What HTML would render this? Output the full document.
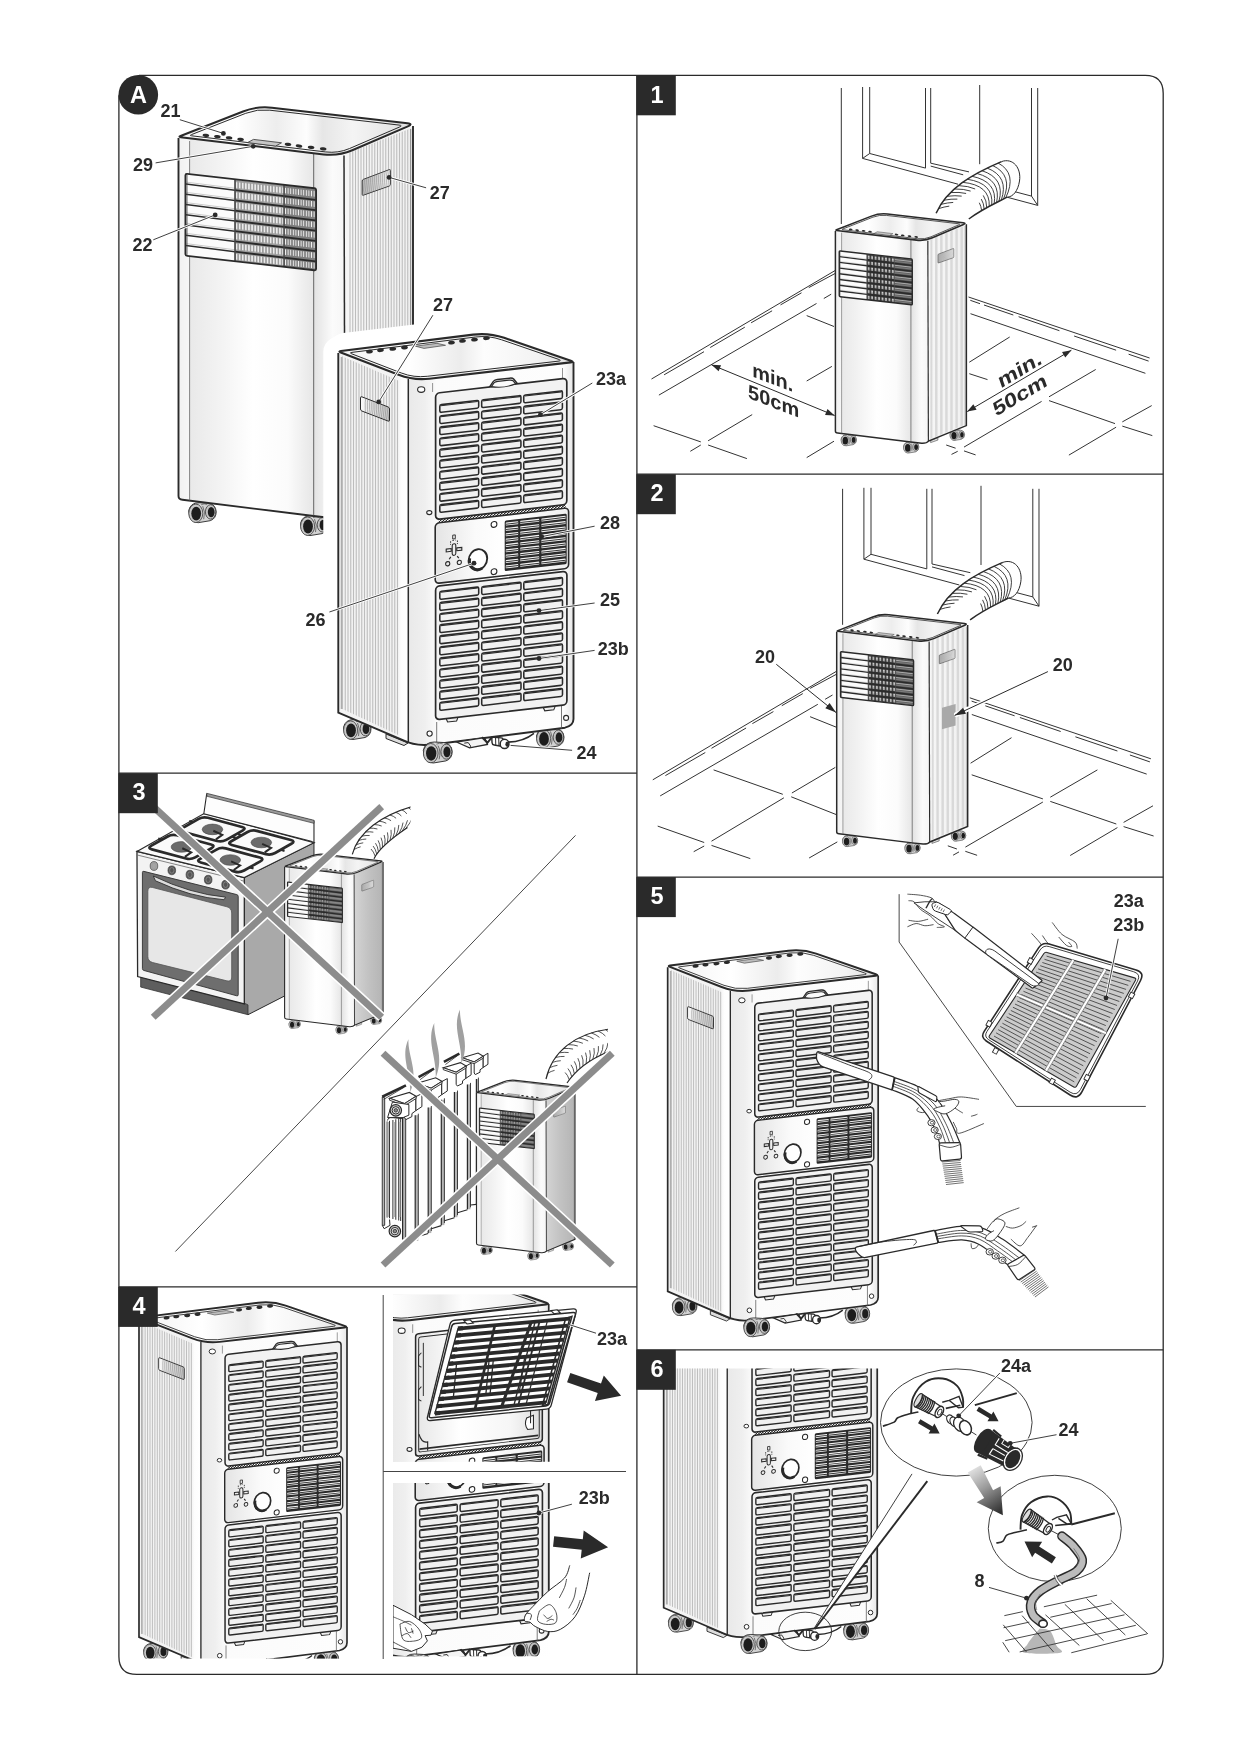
<!DOCTYPE html>
<html><head><meta charset="utf-8"><title>Portable air conditioner - illustrations</title>
<style>html,body{margin:0;padding:0;background:#fff}body{width:1240px;height:1754px;overflow:hidden}svg text{font-family:"Liberation Sans",sans-serif}</style>
</head><body>
<svg width="1240" height="1754" viewBox="0 0 1240 1754" style="display:block;filter:grayscale(1)">
<defs>

<linearGradient id="bk_side" x1="0" y1="0" x2="1" y2="0">
 <stop offset="0" stop-color="#f4f4f4"/><stop offset="0.84" stop-color="#f2f2f2"/><stop offset="0.9" stop-color="#fdfdfd"/><stop offset="1" stop-color="#ffffff"/>
</linearGradient>
<linearGradient id="bk_back" x1="0" y1="0" x2="1" y2="0">
 <stop offset="0" stop-color="#e9e9e9"/><stop offset="0.10" stop-color="#efefef"/><stop offset="0.17" stop-color="#fbfbfb"/><stop offset="0.94" stop-color="#fdfdfd"/><stop offset="1" stop-color="#e6e6e6"/>
</linearGradient>
<linearGradient id="bk_top" x1="0" y1="0" x2="1" y2="0">
 <stop offset="0" stop-color="#f2f2f2"/><stop offset="0.3" stop-color="#ffffff"/><stop offset="0.52" stop-color="#ececec"/><stop offset="0.62" stop-color="#fdfdfd"/><stop offset="0.85" stop-color="#f3f3f3"/><stop offset="1" stop-color="#dedede"/>
</linearGradient>
<linearGradient id="bk_mid" x1="0" y1="0" x2="1" y2="0">
 <stop offset="0" stop-color="#e4e4e4"/><stop offset="0.3" stop-color="#fafafa"/><stop offset="0.52" stop-color="#ffffff"/><stop offset="1" stop-color="#f0f0f0"/>
</linearGradient>
<linearGradient id="bk_hgrad" x1="0" y1="0" x2="1" y2="0">
 <stop offset="0" stop-color="#fbfbfb"/><stop offset="0.4" stop-color="#e2e2e2"/><stop offset="1" stop-color="#c4c4c4"/>
</linearGradient>
<linearGradient id="bk_open" x1="0" y1="0" x2="1" y2="0">
 <stop offset="0" stop-color="#e6e6e6"/><stop offset="0.35" stop-color="#ffffff"/><stop offset="0.75" stop-color="#f6f6f6"/><stop offset="1" stop-color="#dcdcdc"/>
</linearGradient>
<pattern id="hatch" width="3.4" height="6" patternUnits="userSpaceOnUse" patternTransform="skewX(-55)">
 <rect x="0" y="0" width="1.7" height="6" fill="#2b2a29"/>
</pattern>

<g id="backunit"><g transform="translate(357,729.5) scale(1)"><path d="M-13.5,-2 Q-12,-10 -3,-10 L6,-9.5 Q13.5,-8.5 14,-1 Q14,6 8,8 L-4,10 Q-13,10 -13.5,-2 Z" fill="#d2d2d2" stroke="#2b2a29" stroke-width="0.9"/><ellipse cx="8.4" cy="-0.8" rx="5.2" ry="7.2" fill="#c2c2c2" stroke="#3a3a3a" stroke-width="0.8"/><ellipse cx="9" cy="-0.6" rx="3.4" ry="5.2" fill="#1d1d1d"/><ellipse cx="-6.4" cy="0.6" rx="7" ry="9.2" fill="#c8c8c8" stroke="#3a3a3a" stroke-width="0.8"/><ellipse cx="-6" cy="0.9" rx="4.9" ry="6.9" fill="#1d1d1d"/><path d="M0.5,-6.5 Q3.5,-1 1.5,6.5" fill="none" stroke="#555" stroke-width="0.8"/><path d="M-1,-8 Q2,-9.5 5,-8.2" fill="none" stroke="#555" stroke-width="0.7"/></g>
<g transform="translate(550,738) scale(1)"><path d="M-13.5,-2 Q-12,-10 -3,-10 L6,-9.5 Q13.5,-8.5 14,-1 Q14,6 8,8 L-4,10 Q-13,10 -13.5,-2 Z" fill="#d2d2d2" stroke="#2b2a29" stroke-width="0.9"/><ellipse cx="8.4" cy="-0.8" rx="5.2" ry="7.2" fill="#c2c2c2" stroke="#3a3a3a" stroke-width="0.8"/><ellipse cx="9" cy="-0.6" rx="3.4" ry="5.2" fill="#1d1d1d"/><ellipse cx="-6.4" cy="0.6" rx="7" ry="9.2" fill="#c8c8c8" stroke="#3a3a3a" stroke-width="0.8"/><ellipse cx="-6" cy="0.9" rx="4.9" ry="6.9" fill="#1d1d1d"/><path d="M0.5,-6.5 Q3.5,-1 1.5,6.5" fill="none" stroke="#555" stroke-width="0.8"/><path d="M-1,-8 Q2,-9.5 5,-8.2" fill="none" stroke="#555" stroke-width="0.7"/></g>
<path d="M386,734 L386,738.5 L404,745.5 L408,743 Z" fill="#ddd" stroke="#2b2a29" stroke-width="1" />
<path d="M338.3,352 L408.3,380 L408.3,742.5 L338.3,712.6 Z" fill="url(#bk_side)" stroke="none"/>
<clipPath id="bk_sideclip"><path d="M341.3,356 L399.3,381 L399.3,735.5 L341.3,708.5 Z"/></clipPath>
<g clip-path="url(#bk_sideclip)" stroke="#bdbdbd" stroke-width="1.1"><line x1="342.5" y1="350" x2="342.5" y2="745"/><line x1="345.25" y1="350" x2="345.25" y2="745"/><line x1="348" y1="350" x2="348" y2="745"/><line x1="350.75" y1="350" x2="350.75" y2="745"/><line x1="353.5" y1="350" x2="353.5" y2="745"/><line x1="356.25" y1="350" x2="356.25" y2="745"/><line x1="359" y1="350" x2="359" y2="745"/><line x1="361.75" y1="350" x2="361.75" y2="745"/><line x1="364.5" y1="350" x2="364.5" y2="745"/><line x1="367.25" y1="350" x2="367.25" y2="745"/><line x1="370" y1="350" x2="370" y2="745"/><line x1="372.75" y1="350" x2="372.75" y2="745"/><line x1="375.5" y1="350" x2="375.5" y2="745"/><line x1="378.25" y1="350" x2="378.25" y2="745"/><line x1="381" y1="350" x2="381" y2="745"/><line x1="383.75" y1="350" x2="383.75" y2="745"/><line x1="386.5" y1="350" x2="386.5" y2="745"/><line x1="389.25" y1="350" x2="389.25" y2="745"/><line x1="392" y1="350" x2="392" y2="745"/><line x1="394.75" y1="350" x2="394.75" y2="745"/><line x1="397.5" y1="350" x2="397.5" y2="745"/></g>
<path d="M408.3,380 L573.5,362 L573.5,719 Q573.5,725.5 565,727.7 L437,744 Q420,745.6 408.3,742.5 Z" fill="url(#bk_back)" stroke="none"/>
<path d="M338.3,353 L338.3,712.6 L404,740.6 Q412,744.6 424,745 Q431,744.9 437,744 L565,727.7 Q573.5,725.5 573.5,719 L573.5,362" fill="none" stroke="#2b2a29" stroke-width="1.9" />
<line x1="408.3" y1="379" x2="408.3" y2="742.5" stroke="#2b2a29" stroke-width="1.5" />
<line x1="341.3" y1="357" x2="341.3" y2="709" stroke="#777" stroke-width="0.7" />
<line x1="436.7" y1="722" x2="436.7" y2="743.8" stroke="#555" stroke-width="0.8" />
<line x1="561.5" y1="706" x2="561.5" y2="728.5" stroke="#555" stroke-width="0.8" />
<line x1="432.6" y1="383" x2="432.6" y2="392" stroke="#777" stroke-width="0.8" />
<line x1="562.5" y1="368" x2="562.5" y2="380" stroke="#777" stroke-width="0.8" />
<path d="M340.8,352.48 Q338,351.4 340.98,351.03 L473.12,334.58 Q489,332.6 504.13,337.8 L570.82,360.7 Q574.6,362 570.63,362.46 L429.39,378.76 Q413.5,380.6 398.58,374.83 Z" fill="url(#bk_top)" stroke="#2b2a29" stroke-width="2.2" />
<path d="M351.78,353.84 Q348.98,352.75 351.96,352.38 L475.32,337.02 Q488.71,335.36 501.48,339.74 L558.2,359.22 Q562.46,360.68 557.99,361.2 L427.26,376.29 Q413.85,377.84 401.26,372.97 Z" fill="none" stroke="#2b2a29" stroke-width="1.0" />
<ellipse cx="369.5" cy="351.6" rx="3.4" ry="1.9" fill="#2b2a29" transform="rotate(-6 369.5 351.6)"/>
<ellipse cx="380.5" cy="350.2" rx="3.4" ry="1.9" fill="#2b2a29" transform="rotate(-6 380.5 350.2)"/>
<ellipse cx="392.8" cy="348.9" rx="3.4" ry="1.9" fill="#2b2a29" transform="rotate(-6 392.8 348.9)"/>
<ellipse cx="404.5" cy="347.5" rx="3.4" ry="1.9" fill="#2b2a29" transform="rotate(-6 404.5 347.5)"/>
<ellipse cx="451.5" cy="342.6" rx="3.4" ry="1.9" fill="#2b2a29" transform="rotate(-6 451.5 342.6)"/>
<ellipse cx="462.5" cy="340.9" rx="3.4" ry="1.9" fill="#2b2a29" transform="rotate(-6 462.5 340.9)"/>
<ellipse cx="474.5" cy="339.6" rx="3.4" ry="1.9" fill="#2b2a29" transform="rotate(-6 474.5 339.6)"/>
<ellipse cx="486.5" cy="338.2" rx="3.4" ry="1.9" fill="#2b2a29" transform="rotate(-6 486.5 338.2)"/>
<path d="M415.5,346.2 L437,343.3 L445.5,345.3 L424,348.4 Z" fill="#bdbdbd" stroke="#555" stroke-width="0.8" />
<path d="M360.5,397.8 Q360.5,396.3 361.9,396.84 L388.1,406.96 Q389.5,407.5 389.5,409 L389.5,420.1 Q389.5,421.6 388.1,421.06 L361.9,411.04 Q360.5,410.5 360.5,409 Z" fill="url(#bk_hgrad)" stroke="#2b2a29" stroke-width="1.0" />
<clipPath id="bk_hclip"><path d="M361,397 L389,408 L389,421 L361,410 Z"/></clipPath>
<g clip-path="url(#bk_hclip)" stroke="#888" stroke-width="0.6" fill="none"><path d="M366,396 Q363.5,409 368,424"/><path d="M368.2,396 Q365.7,409 370.2,424"/><path d="M370.4,396 Q367.9,409 372.4,424"/><path d="M372.6,396 Q370.1,409 374.6,424"/><path d="M374.8,396 Q372.3,409 376.8,424"/><path d="M377,396 Q374.5,409 379,424"/><path d="M379.2,396 Q376.7,409 381.2,424"/><path d="M381.4,396 Q378.9,409 383.4,424"/><path d="M383.6,396 Q381.1,409 385.6,424"/><path d="M385.8,396 Q383.3,409 387.8,424"/><path d="M388,396 Q385.5,409 390,424"/><path d="M390.2,396 Q387.7,409 392.2,424"/></g>
<ellipse cx="421.2" cy="389.6" rx="3.6" ry="2.8" fill="#fff" stroke="#2b2a29" stroke-width="1.1"/>
<ellipse cx="429.3" cy="512.6" rx="2.6" ry="2.0" fill="#fff" stroke="#2b2a29" stroke-width="1.1"/>
<ellipse cx="429.6" cy="733.6" rx="2.6" ry="2.6" fill="#fff" stroke="#2b2a29" stroke-width="1.1"/>
<ellipse cx="566.1" cy="717.9" rx="2.5" ry="2.5" fill="#fff" stroke="#2b2a29" stroke-width="1.1"/>
<g transform="translate(435.6,519.2) skewY(-6.56)"><rect x="3" y="0.3" width="127" height="4.2" fill="url(#hatch)"/></g>
<g transform="translate(435.6,393.2) skewY(-6.56)"><path d="M53.14,1 L57.73,-5.2 Q59.04,-6.5 61.66,-6.5 L74.13,-6.5 Q76.75,-6.5 78.06,-5.2 L82.66,1" fill="#f4f4f4" stroke="#2b2a29" stroke-width="1.5"/><rect x="0" y="0" width="131.2" height="126.4" rx="4" ry="4" fill="#f2f2f2" stroke="#2b2a29" stroke-width="1.7"/><path d="M55.76,-0.2 L58.38,-3.6 Q59.7,-4.6 62.32,-4.6 L73.47,-4.6 Q76.1,-4.6 77.41,-3.6 L80.03,-0.2 Q68.22,3.4 55.76,-0.2Z" fill="#fafafa" stroke="#2b2a29" stroke-width="1.2"/><rect x="4.21" y="12.1" width="38.86" height="7.7" rx="1.6" fill="#f1f1f1" stroke="#2b2a29" stroke-width="1.55"/><line x1="5.21" y1="13.1" x2="42.07" y2="13.1" stroke="#2b2a29" stroke-width="1.1"/><rect x="4.21" y="23.2" width="38.86" height="7.7" rx="1.6" fill="#f1f1f1" stroke="#2b2a29" stroke-width="1.55"/><line x1="5.21" y1="24.2" x2="42.07" y2="24.2" stroke="#2b2a29" stroke-width="1.1"/><rect x="4.21" y="34.3" width="38.86" height="7.7" rx="1.6" fill="#f1f1f1" stroke="#2b2a29" stroke-width="1.55"/><line x1="5.21" y1="35.3" x2="42.07" y2="35.3" stroke="#2b2a29" stroke-width="1.1"/><rect x="4.21" y="45.4" width="38.86" height="7.7" rx="1.6" fill="#f1f1f1" stroke="#2b2a29" stroke-width="1.55"/><line x1="5.21" y1="46.4" x2="42.07" y2="46.4" stroke="#2b2a29" stroke-width="1.1"/><rect x="4.21" y="56.5" width="38.86" height="7.7" rx="1.6" fill="#f1f1f1" stroke="#2b2a29" stroke-width="1.55"/><line x1="5.21" y1="57.5" x2="42.07" y2="57.5" stroke="#2b2a29" stroke-width="1.1"/><rect x="4.21" y="67.6" width="38.86" height="7.7" rx="1.6" fill="#f1f1f1" stroke="#2b2a29" stroke-width="1.55"/><line x1="5.21" y1="68.6" x2="42.07" y2="68.6" stroke="#2b2a29" stroke-width="1.1"/><rect x="4.21" y="78.7" width="38.86" height="7.7" rx="1.6" fill="#f1f1f1" stroke="#2b2a29" stroke-width="1.55"/><line x1="5.21" y1="79.7" x2="42.07" y2="79.7" stroke="#2b2a29" stroke-width="1.1"/><rect x="4.21" y="89.8" width="38.86" height="7.7" rx="1.6" fill="#f1f1f1" stroke="#2b2a29" stroke-width="1.55"/><line x1="5.21" y1="90.8" x2="42.07" y2="90.8" stroke="#2b2a29" stroke-width="1.1"/><rect x="4.21" y="100.9" width="38.86" height="7.7" rx="1.6" fill="#f1f1f1" stroke="#2b2a29" stroke-width="1.55"/><line x1="5.21" y1="101.9" x2="42.07" y2="101.9" stroke="#2b2a29" stroke-width="1.1"/><rect x="4.21" y="112" width="38.86" height="7.7" rx="1.6" fill="#f1f1f1" stroke="#2b2a29" stroke-width="1.55"/><line x1="5.21" y1="113" x2="42.07" y2="113" stroke="#2b2a29" stroke-width="1.1"/><rect x="46.07" y="12.1" width="39.26" height="7.7" rx="1.6" fill="#f1f1f1" stroke="#2b2a29" stroke-width="1.55"/><line x1="47.07" y1="13.1" x2="84.33" y2="13.1" stroke="#2b2a29" stroke-width="1.1"/><rect x="46.07" y="23.2" width="39.26" height="7.7" rx="1.6" fill="#f1f1f1" stroke="#2b2a29" stroke-width="1.55"/><line x1="47.07" y1="24.2" x2="84.33" y2="24.2" stroke="#2b2a29" stroke-width="1.1"/><rect x="46.07" y="34.3" width="39.26" height="7.7" rx="1.6" fill="#f1f1f1" stroke="#2b2a29" stroke-width="1.55"/><line x1="47.07" y1="35.3" x2="84.33" y2="35.3" stroke="#2b2a29" stroke-width="1.1"/><rect x="46.07" y="45.4" width="39.26" height="7.7" rx="1.6" fill="#f1f1f1" stroke="#2b2a29" stroke-width="1.55"/><line x1="47.07" y1="46.4" x2="84.33" y2="46.4" stroke="#2b2a29" stroke-width="1.1"/><rect x="46.07" y="56.5" width="39.26" height="7.7" rx="1.6" fill="#f1f1f1" stroke="#2b2a29" stroke-width="1.55"/><line x1="47.07" y1="57.5" x2="84.33" y2="57.5" stroke="#2b2a29" stroke-width="1.1"/><rect x="46.07" y="67.6" width="39.26" height="7.7" rx="1.6" fill="#f1f1f1" stroke="#2b2a29" stroke-width="1.55"/><line x1="47.07" y1="68.6" x2="84.33" y2="68.6" stroke="#2b2a29" stroke-width="1.1"/><rect x="46.07" y="78.7" width="39.26" height="7.7" rx="1.6" fill="#f1f1f1" stroke="#2b2a29" stroke-width="1.55"/><line x1="47.07" y1="79.7" x2="84.33" y2="79.7" stroke="#2b2a29" stroke-width="1.1"/><rect x="46.07" y="89.8" width="39.26" height="7.7" rx="1.6" fill="#f1f1f1" stroke="#2b2a29" stroke-width="1.55"/><line x1="47.07" y1="90.8" x2="84.33" y2="90.8" stroke="#2b2a29" stroke-width="1.1"/><rect x="46.07" y="100.9" width="39.26" height="7.7" rx="1.6" fill="#f1f1f1" stroke="#2b2a29" stroke-width="1.55"/><line x1="47.07" y1="101.9" x2="84.33" y2="101.9" stroke="#2b2a29" stroke-width="1.1"/><rect x="46.07" y="112" width="39.26" height="7.7" rx="1.6" fill="#f1f1f1" stroke="#2b2a29" stroke-width="1.55"/><line x1="47.07" y1="113" x2="84.33" y2="113" stroke="#2b2a29" stroke-width="1.1"/><rect x="88.13" y="12.1" width="38.66" height="7.7" rx="1.6" fill="#f1f1f1" stroke="#2b2a29" stroke-width="1.55"/><line x1="89.13" y1="13.1" x2="125.79" y2="13.1" stroke="#2b2a29" stroke-width="1.1"/><rect x="88.13" y="23.2" width="38.66" height="7.7" rx="1.6" fill="#f1f1f1" stroke="#2b2a29" stroke-width="1.55"/><line x1="89.13" y1="24.2" x2="125.79" y2="24.2" stroke="#2b2a29" stroke-width="1.1"/><rect x="88.13" y="34.3" width="38.66" height="7.7" rx="1.6" fill="#f1f1f1" stroke="#2b2a29" stroke-width="1.55"/><line x1="89.13" y1="35.3" x2="125.79" y2="35.3" stroke="#2b2a29" stroke-width="1.1"/><rect x="88.13" y="45.4" width="38.66" height="7.7" rx="1.6" fill="#f1f1f1" stroke="#2b2a29" stroke-width="1.55"/><line x1="89.13" y1="46.4" x2="125.79" y2="46.4" stroke="#2b2a29" stroke-width="1.1"/><rect x="88.13" y="56.5" width="38.66" height="7.7" rx="1.6" fill="#f1f1f1" stroke="#2b2a29" stroke-width="1.55"/><line x1="89.13" y1="57.5" x2="125.79" y2="57.5" stroke="#2b2a29" stroke-width="1.1"/><rect x="88.13" y="67.6" width="38.66" height="7.7" rx="1.6" fill="#f1f1f1" stroke="#2b2a29" stroke-width="1.55"/><line x1="89.13" y1="68.6" x2="125.79" y2="68.6" stroke="#2b2a29" stroke-width="1.1"/><rect x="88.13" y="78.7" width="38.66" height="7.7" rx="1.6" fill="#f1f1f1" stroke="#2b2a29" stroke-width="1.55"/><line x1="89.13" y1="79.7" x2="125.79" y2="79.7" stroke="#2b2a29" stroke-width="1.1"/><rect x="88.13" y="89.8" width="38.66" height="7.7" rx="1.6" fill="#f1f1f1" stroke="#2b2a29" stroke-width="1.55"/><line x1="89.13" y1="90.8" x2="125.79" y2="90.8" stroke="#2b2a29" stroke-width="1.1"/><rect x="88.13" y="100.9" width="38.66" height="7.7" rx="1.6" fill="#f1f1f1" stroke="#2b2a29" stroke-width="1.55"/><line x1="89.13" y1="101.9" x2="125.79" y2="101.9" stroke="#2b2a29" stroke-width="1.1"/><rect x="88.13" y="112" width="38.66" height="7.7" rx="1.6" fill="#f1f1f1" stroke="#2b2a29" stroke-width="1.55"/><line x1="89.13" y1="113" x2="125.79" y2="113" stroke="#2b2a29" stroke-width="1.1"/></g>
<g transform="translate(435.6,586.3) skewY(-6.56)"><path d="M10.5,133.5 l1.5,3.6 l9,0 l1.5,-3.6" fill="#eee" stroke="#2b2a29" stroke-width="1.1"/><path d="M107.67,133.5 l1.5,3.6 l9,0 l1.5,-3.6" fill="#eee" stroke="#2b2a29" stroke-width="1.1"/><rect x="0" y="0" width="131.3" height="133.5" rx="4" ry="4" fill="#f2f2f2" stroke="#2b2a29" stroke-width="1.7"/><rect x="4.21" y="5.6" width="38.89" height="8" rx="1.6" fill="#f1f1f1" stroke="#2b2a29" stroke-width="1.55"/><line x1="5.21" y1="6.6" x2="42.1" y2="6.6" stroke="#2b2a29" stroke-width="1.1"/><rect x="4.21" y="16.7" width="38.89" height="8" rx="1.6" fill="#f1f1f1" stroke="#2b2a29" stroke-width="1.55"/><line x1="5.21" y1="17.7" x2="42.1" y2="17.7" stroke="#2b2a29" stroke-width="1.1"/><rect x="4.21" y="27.8" width="38.89" height="8" rx="1.6" fill="#f1f1f1" stroke="#2b2a29" stroke-width="1.55"/><line x1="5.21" y1="28.8" x2="42.1" y2="28.8" stroke="#2b2a29" stroke-width="1.1"/><rect x="4.21" y="38.9" width="38.89" height="8" rx="1.6" fill="#f1f1f1" stroke="#2b2a29" stroke-width="1.55"/><line x1="5.21" y1="39.9" x2="42.1" y2="39.9" stroke="#2b2a29" stroke-width="1.1"/><rect x="4.21" y="50" width="38.89" height="8" rx="1.6" fill="#f1f1f1" stroke="#2b2a29" stroke-width="1.55"/><line x1="5.21" y1="51" x2="42.1" y2="51" stroke="#2b2a29" stroke-width="1.1"/><rect x="4.21" y="61.1" width="38.89" height="8" rx="1.6" fill="#f1f1f1" stroke="#2b2a29" stroke-width="1.55"/><line x1="5.21" y1="62.1" x2="42.1" y2="62.1" stroke="#2b2a29" stroke-width="1.1"/><rect x="4.21" y="72.2" width="38.89" height="8" rx="1.6" fill="#f1f1f1" stroke="#2b2a29" stroke-width="1.55"/><line x1="5.21" y1="73.2" x2="42.1" y2="73.2" stroke="#2b2a29" stroke-width="1.1"/><rect x="4.21" y="83.3" width="38.89" height="8" rx="1.6" fill="#f1f1f1" stroke="#2b2a29" stroke-width="1.55"/><line x1="5.21" y1="84.3" x2="42.1" y2="84.3" stroke="#2b2a29" stroke-width="1.1"/><rect x="4.21" y="94.4" width="38.89" height="8" rx="1.6" fill="#f1f1f1" stroke="#2b2a29" stroke-width="1.55"/><line x1="5.21" y1="95.4" x2="42.1" y2="95.4" stroke="#2b2a29" stroke-width="1.1"/><rect x="4.21" y="105.5" width="38.89" height="8" rx="1.6" fill="#f1f1f1" stroke="#2b2a29" stroke-width="1.55"/><line x1="5.21" y1="106.5" x2="42.1" y2="106.5" stroke="#2b2a29" stroke-width="1.1"/><rect x="4.21" y="116.6" width="38.89" height="8" rx="1.6" fill="#f1f1f1" stroke="#2b2a29" stroke-width="1.55"/><line x1="5.21" y1="117.6" x2="42.1" y2="117.6" stroke="#2b2a29" stroke-width="1.1"/><rect x="46.11" y="5.6" width="39.29" height="8" rx="1.6" fill="#f1f1f1" stroke="#2b2a29" stroke-width="1.55"/><line x1="47.11" y1="6.6" x2="84.4" y2="6.6" stroke="#2b2a29" stroke-width="1.1"/><rect x="46.11" y="16.7" width="39.29" height="8" rx="1.6" fill="#f1f1f1" stroke="#2b2a29" stroke-width="1.55"/><line x1="47.11" y1="17.7" x2="84.4" y2="17.7" stroke="#2b2a29" stroke-width="1.1"/><rect x="46.11" y="27.8" width="39.29" height="8" rx="1.6" fill="#f1f1f1" stroke="#2b2a29" stroke-width="1.55"/><line x1="47.11" y1="28.8" x2="84.4" y2="28.8" stroke="#2b2a29" stroke-width="1.1"/><rect x="46.11" y="38.9" width="39.29" height="8" rx="1.6" fill="#f1f1f1" stroke="#2b2a29" stroke-width="1.55"/><line x1="47.11" y1="39.9" x2="84.4" y2="39.9" stroke="#2b2a29" stroke-width="1.1"/><rect x="46.11" y="50" width="39.29" height="8" rx="1.6" fill="#f1f1f1" stroke="#2b2a29" stroke-width="1.55"/><line x1="47.11" y1="51" x2="84.4" y2="51" stroke="#2b2a29" stroke-width="1.1"/><rect x="46.11" y="61.1" width="39.29" height="8" rx="1.6" fill="#f1f1f1" stroke="#2b2a29" stroke-width="1.55"/><line x1="47.11" y1="62.1" x2="84.4" y2="62.1" stroke="#2b2a29" stroke-width="1.1"/><rect x="46.11" y="72.2" width="39.29" height="8" rx="1.6" fill="#f1f1f1" stroke="#2b2a29" stroke-width="1.55"/><line x1="47.11" y1="73.2" x2="84.4" y2="73.2" stroke="#2b2a29" stroke-width="1.1"/><rect x="46.11" y="83.3" width="39.29" height="8" rx="1.6" fill="#f1f1f1" stroke="#2b2a29" stroke-width="1.55"/><line x1="47.11" y1="84.3" x2="84.4" y2="84.3" stroke="#2b2a29" stroke-width="1.1"/><rect x="46.11" y="94.4" width="39.29" height="8" rx="1.6" fill="#f1f1f1" stroke="#2b2a29" stroke-width="1.55"/><line x1="47.11" y1="95.4" x2="84.4" y2="95.4" stroke="#2b2a29" stroke-width="1.1"/><rect x="46.11" y="105.5" width="39.29" height="8" rx="1.6" fill="#f1f1f1" stroke="#2b2a29" stroke-width="1.55"/><line x1="47.11" y1="106.5" x2="84.4" y2="106.5" stroke="#2b2a29" stroke-width="1.1"/><rect x="46.11" y="116.6" width="39.29" height="8" rx="1.6" fill="#f1f1f1" stroke="#2b2a29" stroke-width="1.55"/><line x1="47.11" y1="117.6" x2="84.4" y2="117.6" stroke="#2b2a29" stroke-width="1.1"/><rect x="88.2" y="5.6" width="38.69" height="8" rx="1.6" fill="#f1f1f1" stroke="#2b2a29" stroke-width="1.55"/><line x1="89.2" y1="6.6" x2="125.89" y2="6.6" stroke="#2b2a29" stroke-width="1.1"/><rect x="88.2" y="16.7" width="38.69" height="8" rx="1.6" fill="#f1f1f1" stroke="#2b2a29" stroke-width="1.55"/><line x1="89.2" y1="17.7" x2="125.89" y2="17.7" stroke="#2b2a29" stroke-width="1.1"/><rect x="88.2" y="27.8" width="38.69" height="8" rx="1.6" fill="#f1f1f1" stroke="#2b2a29" stroke-width="1.55"/><line x1="89.2" y1="28.8" x2="125.89" y2="28.8" stroke="#2b2a29" stroke-width="1.1"/><rect x="88.2" y="38.9" width="38.69" height="8" rx="1.6" fill="#f1f1f1" stroke="#2b2a29" stroke-width="1.55"/><line x1="89.2" y1="39.9" x2="125.89" y2="39.9" stroke="#2b2a29" stroke-width="1.1"/><rect x="88.2" y="50" width="38.69" height="8" rx="1.6" fill="#f1f1f1" stroke="#2b2a29" stroke-width="1.55"/><line x1="89.2" y1="51" x2="125.89" y2="51" stroke="#2b2a29" stroke-width="1.1"/><rect x="88.2" y="61.1" width="38.69" height="8" rx="1.6" fill="#f1f1f1" stroke="#2b2a29" stroke-width="1.55"/><line x1="89.2" y1="62.1" x2="125.89" y2="62.1" stroke="#2b2a29" stroke-width="1.1"/><rect x="88.2" y="72.2" width="38.69" height="8" rx="1.6" fill="#f1f1f1" stroke="#2b2a29" stroke-width="1.55"/><line x1="89.2" y1="73.2" x2="125.89" y2="73.2" stroke="#2b2a29" stroke-width="1.1"/><rect x="88.2" y="83.3" width="38.69" height="8" rx="1.6" fill="#f1f1f1" stroke="#2b2a29" stroke-width="1.55"/><line x1="89.2" y1="84.3" x2="125.89" y2="84.3" stroke="#2b2a29" stroke-width="1.1"/><rect x="88.2" y="94.4" width="38.69" height="8" rx="1.6" fill="#f1f1f1" stroke="#2b2a29" stroke-width="1.55"/><line x1="89.2" y1="95.4" x2="125.89" y2="95.4" stroke="#2b2a29" stroke-width="1.1"/><rect x="88.2" y="105.5" width="38.69" height="8" rx="1.6" fill="#f1f1f1" stroke="#2b2a29" stroke-width="1.55"/><line x1="89.2" y1="106.5" x2="125.89" y2="106.5" stroke="#2b2a29" stroke-width="1.1"/><rect x="88.2" y="116.6" width="38.69" height="8" rx="1.6" fill="#f1f1f1" stroke="#2b2a29" stroke-width="1.55"/><line x1="89.2" y1="117.6" x2="125.89" y2="117.6" stroke="#2b2a29" stroke-width="1.1"/></g>
<g transform="translate(435.2,523.2) skewY(-6.56)"><rect x="0" y="0" width="133.4" height="60.4" rx="4" fill="url(#bk_mid)" stroke="#2b2a29" stroke-width="1.6"/><rect x="69.5" y="5.5" width="62" height="50.5" rx="1.5" fill="#2b2a29"/><rect x="70.6" y="7.5" width="12.4" height="3.0" rx="0.5" fill="#f4f4f4"/><rect x="70.6" y="8.65" width="12.4" height="1.0" fill="#333"/><rect x="70.6" y="12.85" width="12.4" height="3.0" rx="0.5" fill="#f4f4f4"/><rect x="70.6" y="14" width="12.4" height="1.0" fill="#333"/><rect x="70.6" y="18.2" width="12.4" height="3.0" rx="0.5" fill="#f4f4f4"/><rect x="70.6" y="19.35" width="12.4" height="1.0" fill="#333"/><rect x="70.6" y="23.55" width="12.4" height="3.0" rx="0.5" fill="#f4f4f4"/><rect x="70.6" y="24.7" width="12.4" height="1.0" fill="#333"/><rect x="70.6" y="28.9" width="12.4" height="3.0" rx="0.5" fill="#f4f4f4"/><rect x="70.6" y="30.05" width="12.4" height="1.0" fill="#333"/><rect x="70.6" y="34.25" width="12.4" height="3.0" rx="0.5" fill="#f4f4f4"/><rect x="70.6" y="35.4" width="12.4" height="1.0" fill="#333"/><rect x="70.6" y="39.6" width="12.4" height="3.0" rx="0.5" fill="#f4f4f4"/><rect x="70.6" y="40.75" width="12.4" height="1.0" fill="#333"/><rect x="70.6" y="44.95" width="12.4" height="3.0" rx="0.5" fill="#f4f4f4"/><rect x="70.6" y="46.1" width="12.4" height="1.0" fill="#333"/><rect x="70.6" y="50.3" width="12.4" height="3.0" rx="0.5" fill="#f4f4f4"/><rect x="70.6" y="51.45" width="12.4" height="1.0" fill="#333"/><rect x="85" y="7.5" width="19" height="3.0" rx="0.5" fill="#f4f4f4"/><rect x="85" y="8.65" width="19" height="1.0" fill="#333"/><rect x="85" y="12.85" width="19" height="3.0" rx="0.5" fill="#f4f4f4"/><rect x="85" y="14" width="19" height="1.0" fill="#333"/><rect x="85" y="18.2" width="19" height="3.0" rx="0.5" fill="#f4f4f4"/><rect x="85" y="19.35" width="19" height="1.0" fill="#333"/><rect x="85" y="23.55" width="19" height="3.0" rx="0.5" fill="#f4f4f4"/><rect x="85" y="24.7" width="19" height="1.0" fill="#333"/><rect x="85" y="28.9" width="19" height="3.0" rx="0.5" fill="#f4f4f4"/><rect x="85" y="30.05" width="19" height="1.0" fill="#333"/><rect x="85" y="34.25" width="19" height="3.0" rx="0.5" fill="#f4f4f4"/><rect x="85" y="35.4" width="19" height="1.0" fill="#333"/><rect x="85" y="39.6" width="19" height="3.0" rx="0.5" fill="#f4f4f4"/><rect x="85" y="40.75" width="19" height="1.0" fill="#333"/><rect x="85" y="44.95" width="19" height="3.0" rx="0.5" fill="#f4f4f4"/><rect x="85" y="46.1" width="19" height="1.0" fill="#333"/><rect x="85" y="50.3" width="19" height="3.0" rx="0.5" fill="#f4f4f4"/><rect x="85" y="51.45" width="19" height="1.0" fill="#333"/><rect x="106.2" y="7.5" width="24.2" height="3.0" rx="0.5" fill="#f4f4f4"/><rect x="106.2" y="8.65" width="24.2" height="1.0" fill="#333"/><rect x="106.2" y="12.85" width="24.2" height="3.0" rx="0.5" fill="#f4f4f4"/><rect x="106.2" y="14" width="24.2" height="1.0" fill="#333"/><rect x="106.2" y="18.2" width="24.2" height="3.0" rx="0.5" fill="#f4f4f4"/><rect x="106.2" y="19.35" width="24.2" height="1.0" fill="#333"/><rect x="106.2" y="23.55" width="24.2" height="3.0" rx="0.5" fill="#f4f4f4"/><rect x="106.2" y="24.7" width="24.2" height="1.0" fill="#333"/><rect x="106.2" y="28.9" width="24.2" height="3.0" rx="0.5" fill="#f4f4f4"/><rect x="106.2" y="30.05" width="24.2" height="1.0" fill="#333"/><rect x="106.2" y="34.25" width="24.2" height="3.0" rx="0.5" fill="#f4f4f4"/><rect x="106.2" y="35.4" width="24.2" height="1.0" fill="#333"/><rect x="106.2" y="39.6" width="24.2" height="3.0" rx="0.5" fill="#f4f4f4"/><rect x="106.2" y="40.75" width="24.2" height="1.0" fill="#333"/><rect x="106.2" y="44.95" width="24.2" height="3.0" rx="0.5" fill="#f4f4f4"/><rect x="106.2" y="46.1" width="24.2" height="1.0" fill="#333"/><rect x="106.2" y="50.3" width="24.2" height="3.0" rx="0.5" fill="#f4f4f4"/><rect x="106.2" y="51.45" width="24.2" height="1.0" fill="#333"/><circle cx="58.8" cy="8" r="2.9" fill="#fff" stroke="#2b2a29" stroke-width="1.1"/><circle cx="58.8" cy="55.2" r="2.9" fill="#fff" stroke="#2b2a29" stroke-width="1.1"/><ellipse cx="42.7" cy="41.2" rx="9.3" ry="10.3" fill="#fff" stroke="#2b2a29" stroke-width="1.9"/><path d="M34.5,39 A9,10 0 0 0 47,50.5" fill="none" stroke="#2b2a29" stroke-width="3"/><g stroke="#2b2a29" stroke-width="0.9" fill="none" transform="translate(18.8,26)"><rect x="-1.3" y="-12" width="2.6" height="3.8"/><path d="M-3.4,-6.2 v3.6 M3.4,-6.2 v3.6 M-1.6,-6.8 h3.2" stroke-dasharray="1.6 1"/><path d="M-1.8,-1.5 v8 a1.8,1.8 0 0 0 3.6,0 v-8 a1.8,1.8 0 0 0 -3.6,0 Z" stroke-width="1.1"/><path d="M-7.8,1.2 h5 v2.8 h-5 Z M2.8,1.2 h5 v2.8 h-5 Z" stroke-width="1.1"/><path d="M-3.2,9.5 l-1.6,2.2 M3.2,9.5 l1.6,2.2" stroke-width="1.2"/><circle cx="-6.3" cy="16" r="2.1" stroke-width="1.1"/><circle cx="5.3" cy="16" r="2.1" stroke-width="1.1"/></g></g>
<path d="M456.37,742.02 L469.58,747.77 L487.42,744.39 L485.16,738.97 L482.9,737.84 Z" fill="#f4f4f4" stroke="#2b2a29" stroke-width="1.3" />
<path d="M464.27,743.15 L468.23,742.58 L470.71,746.19 L469.58,747.77" fill="none" stroke="#2b2a29" stroke-width="1.0" />
<path d="M482,737.27 L487.42,742.81 L492.16,736.94" fill="none" stroke="#2b2a29" stroke-width="2.0" />
<path d="M507.74,742.13 Q523.55,741.68 533.94,733.32" fill="none" stroke="#2b2a29" stroke-width="1.6" />
<path d="M491.83,739.16 Q491.71,737.16 493.7,737.32 L501.23,737.91 Q503.23,738.06 503.23,740.06 L503.23,744.53 Q503.23,746.53 501.26,746.19 L494.13,744.96 Q492.16,744.61 492.04,742.62 Z" fill="#fff" stroke="#2b2a29" stroke-width="1.4" />
<line x1="495.55" y1="737.61" x2="495.78" y2="745.29" stroke="#2b2a29" stroke-width="1.0" />
<line x1="498.71" y1="737.84" x2="498.94" y2="745.97" stroke="#2b2a29" stroke-width="1.0" />
<ellipse cx="504.58" cy="743.94" rx="4.4" ry="4.6" fill="#fff" stroke="#2b2a29" stroke-width="1.5"/>
<ellipse cx="507.18" cy="744.27" rx="1.8" ry="2.8" fill="#2b2a29"/>
<g transform="translate(437.5,752.5) scale(1.05)"><path d="M-13.5,-2 Q-12,-10 -3,-10 L6,-9.5 Q13.5,-8.5 14,-1 Q14,6 8,8 L-4,10 Q-13,10 -13.5,-2 Z" fill="#d2d2d2" stroke="#2b2a29" stroke-width="0.9"/><ellipse cx="8.4" cy="-0.8" rx="5.2" ry="7.2" fill="#c2c2c2" stroke="#3a3a3a" stroke-width="0.8"/><ellipse cx="9" cy="-0.6" rx="3.4" ry="5.2" fill="#1d1d1d"/><ellipse cx="-6.4" cy="0.6" rx="7" ry="9.2" fill="#c8c8c8" stroke="#3a3a3a" stroke-width="0.8"/><ellipse cx="-6" cy="0.9" rx="4.9" ry="6.9" fill="#1d1d1d"/><path d="M0.5,-6.5 Q3.5,-1 1.5,6.5" fill="none" stroke="#555" stroke-width="0.8"/><path d="M-1,-8 Q2,-9.5 5,-8.2" fill="none" stroke="#555" stroke-width="0.7"/></g></g>
<g id="backunito"><g transform="translate(357,729.5) scale(1)"><path d="M-13.5,-2 Q-12,-10 -3,-10 L6,-9.5 Q13.5,-8.5 14,-1 Q14,6 8,8 L-4,10 Q-13,10 -13.5,-2 Z" fill="#d2d2d2" stroke="#2b2a29" stroke-width="0.9"/><ellipse cx="8.4" cy="-0.8" rx="5.2" ry="7.2" fill="#c2c2c2" stroke="#3a3a3a" stroke-width="0.8"/><ellipse cx="9" cy="-0.6" rx="3.4" ry="5.2" fill="#1d1d1d"/><ellipse cx="-6.4" cy="0.6" rx="7" ry="9.2" fill="#c8c8c8" stroke="#3a3a3a" stroke-width="0.8"/><ellipse cx="-6" cy="0.9" rx="4.9" ry="6.9" fill="#1d1d1d"/><path d="M0.5,-6.5 Q3.5,-1 1.5,6.5" fill="none" stroke="#555" stroke-width="0.8"/><path d="M-1,-8 Q2,-9.5 5,-8.2" fill="none" stroke="#555" stroke-width="0.7"/></g>
<g transform="translate(550,738) scale(1)"><path d="M-13.5,-2 Q-12,-10 -3,-10 L6,-9.5 Q13.5,-8.5 14,-1 Q14,6 8,8 L-4,10 Q-13,10 -13.5,-2 Z" fill="#d2d2d2" stroke="#2b2a29" stroke-width="0.9"/><ellipse cx="8.4" cy="-0.8" rx="5.2" ry="7.2" fill="#c2c2c2" stroke="#3a3a3a" stroke-width="0.8"/><ellipse cx="9" cy="-0.6" rx="3.4" ry="5.2" fill="#1d1d1d"/><ellipse cx="-6.4" cy="0.6" rx="7" ry="9.2" fill="#c8c8c8" stroke="#3a3a3a" stroke-width="0.8"/><ellipse cx="-6" cy="0.9" rx="4.9" ry="6.9" fill="#1d1d1d"/><path d="M0.5,-6.5 Q3.5,-1 1.5,6.5" fill="none" stroke="#555" stroke-width="0.8"/><path d="M-1,-8 Q2,-9.5 5,-8.2" fill="none" stroke="#555" stroke-width="0.7"/></g>
<path d="M386,734 L386,738.5 L404,745.5 L408,743 Z" fill="#ddd" stroke="#2b2a29" stroke-width="1" />
<path d="M338.3,352 L408.3,380 L408.3,742.5 L338.3,712.6 Z" fill="url(#bk_side)" stroke="none"/>
<clipPath id="bk_sideclipo"><path d="M341.3,356 L399.3,381 L399.3,735.5 L341.3,708.5 Z"/></clipPath>
<g clip-path="url(#bk_sideclipo)" stroke="#bdbdbd" stroke-width="1.1"><line x1="342.5" y1="350" x2="342.5" y2="745"/><line x1="345.25" y1="350" x2="345.25" y2="745"/><line x1="348" y1="350" x2="348" y2="745"/><line x1="350.75" y1="350" x2="350.75" y2="745"/><line x1="353.5" y1="350" x2="353.5" y2="745"/><line x1="356.25" y1="350" x2="356.25" y2="745"/><line x1="359" y1="350" x2="359" y2="745"/><line x1="361.75" y1="350" x2="361.75" y2="745"/><line x1="364.5" y1="350" x2="364.5" y2="745"/><line x1="367.25" y1="350" x2="367.25" y2="745"/><line x1="370" y1="350" x2="370" y2="745"/><line x1="372.75" y1="350" x2="372.75" y2="745"/><line x1="375.5" y1="350" x2="375.5" y2="745"/><line x1="378.25" y1="350" x2="378.25" y2="745"/><line x1="381" y1="350" x2="381" y2="745"/><line x1="383.75" y1="350" x2="383.75" y2="745"/><line x1="386.5" y1="350" x2="386.5" y2="745"/><line x1="389.25" y1="350" x2="389.25" y2="745"/><line x1="392" y1="350" x2="392" y2="745"/><line x1="394.75" y1="350" x2="394.75" y2="745"/><line x1="397.5" y1="350" x2="397.5" y2="745"/></g>
<path d="M408.3,380 L573.5,362 L573.5,719 Q573.5,725.5 565,727.7 L437,744 Q420,745.6 408.3,742.5 Z" fill="url(#bk_back)" stroke="none"/>
<path d="M338.3,353 L338.3,712.6 L404,740.6 Q412,744.6 424,745 Q431,744.9 437,744 L565,727.7 Q573.5,725.5 573.5,719 L573.5,362" fill="none" stroke="#2b2a29" stroke-width="1.9" />
<line x1="408.3" y1="379" x2="408.3" y2="742.5" stroke="#2b2a29" stroke-width="1.5" />
<line x1="341.3" y1="357" x2="341.3" y2="709" stroke="#777" stroke-width="0.7" />
<line x1="436.7" y1="722" x2="436.7" y2="743.8" stroke="#555" stroke-width="0.8" />
<line x1="561.5" y1="706" x2="561.5" y2="728.5" stroke="#555" stroke-width="0.8" />
<line x1="432.6" y1="383" x2="432.6" y2="392" stroke="#777" stroke-width="0.8" />
<line x1="562.5" y1="368" x2="562.5" y2="380" stroke="#777" stroke-width="0.8" />
<path d="M340.8,352.48 Q338,351.4 340.98,351.03 L473.12,334.58 Q489,332.6 504.13,337.8 L570.82,360.7 Q574.6,362 570.63,362.46 L429.39,378.76 Q413.5,380.6 398.58,374.83 Z" fill="url(#bk_top)" stroke="#2b2a29" stroke-width="2.2" />
<path d="M351.78,353.84 Q348.98,352.75 351.96,352.38 L475.32,337.02 Q488.71,335.36 501.48,339.74 L558.2,359.22 Q562.46,360.68 557.99,361.2 L427.26,376.29 Q413.85,377.84 401.26,372.97 Z" fill="none" stroke="#2b2a29" stroke-width="1.0" />
<ellipse cx="369.5" cy="351.6" rx="3.4" ry="1.9" fill="#2b2a29" transform="rotate(-6 369.5 351.6)"/>
<ellipse cx="380.5" cy="350.2" rx="3.4" ry="1.9" fill="#2b2a29" transform="rotate(-6 380.5 350.2)"/>
<ellipse cx="392.8" cy="348.9" rx="3.4" ry="1.9" fill="#2b2a29" transform="rotate(-6 392.8 348.9)"/>
<ellipse cx="404.5" cy="347.5" rx="3.4" ry="1.9" fill="#2b2a29" transform="rotate(-6 404.5 347.5)"/>
<ellipse cx="451.5" cy="342.6" rx="3.4" ry="1.9" fill="#2b2a29" transform="rotate(-6 451.5 342.6)"/>
<ellipse cx="462.5" cy="340.9" rx="3.4" ry="1.9" fill="#2b2a29" transform="rotate(-6 462.5 340.9)"/>
<ellipse cx="474.5" cy="339.6" rx="3.4" ry="1.9" fill="#2b2a29" transform="rotate(-6 474.5 339.6)"/>
<ellipse cx="486.5" cy="338.2" rx="3.4" ry="1.9" fill="#2b2a29" transform="rotate(-6 486.5 338.2)"/>
<path d="M415.5,346.2 L437,343.3 L445.5,345.3 L424,348.4 Z" fill="#bdbdbd" stroke="#555" stroke-width="0.8" />
<path d="M360.5,397.8 Q360.5,396.3 361.9,396.84 L388.1,406.96 Q389.5,407.5 389.5,409 L389.5,420.1 Q389.5,421.6 388.1,421.06 L361.9,411.04 Q360.5,410.5 360.5,409 Z" fill="url(#bk_hgrad)" stroke="#2b2a29" stroke-width="1.0" />
<clipPath id="bk_hclipo"><path d="M361,397 L389,408 L389,421 L361,410 Z"/></clipPath>
<g clip-path="url(#bk_hclipo)" stroke="#888" stroke-width="0.6" fill="none"><path d="M366,396 Q363.5,409 368,424"/><path d="M368.2,396 Q365.7,409 370.2,424"/><path d="M370.4,396 Q367.9,409 372.4,424"/><path d="M372.6,396 Q370.1,409 374.6,424"/><path d="M374.8,396 Q372.3,409 376.8,424"/><path d="M377,396 Q374.5,409 379,424"/><path d="M379.2,396 Q376.7,409 381.2,424"/><path d="M381.4,396 Q378.9,409 383.4,424"/><path d="M383.6,396 Q381.1,409 385.6,424"/><path d="M385.8,396 Q383.3,409 387.8,424"/><path d="M388,396 Q385.5,409 390,424"/><path d="M390.2,396 Q387.7,409 392.2,424"/></g>
<ellipse cx="421.2" cy="389.6" rx="3.6" ry="2.8" fill="#fff" stroke="#2b2a29" stroke-width="1.1"/>
<ellipse cx="429.3" cy="512.6" rx="2.6" ry="2.0" fill="#fff" stroke="#2b2a29" stroke-width="1.1"/>
<ellipse cx="429.6" cy="733.6" rx="2.6" ry="2.6" fill="#fff" stroke="#2b2a29" stroke-width="1.1"/>
<ellipse cx="566.1" cy="717.9" rx="2.5" ry="2.5" fill="#fff" stroke="#2b2a29" stroke-width="1.1"/>
<g transform="translate(435.6,519.2) skewY(-6.56)"><rect x="3" y="0.3" width="127" height="4.2" fill="url(#hatch)"/></g>
<g transform="translate(435.6,393.2) skewY(-6.56)"><rect x="0" y="0" width="131.2" height="126.4" rx="3" fill="url(#bk_open)" stroke="#2b2a29" stroke-width="1.6"/><rect x="3.2" y="3.5" width="124.8" height="119" rx="2" fill="none" stroke="#2b2a29" stroke-width="1.0"/><path d="M8,10 v55 M6,55 l-3,3 v10 l3,2 M6,20 l-3,3 v10 l3,2" fill="none" stroke="#2b2a29" stroke-width="1"/><path d="M3.5,104 q3,10 9,9 v9" fill="none" stroke="#2b2a29" stroke-width="1.2"/><path d="M119,84 v22 m-4,-6 q-3,6 1,12 l6,0 v-14 z" fill="#fff" stroke="#2b2a29" stroke-width="1.1"/><line x1="4" y1="119.5" x2="127" y2="119.5" stroke="#2b2a29" stroke-width="1.8"/></g>
<g transform="translate(435.6,586.3) skewY(-6.56)"><path d="M10.5,133.5 l1.5,3.6 l9,0 l1.5,-3.6" fill="#eee" stroke="#2b2a29" stroke-width="1.1"/><path d="M107.67,133.5 l1.5,3.6 l9,0 l1.5,-3.6" fill="#eee" stroke="#2b2a29" stroke-width="1.1"/><rect x="0" y="0" width="131.3" height="133.5" rx="4" ry="4" fill="#f2f2f2" stroke="#2b2a29" stroke-width="1.7"/><rect x="4.21" y="5.6" width="38.89" height="8" rx="1.6" fill="#f1f1f1" stroke="#2b2a29" stroke-width="1.55"/><line x1="5.21" y1="6.6" x2="42.1" y2="6.6" stroke="#2b2a29" stroke-width="1.1"/><rect x="4.21" y="16.7" width="38.89" height="8" rx="1.6" fill="#f1f1f1" stroke="#2b2a29" stroke-width="1.55"/><line x1="5.21" y1="17.7" x2="42.1" y2="17.7" stroke="#2b2a29" stroke-width="1.1"/><rect x="4.21" y="27.8" width="38.89" height="8" rx="1.6" fill="#f1f1f1" stroke="#2b2a29" stroke-width="1.55"/><line x1="5.21" y1="28.8" x2="42.1" y2="28.8" stroke="#2b2a29" stroke-width="1.1"/><rect x="4.21" y="38.9" width="38.89" height="8" rx="1.6" fill="#f1f1f1" stroke="#2b2a29" stroke-width="1.55"/><line x1="5.21" y1="39.9" x2="42.1" y2="39.9" stroke="#2b2a29" stroke-width="1.1"/><rect x="4.21" y="50" width="38.89" height="8" rx="1.6" fill="#f1f1f1" stroke="#2b2a29" stroke-width="1.55"/><line x1="5.21" y1="51" x2="42.1" y2="51" stroke="#2b2a29" stroke-width="1.1"/><rect x="4.21" y="61.1" width="38.89" height="8" rx="1.6" fill="#f1f1f1" stroke="#2b2a29" stroke-width="1.55"/><line x1="5.21" y1="62.1" x2="42.1" y2="62.1" stroke="#2b2a29" stroke-width="1.1"/><rect x="4.21" y="72.2" width="38.89" height="8" rx="1.6" fill="#f1f1f1" stroke="#2b2a29" stroke-width="1.55"/><line x1="5.21" y1="73.2" x2="42.1" y2="73.2" stroke="#2b2a29" stroke-width="1.1"/><rect x="4.21" y="83.3" width="38.89" height="8" rx="1.6" fill="#f1f1f1" stroke="#2b2a29" stroke-width="1.55"/><line x1="5.21" y1="84.3" x2="42.1" y2="84.3" stroke="#2b2a29" stroke-width="1.1"/><rect x="4.21" y="94.4" width="38.89" height="8" rx="1.6" fill="#f1f1f1" stroke="#2b2a29" stroke-width="1.55"/><line x1="5.21" y1="95.4" x2="42.1" y2="95.4" stroke="#2b2a29" stroke-width="1.1"/><rect x="4.21" y="105.5" width="38.89" height="8" rx="1.6" fill="#f1f1f1" stroke="#2b2a29" stroke-width="1.55"/><line x1="5.21" y1="106.5" x2="42.1" y2="106.5" stroke="#2b2a29" stroke-width="1.1"/><rect x="4.21" y="116.6" width="38.89" height="8" rx="1.6" fill="#f1f1f1" stroke="#2b2a29" stroke-width="1.55"/><line x1="5.21" y1="117.6" x2="42.1" y2="117.6" stroke="#2b2a29" stroke-width="1.1"/><rect x="46.11" y="5.6" width="39.29" height="8" rx="1.6" fill="#f1f1f1" stroke="#2b2a29" stroke-width="1.55"/><line x1="47.11" y1="6.6" x2="84.4" y2="6.6" stroke="#2b2a29" stroke-width="1.1"/><rect x="46.11" y="16.7" width="39.29" height="8" rx="1.6" fill="#f1f1f1" stroke="#2b2a29" stroke-width="1.55"/><line x1="47.11" y1="17.7" x2="84.4" y2="17.7" stroke="#2b2a29" stroke-width="1.1"/><rect x="46.11" y="27.8" width="39.29" height="8" rx="1.6" fill="#f1f1f1" stroke="#2b2a29" stroke-width="1.55"/><line x1="47.11" y1="28.8" x2="84.4" y2="28.8" stroke="#2b2a29" stroke-width="1.1"/><rect x="46.11" y="38.9" width="39.29" height="8" rx="1.6" fill="#f1f1f1" stroke="#2b2a29" stroke-width="1.55"/><line x1="47.11" y1="39.9" x2="84.4" y2="39.9" stroke="#2b2a29" stroke-width="1.1"/><rect x="46.11" y="50" width="39.29" height="8" rx="1.6" fill="#f1f1f1" stroke="#2b2a29" stroke-width="1.55"/><line x1="47.11" y1="51" x2="84.4" y2="51" stroke="#2b2a29" stroke-width="1.1"/><rect x="46.11" y="61.1" width="39.29" height="8" rx="1.6" fill="#f1f1f1" stroke="#2b2a29" stroke-width="1.55"/><line x1="47.11" y1="62.1" x2="84.4" y2="62.1" stroke="#2b2a29" stroke-width="1.1"/><rect x="46.11" y="72.2" width="39.29" height="8" rx="1.6" fill="#f1f1f1" stroke="#2b2a29" stroke-width="1.55"/><line x1="47.11" y1="73.2" x2="84.4" y2="73.2" stroke="#2b2a29" stroke-width="1.1"/><rect x="46.11" y="83.3" width="39.29" height="8" rx="1.6" fill="#f1f1f1" stroke="#2b2a29" stroke-width="1.55"/><line x1="47.11" y1="84.3" x2="84.4" y2="84.3" stroke="#2b2a29" stroke-width="1.1"/><rect x="46.11" y="94.4" width="39.29" height="8" rx="1.6" fill="#f1f1f1" stroke="#2b2a29" stroke-width="1.55"/><line x1="47.11" y1="95.4" x2="84.4" y2="95.4" stroke="#2b2a29" stroke-width="1.1"/><rect x="46.11" y="105.5" width="39.29" height="8" rx="1.6" fill="#f1f1f1" stroke="#2b2a29" stroke-width="1.55"/><line x1="47.11" y1="106.5" x2="84.4" y2="106.5" stroke="#2b2a29" stroke-width="1.1"/><rect x="46.11" y="116.6" width="39.29" height="8" rx="1.6" fill="#f1f1f1" stroke="#2b2a29" stroke-width="1.55"/><line x1="47.11" y1="117.6" x2="84.4" y2="117.6" stroke="#2b2a29" stroke-width="1.1"/><rect x="88.2" y="5.6" width="38.69" height="8" rx="1.6" fill="#f1f1f1" stroke="#2b2a29" stroke-width="1.55"/><line x1="89.2" y1="6.6" x2="125.89" y2="6.6" stroke="#2b2a29" stroke-width="1.1"/><rect x="88.2" y="16.7" width="38.69" height="8" rx="1.6" fill="#f1f1f1" stroke="#2b2a29" stroke-width="1.55"/><line x1="89.2" y1="17.7" x2="125.89" y2="17.7" stroke="#2b2a29" stroke-width="1.1"/><rect x="88.2" y="27.8" width="38.69" height="8" rx="1.6" fill="#f1f1f1" stroke="#2b2a29" stroke-width="1.55"/><line x1="89.2" y1="28.8" x2="125.89" y2="28.8" stroke="#2b2a29" stroke-width="1.1"/><rect x="88.2" y="38.9" width="38.69" height="8" rx="1.6" fill="#f1f1f1" stroke="#2b2a29" stroke-width="1.55"/><line x1="89.2" y1="39.9" x2="125.89" y2="39.9" stroke="#2b2a29" stroke-width="1.1"/><rect x="88.2" y="50" width="38.69" height="8" rx="1.6" fill="#f1f1f1" stroke="#2b2a29" stroke-width="1.55"/><line x1="89.2" y1="51" x2="125.89" y2="51" stroke="#2b2a29" stroke-width="1.1"/><rect x="88.2" y="61.1" width="38.69" height="8" rx="1.6" fill="#f1f1f1" stroke="#2b2a29" stroke-width="1.55"/><line x1="89.2" y1="62.1" x2="125.89" y2="62.1" stroke="#2b2a29" stroke-width="1.1"/><rect x="88.2" y="72.2" width="38.69" height="8" rx="1.6" fill="#f1f1f1" stroke="#2b2a29" stroke-width="1.55"/><line x1="89.2" y1="73.2" x2="125.89" y2="73.2" stroke="#2b2a29" stroke-width="1.1"/><rect x="88.2" y="83.3" width="38.69" height="8" rx="1.6" fill="#f1f1f1" stroke="#2b2a29" stroke-width="1.55"/><line x1="89.2" y1="84.3" x2="125.89" y2="84.3" stroke="#2b2a29" stroke-width="1.1"/><rect x="88.2" y="94.4" width="38.69" height="8" rx="1.6" fill="#f1f1f1" stroke="#2b2a29" stroke-width="1.55"/><line x1="89.2" y1="95.4" x2="125.89" y2="95.4" stroke="#2b2a29" stroke-width="1.1"/><rect x="88.2" y="105.5" width="38.69" height="8" rx="1.6" fill="#f1f1f1" stroke="#2b2a29" stroke-width="1.55"/><line x1="89.2" y1="106.5" x2="125.89" y2="106.5" stroke="#2b2a29" stroke-width="1.1"/><rect x="88.2" y="116.6" width="38.69" height="8" rx="1.6" fill="#f1f1f1" stroke="#2b2a29" stroke-width="1.55"/><line x1="89.2" y1="117.6" x2="125.89" y2="117.6" stroke="#2b2a29" stroke-width="1.1"/></g>
<g transform="translate(435.2,523.2) skewY(-6.56)"><rect x="0" y="0" width="133.4" height="60.4" rx="4" fill="url(#bk_mid)" stroke="#2b2a29" stroke-width="1.6"/><rect x="69.5" y="5.5" width="62" height="50.5" rx="1.5" fill="#2b2a29"/><rect x="70.6" y="7.5" width="12.4" height="3.0" rx="0.5" fill="#f4f4f4"/><rect x="70.6" y="8.65" width="12.4" height="1.0" fill="#333"/><rect x="70.6" y="12.85" width="12.4" height="3.0" rx="0.5" fill="#f4f4f4"/><rect x="70.6" y="14" width="12.4" height="1.0" fill="#333"/><rect x="70.6" y="18.2" width="12.4" height="3.0" rx="0.5" fill="#f4f4f4"/><rect x="70.6" y="19.35" width="12.4" height="1.0" fill="#333"/><rect x="70.6" y="23.55" width="12.4" height="3.0" rx="0.5" fill="#f4f4f4"/><rect x="70.6" y="24.7" width="12.4" height="1.0" fill="#333"/><rect x="70.6" y="28.9" width="12.4" height="3.0" rx="0.5" fill="#f4f4f4"/><rect x="70.6" y="30.05" width="12.4" height="1.0" fill="#333"/><rect x="70.6" y="34.25" width="12.4" height="3.0" rx="0.5" fill="#f4f4f4"/><rect x="70.6" y="35.4" width="12.4" height="1.0" fill="#333"/><rect x="70.6" y="39.6" width="12.4" height="3.0" rx="0.5" fill="#f4f4f4"/><rect x="70.6" y="40.75" width="12.4" height="1.0" fill="#333"/><rect x="70.6" y="44.95" width="12.4" height="3.0" rx="0.5" fill="#f4f4f4"/><rect x="70.6" y="46.1" width="12.4" height="1.0" fill="#333"/><rect x="70.6" y="50.3" width="12.4" height="3.0" rx="0.5" fill="#f4f4f4"/><rect x="70.6" y="51.45" width="12.4" height="1.0" fill="#333"/><rect x="85" y="7.5" width="19" height="3.0" rx="0.5" fill="#f4f4f4"/><rect x="85" y="8.65" width="19" height="1.0" fill="#333"/><rect x="85" y="12.85" width="19" height="3.0" rx="0.5" fill="#f4f4f4"/><rect x="85" y="14" width="19" height="1.0" fill="#333"/><rect x="85" y="18.2" width="19" height="3.0" rx="0.5" fill="#f4f4f4"/><rect x="85" y="19.35" width="19" height="1.0" fill="#333"/><rect x="85" y="23.55" width="19" height="3.0" rx="0.5" fill="#f4f4f4"/><rect x="85" y="24.7" width="19" height="1.0" fill="#333"/><rect x="85" y="28.9" width="19" height="3.0" rx="0.5" fill="#f4f4f4"/><rect x="85" y="30.05" width="19" height="1.0" fill="#333"/><rect x="85" y="34.25" width="19" height="3.0" rx="0.5" fill="#f4f4f4"/><rect x="85" y="35.4" width="19" height="1.0" fill="#333"/><rect x="85" y="39.6" width="19" height="3.0" rx="0.5" fill="#f4f4f4"/><rect x="85" y="40.75" width="19" height="1.0" fill="#333"/><rect x="85" y="44.95" width="19" height="3.0" rx="0.5" fill="#f4f4f4"/><rect x="85" y="46.1" width="19" height="1.0" fill="#333"/><rect x="85" y="50.3" width="19" height="3.0" rx="0.5" fill="#f4f4f4"/><rect x="85" y="51.45" width="19" height="1.0" fill="#333"/><rect x="106.2" y="7.5" width="24.2" height="3.0" rx="0.5" fill="#f4f4f4"/><rect x="106.2" y="8.65" width="24.2" height="1.0" fill="#333"/><rect x="106.2" y="12.85" width="24.2" height="3.0" rx="0.5" fill="#f4f4f4"/><rect x="106.2" y="14" width="24.2" height="1.0" fill="#333"/><rect x="106.2" y="18.2" width="24.2" height="3.0" rx="0.5" fill="#f4f4f4"/><rect x="106.2" y="19.35" width="24.2" height="1.0" fill="#333"/><rect x="106.2" y="23.55" width="24.2" height="3.0" rx="0.5" fill="#f4f4f4"/><rect x="106.2" y="24.7" width="24.2" height="1.0" fill="#333"/><rect x="106.2" y="28.9" width="24.2" height="3.0" rx="0.5" fill="#f4f4f4"/><rect x="106.2" y="30.05" width="24.2" height="1.0" fill="#333"/><rect x="106.2" y="34.25" width="24.2" height="3.0" rx="0.5" fill="#f4f4f4"/><rect x="106.2" y="35.4" width="24.2" height="1.0" fill="#333"/><rect x="106.2" y="39.6" width="24.2" height="3.0" rx="0.5" fill="#f4f4f4"/><rect x="106.2" y="40.75" width="24.2" height="1.0" fill="#333"/><rect x="106.2" y="44.95" width="24.2" height="3.0" rx="0.5" fill="#f4f4f4"/><rect x="106.2" y="46.1" width="24.2" height="1.0" fill="#333"/><rect x="106.2" y="50.3" width="24.2" height="3.0" rx="0.5" fill="#f4f4f4"/><rect x="106.2" y="51.45" width="24.2" height="1.0" fill="#333"/><circle cx="58.8" cy="8" r="2.9" fill="#fff" stroke="#2b2a29" stroke-width="1.1"/><circle cx="58.8" cy="55.2" r="2.9" fill="#fff" stroke="#2b2a29" stroke-width="1.1"/><ellipse cx="42.7" cy="41.2" rx="9.3" ry="10.3" fill="#fff" stroke="#2b2a29" stroke-width="1.9"/><path d="M34.5,39 A9,10 0 0 0 47,50.5" fill="none" stroke="#2b2a29" stroke-width="3"/><g stroke="#2b2a29" stroke-width="0.9" fill="none" transform="translate(18.8,26)"><rect x="-1.3" y="-12" width="2.6" height="3.8"/><path d="M-3.4,-6.2 v3.6 M3.4,-6.2 v3.6 M-1.6,-6.8 h3.2" stroke-dasharray="1.6 1"/><path d="M-1.8,-1.5 v8 a1.8,1.8 0 0 0 3.6,0 v-8 a1.8,1.8 0 0 0 -3.6,0 Z" stroke-width="1.1"/><path d="M-7.8,1.2 h5 v2.8 h-5 Z M2.8,1.2 h5 v2.8 h-5 Z" stroke-width="1.1"/><path d="M-3.2,9.5 l-1.6,2.2 M3.2,9.5 l1.6,2.2" stroke-width="1.2"/><circle cx="-6.3" cy="16" r="2.1" stroke-width="1.1"/><circle cx="5.3" cy="16" r="2.1" stroke-width="1.1"/></g></g>
<path d="M456.37,742.02 L469.58,747.77 L487.42,744.39 L485.16,738.97 L482.9,737.84 Z" fill="#f4f4f4" stroke="#2b2a29" stroke-width="1.3" />
<path d="M464.27,743.15 L468.23,742.58 L470.71,746.19 L469.58,747.77" fill="none" stroke="#2b2a29" stroke-width="1.0" />
<path d="M482,737.27 L487.42,742.81 L492.16,736.94" fill="none" stroke="#2b2a29" stroke-width="2.0" />
<path d="M507.74,742.13 Q523.55,741.68 533.94,733.32" fill="none" stroke="#2b2a29" stroke-width="1.6" />
<path d="M491.83,739.16 Q491.71,737.16 493.7,737.32 L501.23,737.91 Q503.23,738.06 503.23,740.06 L503.23,744.53 Q503.23,746.53 501.26,746.19 L494.13,744.96 Q492.16,744.61 492.04,742.62 Z" fill="#fff" stroke="#2b2a29" stroke-width="1.4" />
<line x1="495.55" y1="737.61" x2="495.78" y2="745.29" stroke="#2b2a29" stroke-width="1.0" />
<line x1="498.71" y1="737.84" x2="498.94" y2="745.97" stroke="#2b2a29" stroke-width="1.0" />
<ellipse cx="504.58" cy="743.94" rx="4.4" ry="4.6" fill="#fff" stroke="#2b2a29" stroke-width="1.5"/>
<ellipse cx="507.18" cy="744.27" rx="1.8" ry="2.8" fill="#2b2a29"/>
<g transform="translate(437.5,752.5) scale(1.05)"><path d="M-13.5,-2 Q-12,-10 -3,-10 L6,-9.5 Q13.5,-8.5 14,-1 Q14,6 8,8 L-4,10 Q-13,10 -13.5,-2 Z" fill="#d2d2d2" stroke="#2b2a29" stroke-width="0.9"/><ellipse cx="8.4" cy="-0.8" rx="5.2" ry="7.2" fill="#c2c2c2" stroke="#3a3a3a" stroke-width="0.8"/><ellipse cx="9" cy="-0.6" rx="3.4" ry="5.2" fill="#1d1d1d"/><ellipse cx="-6.4" cy="0.6" rx="7" ry="9.2" fill="#c8c8c8" stroke="#3a3a3a" stroke-width="0.8"/><ellipse cx="-6" cy="0.9" rx="4.9" ry="6.9" fill="#1d1d1d"/><path d="M0.5,-6.5 Q3.5,-1 1.5,6.5" fill="none" stroke="#555" stroke-width="0.8"/><path d="M-1,-8 Q2,-9.5 5,-8.2" fill="none" stroke="#555" stroke-width="0.7"/></g></g>

<linearGradient id="fr_front" gradientUnits="userSpaceOnUse" x1="178.5" y1="0" x2="344" y2="0">
 <stop offset="0" stop-color="#f1f1f1"/><stop offset="0.066" stop-color="#f6f6f6"/><stop offset="0.068" stop-color="#e9e9e9"/>
 <stop offset="0.22" stop-color="#f1f1f1"/><stop offset="0.45" stop-color="#ffffff"/><stop offset="0.66" stop-color="#fbfbfb"/><stop offset="0.81" stop-color="#e7e7e7"/>
 <stop offset="0.818" stop-color="#e2e2e2"/><stop offset="0.93" stop-color="#fbfbfb"/><stop offset="1" stop-color="#f6f6f6"/>
</linearGradient>
<linearGradient id="fr_side" x1="0" y1="0" x2="1" y2="0">
 <stop offset="0" stop-color="#f6f6f6"/><stop offset="1" stop-color="#f1f1f1"/>
</linearGradient>
<linearGradient id="fr_hgrad" x1="0" y1="0" x2="1" y2="0">
 <stop offset="0" stop-color="#b9b9b9"/><stop offset="0.6" stop-color="#dddddd"/><stop offset="1" stop-color="#fbfbfb"/>
</linearGradient>
<linearGradient id="fr_sideg" x1="0" y1="0" x2="1" y2="0">
 <stop offset="0" stop-color="#d4d4d4"/><stop offset="0.5" stop-color="#c2c2c2"/><stop offset="1" stop-color="#b4b4b4"/>
</linearGradient>
<linearGradient id="fr_top" x1="0" y1="0" x2="1" y2="0">
 <stop offset="0" stop-color="#f4f4f4"/><stop offset="0.25" stop-color="#ffffff"/><stop offset="0.42" stop-color="#ededed"/><stop offset="0.55" stop-color="#fdfdfd"/><stop offset="0.62" stop-color="#e6e6e6"/><stop offset="0.75" stop-color="#f4f4f4"/><stop offset="1" stop-color="#e0e0e0"/>
</linearGradient>
<pattern id="fr_combBs" width="6.2" height="10.25" patternUnits="userSpaceOnUse">
 <rect width="6.2" height="10.25" fill="#383838"/>
 <rect x="1.4" y="2.8" width="3.2" height="5.6" fill="#f2f2f2"/><rect x="2.5" y="4.2" width="1.1" height="4.2" fill="#444"/>
</pattern>
<pattern id="fr_combCs" width="30" height="10.25" patternUnits="userSpaceOnUse">
 <rect width="30" height="10.25" fill="#565656"/>
 <rect x="0" y="3.6" width="30" height="1.6" fill="#b5b5b5"/><rect x="0" y="6.6" width="30" height="1.2" fill="#999"/>
</pattern>
<pattern id="fr_combB" width="3.1" height="10.25" patternUnits="userSpaceOnUse">
 <rect width="3.1" height="10.25" fill="#9c9c9c"/>
 <rect x="0.9" y="2.6" width="1.3" height="6" fill="#fafafa"/>
</pattern>
<pattern id="fr_combC" width="2.6" height="10.25" patternUnits="userSpaceOnUse">
 <rect width="2.6" height="10.25" fill="#7d7d7d"/>
 <rect x="0.8" y="2.8" width="1.0" height="5.6" fill="#efefef"/>
</pattern>

<g id="frontunit"><g transform="translate(396.5,503.5) scale(0.95)"><path d="M-13.5,-2 Q-12,-10 -3,-10 L6,-9.5 Q13.5,-8.5 14,-1 Q14,6 8,8 L-4,10 Q-13,10 -13.5,-2 Z" fill="#d2d2d2" stroke="#2b2a29" stroke-width="0.9"/><ellipse cx="8.4" cy="-0.8" rx="5.2" ry="7.2" fill="#c2c2c2" stroke="#3a3a3a" stroke-width="0.8"/><ellipse cx="9" cy="-0.6" rx="3.4" ry="5.2" fill="#1d1d1d"/><ellipse cx="-6.4" cy="0.6" rx="7" ry="9.2" fill="#c8c8c8" stroke="#3a3a3a" stroke-width="0.8"/><ellipse cx="-6" cy="0.9" rx="4.9" ry="6.9" fill="#1d1d1d"/><path d="M0.5,-6.5 Q3.5,-1 1.5,6.5" fill="none" stroke="#555" stroke-width="0.8"/><path d="M-1,-8 Q2,-9.5 5,-8.2" fill="none" stroke="#555" stroke-width="0.7"/></g>
<g transform="translate(202.2,512.7) scale(1)"><path d="M-13.5,-2 Q-12,-10 -3,-10 L6,-9.5 Q13.5,-8.5 14,-1 Q14,6 8,8 L-4,10 Q-13,10 -13.5,-2 Z" fill="#d2d2d2" stroke="#2b2a29" stroke-width="0.9"/><ellipse cx="8.4" cy="-0.8" rx="5.2" ry="7.2" fill="#c2c2c2" stroke="#3a3a3a" stroke-width="0.8"/><ellipse cx="9" cy="-0.6" rx="3.4" ry="5.2" fill="#1d1d1d"/><ellipse cx="-6.4" cy="0.6" rx="7" ry="9.2" fill="#c8c8c8" stroke="#3a3a3a" stroke-width="0.8"/><ellipse cx="-6" cy="0.9" rx="4.9" ry="6.9" fill="#1d1d1d"/><path d="M0.5,-6.5 Q3.5,-1 1.5,6.5" fill="none" stroke="#555" stroke-width="0.8"/><path d="M-1,-8 Q2,-9.5 5,-8.2" fill="none" stroke="#555" stroke-width="0.7"/></g>
<g transform="translate(314,525.6) scale(1)"><path d="M-13.5,-2 Q-12,-10 -3,-10 L6,-9.5 Q13.5,-8.5 14,-1 Q14,6 8,8 L-4,10 Q-13,10 -13.5,-2 Z" fill="#d2d2d2" stroke="#2b2a29" stroke-width="0.9"/><ellipse cx="8.4" cy="-0.8" rx="5.2" ry="7.2" fill="#c2c2c2" stroke="#3a3a3a" stroke-width="0.8"/><ellipse cx="9" cy="-0.6" rx="3.4" ry="5.2" fill="#1d1d1d"/><ellipse cx="-6.4" cy="0.6" rx="7" ry="9.2" fill="#c8c8c8" stroke="#3a3a3a" stroke-width="0.8"/><ellipse cx="-6" cy="0.9" rx="4.9" ry="6.9" fill="#1d1d1d"/><path d="M0.5,-6.5 Q3.5,-1 1.5,6.5" fill="none" stroke="#555" stroke-width="0.8"/><path d="M-1,-8 Q2,-9.5 5,-8.2" fill="none" stroke="#555" stroke-width="0.7"/></g>
<path d="M349,513 L349,517 L362,512.5 L362,508 Z" fill="#ddd" stroke="#2b2a29" stroke-width="0.9" />
<path d="M344,154 L413,126 L413,486.5 L345.2,514.4 Z" fill="url(#fr_side)"/>
<clipPath id="fr_sideclip"><path d="M348.5,153 L410.5,128.5 L410.5,484.5 L348.5,510.5 Z"/></clipPath>
<g clip-path="url(#fr_sideclip)" stroke="#bdbdbd" stroke-width="1.1"><line x1="350" y1="120" x2="350" y2="516"/><line x1="352.75" y1="120" x2="352.75" y2="516"/><line x1="355.5" y1="120" x2="355.5" y2="516"/><line x1="358.25" y1="120" x2="358.25" y2="516"/><line x1="361" y1="120" x2="361" y2="516"/><line x1="363.75" y1="120" x2="363.75" y2="516"/><line x1="366.5" y1="120" x2="366.5" y2="516"/><line x1="369.25" y1="120" x2="369.25" y2="516"/><line x1="372" y1="120" x2="372" y2="516"/><line x1="374.75" y1="120" x2="374.75" y2="516"/><line x1="377.5" y1="120" x2="377.5" y2="516"/><line x1="380.25" y1="120" x2="380.25" y2="516"/><line x1="383" y1="120" x2="383" y2="516"/><line x1="385.75" y1="120" x2="385.75" y2="516"/><line x1="388.5" y1="120" x2="388.5" y2="516"/><line x1="391.25" y1="120" x2="391.25" y2="516"/><line x1="394" y1="120" x2="394" y2="516"/><line x1="396.75" y1="120" x2="396.75" y2="516"/><line x1="399.5" y1="120" x2="399.5" y2="516"/><line x1="402.25" y1="120" x2="402.25" y2="516"/><line x1="405" y1="120" x2="405" y2="516"/><line x1="407.75" y1="120" x2="407.75" y2="516"/><line x1="410.5" y1="120" x2="410.5" y2="516"/></g>
<path d="M178.5,137 L178.5,496 Q178.5,499.4 182.5,499.8 L313.7,516 L333,518.2 Q342,518.6 345.2,514.4 L344.0,154 Z" fill="url(#fr_front)"/>
<path d="M178.5,138 L178.5,496 Q178.5,499.4 182.5,499.8 L313.7,516 L333,518.2 Q342,518.6 345.2,514.4 L413.0,486.5 L413.0,126" fill="none" stroke="#2b2a29" stroke-width="1.9" />
<line x1="344" y1="155.5" x2="345" y2="514.6" stroke="#2b2a29" stroke-width="1.5" />
<line x1="313.7" y1="153.6" x2="313.7" y2="516" stroke="#444" stroke-width="0.8" />
<line x1="189.6" y1="141" x2="189.6" y2="500.5" stroke="#666" stroke-width="0.8" />
<line x1="410.7" y1="129" x2="410.7" y2="485.5" stroke="#666" stroke-width="0.7" />
<path d="M180.68,137.2 Q178.2,136.9 180.53,135.99 L243.04,111.48 Q257,106 271.9,107.72 L407.44,123.31 Q413.4,124 407.89,126.37 L352.28,150.28 Q338.5,156.2 323.61,154.41 Z" fill="url(#fr_top)" stroke="#2b2a29" stroke-width="2.0" />
<path d="M191.65,135.8 Q189.16,135.5 191.49,134.59 L245.72,113.32 Q257.36,108.76 269.78,110.19 L399.05,125.07 Q403.02,125.52 399.35,127.1 L349.59,148.5 Q338.1,153.43 325.69,151.94 Z" fill="none" stroke="#2b2a29" stroke-width="1.0" />
<ellipse cx="205.9" cy="135.3" rx="3.3" ry="1.6" fill="#2b2a29" transform="rotate(7 205.9 135.3)"/>
<ellipse cx="217.4" cy="136.7" rx="3.3" ry="1.6" fill="#2b2a29" transform="rotate(7 217.4 136.7)"/>
<ellipse cx="229.1" cy="137.9" rx="3.3" ry="1.6" fill="#2b2a29" transform="rotate(7 229.1 137.9)"/>
<ellipse cx="240.6" cy="139.4" rx="3.3" ry="1.6" fill="#2b2a29" transform="rotate(7 240.6 139.4)"/>
<ellipse cx="288" cy="144.4" rx="3.3" ry="1.6" fill="#2b2a29" transform="rotate(7 288 144.4)"/>
<ellipse cx="299" cy="146" rx="3.3" ry="1.6" fill="#2b2a29" transform="rotate(7 299 146)"/>
<ellipse cx="311.1" cy="147.4" rx="3.3" ry="1.6" fill="#2b2a29" transform="rotate(7 311.1 147.4)"/>
<ellipse cx="323.2" cy="148.8" rx="3.3" ry="1.6" fill="#2b2a29" transform="rotate(7 323.2 148.8)"/>
<path d="M247.5,142.6 L253.5,139.4 L281.5,142.8 L275.5,146.1 Z" fill="#c6c6c6" stroke="#444" stroke-width="0.9" />
<path d="M362.2,181 Q362.2,179.8 363.32,179.38 L389.28,169.62 Q390.4,169.2 390.4,170.4 L390.4,184.4 Q390.4,185.6 389.27,186 L363.33,195.2 Q362.2,195.6 362.2,194.4 Z" fill="url(#fr_hgrad)" stroke="#2b2a29" stroke-width="0.9" />
<clipPath id="fr_hclip"><path d="M362.7,180.4 L390,170 L390,185.2 L362.7,195 Z"/></clipPath>
<g clip-path="url(#fr_hclip)" stroke="#8a8a8a" stroke-width="0.6" fill="none"><path d="M363.5,168 Q366,182 362,197"/><path d="M365.5,168 Q368,182 364,197"/><path d="M367.5,168 Q370,182 366,197"/><path d="M369.5,168 Q372,182 368,197"/><path d="M371.5,168 Q374,182 370,197"/><path d="M373.5,168 Q376,182 372,197"/><path d="M375.5,168 Q378,182 374,197"/><path d="M377.5,168 Q380,182 376,197"/><path d="M379.5,168 Q382,182 378,197"/><path d="M381.5,168 Q384,182 380,197"/><path d="M383.5,168 Q386,182 382,197"/><path d="M385.5,168 Q388,182 384,197"/><path d="M387.5,168 Q390,182 386,197"/><path d="M389.5,168 Q392,182 388,197"/></g>
<g transform="translate(185.4,173.7) skewY(6.45)"><rect x="0" y="0" width="130.7" height="82.0" rx="1.5" fill="#fbfbfb" stroke="none"/><rect x="49.6" y="0.5" width="49" height="81.0" fill="url(#fr_combB)"/><rect x="98.6" y="0.5" width="32.1" height="81.0" fill="url(#fr_combC)"/><line x1="0.5" y1="10.25" x2="49.6" y2="10.85" stroke="#2b2a29" stroke-width="1.5"/><line x1="49.6" y1="10.85" x2="130.2" y2="11.45" stroke="#2b2a29" stroke-width="1.9"/><line x1="1" y1="8.35" x2="49.6" y2="8.95" stroke="#9a9a9a" stroke-width="0.5"/><line x1="0.5" y1="20.5" x2="49.6" y2="21.1" stroke="#2b2a29" stroke-width="1.5"/><line x1="49.6" y1="21.1" x2="130.2" y2="21.7" stroke="#2b2a29" stroke-width="1.9"/><line x1="1" y1="18.6" x2="49.6" y2="19.2" stroke="#9a9a9a" stroke-width="0.5"/><line x1="0.5" y1="30.75" x2="49.6" y2="31.35" stroke="#2b2a29" stroke-width="1.5"/><line x1="49.6" y1="31.35" x2="130.2" y2="31.95" stroke="#2b2a29" stroke-width="1.9"/><line x1="1" y1="28.85" x2="49.6" y2="29.45" stroke="#9a9a9a" stroke-width="0.5"/><line x1="0.5" y1="41" x2="49.6" y2="41.6" stroke="#2b2a29" stroke-width="1.5"/><line x1="49.6" y1="41.6" x2="130.2" y2="42.2" stroke="#2b2a29" stroke-width="1.9"/><line x1="1" y1="39.1" x2="49.6" y2="39.7" stroke="#9a9a9a" stroke-width="0.5"/><line x1="0.5" y1="51.25" x2="49.6" y2="51.85" stroke="#2b2a29" stroke-width="1.5"/><line x1="49.6" y1="51.85" x2="130.2" y2="52.45" stroke="#2b2a29" stroke-width="1.9"/><line x1="1" y1="49.35" x2="49.6" y2="49.95" stroke="#9a9a9a" stroke-width="0.5"/><line x1="0.5" y1="61.5" x2="49.6" y2="62.1" stroke="#2b2a29" stroke-width="1.5"/><line x1="49.6" y1="62.1" x2="130.2" y2="62.7" stroke="#2b2a29" stroke-width="1.9"/><line x1="1" y1="59.6" x2="49.6" y2="60.2" stroke="#9a9a9a" stroke-width="0.5"/><line x1="0.5" y1="71.75" x2="49.6" y2="72.35" stroke="#2b2a29" stroke-width="1.5"/><line x1="49.6" y1="72.35" x2="130.2" y2="72.95" stroke="#2b2a29" stroke-width="1.9"/><line x1="1" y1="69.85" x2="49.6" y2="70.45" stroke="#9a9a9a" stroke-width="0.5"/><line x1="49.6" y1="0" x2="49.6" y2="82.0" stroke="#444" stroke-width="1.6"/><line x1="98.6" y1="0" x2="98.6" y2="82.0" stroke="#444" stroke-width="1.4"/><line x1="1.6" y1="1" x2="1.6" y2="81.0" stroke="#444" stroke-width="0.8"/><rect x="0" y="0" width="130.7" height="82.0" rx="1.8" fill="none" stroke="#2b2a29" stroke-width="1.8"/></g></g>
<g id="frontunits"><g transform="translate(396.5,503.5) scale(0.95)"><path d="M-13.5,-2 Q-12,-10 -3,-10 L6,-9.5 Q13.5,-8.5 14,-1 Q14,6 8,8 L-4,10 Q-13,10 -13.5,-2 Z" fill="#d2d2d2" stroke="#2b2a29" stroke-width="0.9"/><ellipse cx="8.4" cy="-0.8" rx="5.2" ry="7.2" fill="#c2c2c2" stroke="#3a3a3a" stroke-width="0.8"/><ellipse cx="9" cy="-0.6" rx="3.4" ry="5.2" fill="#1d1d1d"/><ellipse cx="-6.4" cy="0.6" rx="7" ry="9.2" fill="#c8c8c8" stroke="#3a3a3a" stroke-width="0.8"/><ellipse cx="-6" cy="0.9" rx="4.9" ry="6.9" fill="#1d1d1d"/><path d="M0.5,-6.5 Q3.5,-1 1.5,6.5" fill="none" stroke="#555" stroke-width="0.8"/><path d="M-1,-8 Q2,-9.5 5,-8.2" fill="none" stroke="#555" stroke-width="0.7"/></g>
<g transform="translate(202.2,512.7) scale(1)"><path d="M-13.5,-2 Q-12,-10 -3,-10 L6,-9.5 Q13.5,-8.5 14,-1 Q14,6 8,8 L-4,10 Q-13,10 -13.5,-2 Z" fill="#d2d2d2" stroke="#2b2a29" stroke-width="0.9"/><ellipse cx="8.4" cy="-0.8" rx="5.2" ry="7.2" fill="#c2c2c2" stroke="#3a3a3a" stroke-width="0.8"/><ellipse cx="9" cy="-0.6" rx="3.4" ry="5.2" fill="#1d1d1d"/><ellipse cx="-6.4" cy="0.6" rx="7" ry="9.2" fill="#c8c8c8" stroke="#3a3a3a" stroke-width="0.8"/><ellipse cx="-6" cy="0.9" rx="4.9" ry="6.9" fill="#1d1d1d"/><path d="M0.5,-6.5 Q3.5,-1 1.5,6.5" fill="none" stroke="#555" stroke-width="0.8"/><path d="M-1,-8 Q2,-9.5 5,-8.2" fill="none" stroke="#555" stroke-width="0.7"/></g>
<g transform="translate(314,525.6) scale(1)"><path d="M-13.5,-2 Q-12,-10 -3,-10 L6,-9.5 Q13.5,-8.5 14,-1 Q14,6 8,8 L-4,10 Q-13,10 -13.5,-2 Z" fill="#d2d2d2" stroke="#2b2a29" stroke-width="0.9"/><ellipse cx="8.4" cy="-0.8" rx="5.2" ry="7.2" fill="#c2c2c2" stroke="#3a3a3a" stroke-width="0.8"/><ellipse cx="9" cy="-0.6" rx="3.4" ry="5.2" fill="#1d1d1d"/><ellipse cx="-6.4" cy="0.6" rx="7" ry="9.2" fill="#c8c8c8" stroke="#3a3a3a" stroke-width="0.8"/><ellipse cx="-6" cy="0.9" rx="4.9" ry="6.9" fill="#1d1d1d"/><path d="M0.5,-6.5 Q3.5,-1 1.5,6.5" fill="none" stroke="#555" stroke-width="0.8"/><path d="M-1,-8 Q2,-9.5 5,-8.2" fill="none" stroke="#555" stroke-width="0.7"/></g>
<path d="M349,513 L349,517 L362,512.5 L362,508 Z" fill="#ddd" stroke="#2b2a29" stroke-width="0.9" />
<path d="M344,154 L413,126 L413,486.5 L345.2,514.4 Z" fill="url(#fr_side)"/>
<clipPath id="fr_sideclips"><path d="M348.5,153 L410.5,128.5 L410.5,484.5 L348.5,510.5 Z"/></clipPath>
<g clip-path="url(#fr_sideclips)" stroke="#d9d9d9" stroke-width="4.4"><line x1="350" y1="120" x2="350" y2="516"/><line x1="359.1" y1="120" x2="359.1" y2="516"/><line x1="368.2" y1="120" x2="368.2" y2="516"/><line x1="377.3" y1="120" x2="377.3" y2="516"/><line x1="386.4" y1="120" x2="386.4" y2="516"/><line x1="395.5" y1="120" x2="395.5" y2="516"/><line x1="404.6" y1="120" x2="404.6" y2="516"/></g>
<path d="M178.5,137 L178.5,496 Q178.5,499.4 182.5,499.8 L313.7,516 L333,518.2 Q342,518.6 345.2,514.4 L344.0,154 Z" fill="url(#fr_front)"/>
<path d="M178.5,138 L178.5,496 Q178.5,499.4 182.5,499.8 L313.7,516 L333,518.2 Q342,518.6 345.2,514.4 L413.0,486.5 L413.0,126" fill="none" stroke="#2b2a29" stroke-width="2.6599999999999997" />
<line x1="344" y1="155.5" x2="345" y2="514.6" stroke="#2b2a29" stroke-width="2.0999999999999996" />
<line x1="313.7" y1="153.6" x2="313.7" y2="516" stroke="#444" stroke-width="1.1199999999999999" />
<line x1="189.6" y1="141" x2="189.6" y2="500.5" stroke="#666" stroke-width="1.1199999999999999" />
<line x1="410.7" y1="129" x2="410.7" y2="485.5" stroke="#666" stroke-width="0.7" />
<path d="M180.68,137.2 Q178.2,136.9 180.53,135.99 L243.04,111.48 Q257,106 271.9,107.72 L407.44,123.31 Q413.4,124 407.89,126.37 L352.28,150.28 Q338.5,156.2 323.61,154.41 Z" fill="url(#fr_top)" stroke="#2b2a29" stroke-width="2.8" />
<path d="M191.65,135.8 Q189.16,135.5 191.49,134.59 L245.72,113.32 Q257.36,108.76 269.78,110.19 L399.05,125.07 Q403.02,125.52 399.35,127.1 L349.59,148.5 Q338.1,153.43 325.69,151.94 Z" fill="none" stroke="#2b2a29" stroke-width="1.4" />
<ellipse cx="205.9" cy="135.3" rx="3.3" ry="1.6" fill="#2b2a29" transform="rotate(7 205.9 135.3)"/>
<ellipse cx="217.4" cy="136.7" rx="3.3" ry="1.6" fill="#2b2a29" transform="rotate(7 217.4 136.7)"/>
<ellipse cx="229.1" cy="137.9" rx="3.3" ry="1.6" fill="#2b2a29" transform="rotate(7 229.1 137.9)"/>
<ellipse cx="240.6" cy="139.4" rx="3.3" ry="1.6" fill="#2b2a29" transform="rotate(7 240.6 139.4)"/>
<ellipse cx="288" cy="144.4" rx="3.3" ry="1.6" fill="#2b2a29" transform="rotate(7 288 144.4)"/>
<ellipse cx="299" cy="146" rx="3.3" ry="1.6" fill="#2b2a29" transform="rotate(7 299 146)"/>
<ellipse cx="311.1" cy="147.4" rx="3.3" ry="1.6" fill="#2b2a29" transform="rotate(7 311.1 147.4)"/>
<ellipse cx="323.2" cy="148.8" rx="3.3" ry="1.6" fill="#2b2a29" transform="rotate(7 323.2 148.8)"/>
<path d="M247.5,142.6 L253.5,139.4 L281.5,142.8 L275.5,146.1 Z" fill="#c6c6c6" stroke="#444" stroke-width="0.9" />
<path d="M362.2,181 Q362.2,179.8 363.32,179.38 L389.28,169.62 Q390.4,169.2 390.4,170.4 L390.4,184.4 Q390.4,185.6 389.27,186 L363.33,195.2 Q362.2,195.6 362.2,194.4 Z" fill="url(#fr_hgrad)" stroke="#2b2a29" stroke-width="0.9" />
<clipPath id="fr_hclips"><path d="M362.7,180.4 L390,170 L390,185.2 L362.7,195 Z"/></clipPath>
<g clip-path="url(#fr_hclips)" stroke="#8a8a8a" stroke-width="0.6" fill="none"><path d="M363.5,168 Q366,182 362,197"/><path d="M365.5,168 Q368,182 364,197"/><path d="M367.5,168 Q370,182 366,197"/><path d="M369.5,168 Q372,182 368,197"/><path d="M371.5,168 Q374,182 370,197"/><path d="M373.5,168 Q376,182 372,197"/><path d="M375.5,168 Q378,182 374,197"/><path d="M377.5,168 Q380,182 376,197"/><path d="M379.5,168 Q382,182 378,197"/><path d="M381.5,168 Q384,182 380,197"/><path d="M383.5,168 Q386,182 382,197"/><path d="M385.5,168 Q388,182 384,197"/><path d="M387.5,168 Q390,182 386,197"/><path d="M389.5,168 Q392,182 388,197"/></g>
<g transform="translate(185.4,173.7) skewY(6.45)"><rect x="0" y="0" width="130.7" height="82.0" rx="1.5" fill="#fbfbfb" stroke="none"/><rect x="49.6" y="0.5" width="49" height="81.0" fill="url(#fr_combBs)"/><rect x="98.6" y="0.5" width="32.1" height="81.0" fill="url(#fr_combCs)"/><line x1="0.5" y1="10.25" x2="49.6" y2="10.85" stroke="#2b2a29" stroke-width="2.5"/><line x1="49.6" y1="10.85" x2="130.2" y2="11.45" stroke="#2b2a29" stroke-width="3.0"/><line x1="1" y1="8.35" x2="49.6" y2="8.95" stroke="#9a9a9a" stroke-width="0.5"/><line x1="0.5" y1="20.5" x2="49.6" y2="21.1" stroke="#2b2a29" stroke-width="2.5"/><line x1="49.6" y1="21.1" x2="130.2" y2="21.7" stroke="#2b2a29" stroke-width="3.0"/><line x1="1" y1="18.6" x2="49.6" y2="19.2" stroke="#9a9a9a" stroke-width="0.5"/><line x1="0.5" y1="30.75" x2="49.6" y2="31.35" stroke="#2b2a29" stroke-width="2.5"/><line x1="49.6" y1="31.35" x2="130.2" y2="31.95" stroke="#2b2a29" stroke-width="3.0"/><line x1="1" y1="28.85" x2="49.6" y2="29.45" stroke="#9a9a9a" stroke-width="0.5"/><line x1="0.5" y1="41" x2="49.6" y2="41.6" stroke="#2b2a29" stroke-width="2.5"/><line x1="49.6" y1="41.6" x2="130.2" y2="42.2" stroke="#2b2a29" stroke-width="3.0"/><line x1="1" y1="39.1" x2="49.6" y2="39.7" stroke="#9a9a9a" stroke-width="0.5"/><line x1="0.5" y1="51.25" x2="49.6" y2="51.85" stroke="#2b2a29" stroke-width="2.5"/><line x1="49.6" y1="51.85" x2="130.2" y2="52.45" stroke="#2b2a29" stroke-width="3.0"/><line x1="1" y1="49.35" x2="49.6" y2="49.95" stroke="#9a9a9a" stroke-width="0.5"/><line x1="0.5" y1="61.5" x2="49.6" y2="62.1" stroke="#2b2a29" stroke-width="2.5"/><line x1="49.6" y1="62.1" x2="130.2" y2="62.7" stroke="#2b2a29" stroke-width="3.0"/><line x1="1" y1="59.6" x2="49.6" y2="60.2" stroke="#9a9a9a" stroke-width="0.5"/><line x1="0.5" y1="71.75" x2="49.6" y2="72.35" stroke="#2b2a29" stroke-width="2.5"/><line x1="49.6" y1="72.35" x2="130.2" y2="72.95" stroke="#2b2a29" stroke-width="3.0"/><line x1="1" y1="69.85" x2="49.6" y2="70.45" stroke="#9a9a9a" stroke-width="0.5"/><line x1="49.6" y1="0" x2="49.6" y2="82.0" stroke="#444" stroke-width="1.6"/><line x1="98.6" y1="0" x2="98.6" y2="82.0" stroke="#444" stroke-width="1.4"/><line x1="1.6" y1="1" x2="1.6" y2="81.0" stroke="#444" stroke-width="0.8"/><rect x="0" y="0" width="130.7" height="82.0" rx="1.8" fill="none" stroke="#2b2a29" stroke-width="2.6"/></g></g>
<g id="frontunitg"><g transform="translate(396.5,503.5) scale(0.95)"><path d="M-13.5,-2 Q-12,-10 -3,-10 L6,-9.5 Q13.5,-8.5 14,-1 Q14,6 8,8 L-4,10 Q-13,10 -13.5,-2 Z" fill="#d2d2d2" stroke="#2b2a29" stroke-width="0.9"/><ellipse cx="8.4" cy="-0.8" rx="5.2" ry="7.2" fill="#c2c2c2" stroke="#3a3a3a" stroke-width="0.8"/><ellipse cx="9" cy="-0.6" rx="3.4" ry="5.2" fill="#1d1d1d"/><ellipse cx="-6.4" cy="0.6" rx="7" ry="9.2" fill="#c8c8c8" stroke="#3a3a3a" stroke-width="0.8"/><ellipse cx="-6" cy="0.9" rx="4.9" ry="6.9" fill="#1d1d1d"/><path d="M0.5,-6.5 Q3.5,-1 1.5,6.5" fill="none" stroke="#555" stroke-width="0.8"/><path d="M-1,-8 Q2,-9.5 5,-8.2" fill="none" stroke="#555" stroke-width="0.7"/></g>
<g transform="translate(202.2,512.7) scale(1)"><path d="M-13.5,-2 Q-12,-10 -3,-10 L6,-9.5 Q13.5,-8.5 14,-1 Q14,6 8,8 L-4,10 Q-13,10 -13.5,-2 Z" fill="#d2d2d2" stroke="#2b2a29" stroke-width="0.9"/><ellipse cx="8.4" cy="-0.8" rx="5.2" ry="7.2" fill="#c2c2c2" stroke="#3a3a3a" stroke-width="0.8"/><ellipse cx="9" cy="-0.6" rx="3.4" ry="5.2" fill="#1d1d1d"/><ellipse cx="-6.4" cy="0.6" rx="7" ry="9.2" fill="#c8c8c8" stroke="#3a3a3a" stroke-width="0.8"/><ellipse cx="-6" cy="0.9" rx="4.9" ry="6.9" fill="#1d1d1d"/><path d="M0.5,-6.5 Q3.5,-1 1.5,6.5" fill="none" stroke="#555" stroke-width="0.8"/><path d="M-1,-8 Q2,-9.5 5,-8.2" fill="none" stroke="#555" stroke-width="0.7"/></g>
<g transform="translate(314,525.6) scale(1)"><path d="M-13.5,-2 Q-12,-10 -3,-10 L6,-9.5 Q13.5,-8.5 14,-1 Q14,6 8,8 L-4,10 Q-13,10 -13.5,-2 Z" fill="#d2d2d2" stroke="#2b2a29" stroke-width="0.9"/><ellipse cx="8.4" cy="-0.8" rx="5.2" ry="7.2" fill="#c2c2c2" stroke="#3a3a3a" stroke-width="0.8"/><ellipse cx="9" cy="-0.6" rx="3.4" ry="5.2" fill="#1d1d1d"/><ellipse cx="-6.4" cy="0.6" rx="7" ry="9.2" fill="#c8c8c8" stroke="#3a3a3a" stroke-width="0.8"/><ellipse cx="-6" cy="0.9" rx="4.9" ry="6.9" fill="#1d1d1d"/><path d="M0.5,-6.5 Q3.5,-1 1.5,6.5" fill="none" stroke="#555" stroke-width="0.8"/><path d="M-1,-8 Q2,-9.5 5,-8.2" fill="none" stroke="#555" stroke-width="0.7"/></g>
<path d="M349,513 L349,517 L362,512.5 L362,508 Z" fill="#ddd" stroke="#2b2a29" stroke-width="0.9" />
<path d="M344,154 L413,126 L413,486.5 L345.2,514.4 Z" fill="url(#fr_sideg)"/>
<path d="M178.5,137 L178.5,496 Q178.5,499.4 182.5,499.8 L313.7,516 L333,518.2 Q342,518.6 345.2,514.4 L344.0,154 Z" fill="url(#fr_front)"/>
<path d="M178.5,138 L178.5,496 Q178.5,499.4 182.5,499.8 L313.7,516 L333,518.2 Q342,518.6 345.2,514.4 L413.0,486.5 L413.0,126" fill="none" stroke="#2b2a29" stroke-width="2.6599999999999997" />
<line x1="344" y1="155.5" x2="345" y2="514.6" stroke="#2b2a29" stroke-width="2.0999999999999996" />
<line x1="313.7" y1="153.6" x2="313.7" y2="516" stroke="#444" stroke-width="1.1199999999999999" />
<line x1="189.6" y1="141" x2="189.6" y2="500.5" stroke="#666" stroke-width="1.1199999999999999" />
<line x1="410.7" y1="129" x2="410.7" y2="485.5" stroke="#666" stroke-width="0.7" />
<path d="M180.68,137.2 Q178.2,136.9 180.53,135.99 L243.04,111.48 Q257,106 271.9,107.72 L407.44,123.31 Q413.4,124 407.89,126.37 L352.28,150.28 Q338.5,156.2 323.61,154.41 Z" fill="url(#fr_top)" stroke="#2b2a29" stroke-width="2.8" />
<path d="M191.65,135.8 Q189.16,135.5 191.49,134.59 L245.72,113.32 Q257.36,108.76 269.78,110.19 L399.05,125.07 Q403.02,125.52 399.35,127.1 L349.59,148.5 Q338.1,153.43 325.69,151.94 Z" fill="none" stroke="#2b2a29" stroke-width="1.4" />
<ellipse cx="205.9" cy="135.3" rx="3.3" ry="1.6" fill="#2b2a29" transform="rotate(7 205.9 135.3)"/>
<ellipse cx="217.4" cy="136.7" rx="3.3" ry="1.6" fill="#2b2a29" transform="rotate(7 217.4 136.7)"/>
<ellipse cx="229.1" cy="137.9" rx="3.3" ry="1.6" fill="#2b2a29" transform="rotate(7 229.1 137.9)"/>
<ellipse cx="240.6" cy="139.4" rx="3.3" ry="1.6" fill="#2b2a29" transform="rotate(7 240.6 139.4)"/>
<ellipse cx="288" cy="144.4" rx="3.3" ry="1.6" fill="#2b2a29" transform="rotate(7 288 144.4)"/>
<ellipse cx="299" cy="146" rx="3.3" ry="1.6" fill="#2b2a29" transform="rotate(7 299 146)"/>
<ellipse cx="311.1" cy="147.4" rx="3.3" ry="1.6" fill="#2b2a29" transform="rotate(7 311.1 147.4)"/>
<ellipse cx="323.2" cy="148.8" rx="3.3" ry="1.6" fill="#2b2a29" transform="rotate(7 323.2 148.8)"/>
<path d="M247.5,142.6 L253.5,139.4 L281.5,142.8 L275.5,146.1 Z" fill="#c6c6c6" stroke="#444" stroke-width="0.9" />
<path d="M362.2,181 Q362.2,179.8 363.32,179.38 L389.28,169.62 Q390.4,169.2 390.4,170.4 L390.4,184.4 Q390.4,185.6 389.27,186 L363.33,195.2 Q362.2,195.6 362.2,194.4 Z" fill="url(#fr_hgrad)" stroke="#2b2a29" stroke-width="0.9" />
<clipPath id="fr_hclipg"><path d="M362.7,180.4 L390,170 L390,185.2 L362.7,195 Z"/></clipPath>
<g clip-path="url(#fr_hclipg)" stroke="#8a8a8a" stroke-width="0.6" fill="none"><path d="M363.5,168 Q366,182 362,197"/><path d="M365.5,168 Q368,182 364,197"/><path d="M367.5,168 Q370,182 366,197"/><path d="M369.5,168 Q372,182 368,197"/><path d="M371.5,168 Q374,182 370,197"/><path d="M373.5,168 Q376,182 372,197"/><path d="M375.5,168 Q378,182 374,197"/><path d="M377.5,168 Q380,182 376,197"/><path d="M379.5,168 Q382,182 378,197"/><path d="M381.5,168 Q384,182 380,197"/><path d="M383.5,168 Q386,182 382,197"/><path d="M385.5,168 Q388,182 384,197"/><path d="M387.5,168 Q390,182 386,197"/><path d="M389.5,168 Q392,182 388,197"/></g>
<g transform="translate(185.4,173.7) skewY(6.45)"><rect x="0" y="0" width="130.7" height="82.0" rx="1.5" fill="#fbfbfb" stroke="none"/><rect x="49.6" y="0.5" width="49" height="81.0" fill="url(#fr_combBs)"/><rect x="98.6" y="0.5" width="32.1" height="81.0" fill="url(#fr_combCs)"/><line x1="0.5" y1="10.25" x2="49.6" y2="10.85" stroke="#2b2a29" stroke-width="2.5"/><line x1="49.6" y1="10.85" x2="130.2" y2="11.45" stroke="#2b2a29" stroke-width="3.0"/><line x1="1" y1="8.35" x2="49.6" y2="8.95" stroke="#9a9a9a" stroke-width="0.5"/><line x1="0.5" y1="20.5" x2="49.6" y2="21.1" stroke="#2b2a29" stroke-width="2.5"/><line x1="49.6" y1="21.1" x2="130.2" y2="21.7" stroke="#2b2a29" stroke-width="3.0"/><line x1="1" y1="18.6" x2="49.6" y2="19.2" stroke="#9a9a9a" stroke-width="0.5"/><line x1="0.5" y1="30.75" x2="49.6" y2="31.35" stroke="#2b2a29" stroke-width="2.5"/><line x1="49.6" y1="31.35" x2="130.2" y2="31.95" stroke="#2b2a29" stroke-width="3.0"/><line x1="1" y1="28.85" x2="49.6" y2="29.45" stroke="#9a9a9a" stroke-width="0.5"/><line x1="0.5" y1="41" x2="49.6" y2="41.6" stroke="#2b2a29" stroke-width="2.5"/><line x1="49.6" y1="41.6" x2="130.2" y2="42.2" stroke="#2b2a29" stroke-width="3.0"/><line x1="1" y1="39.1" x2="49.6" y2="39.7" stroke="#9a9a9a" stroke-width="0.5"/><line x1="0.5" y1="51.25" x2="49.6" y2="51.85" stroke="#2b2a29" stroke-width="2.5"/><line x1="49.6" y1="51.85" x2="130.2" y2="52.45" stroke="#2b2a29" stroke-width="3.0"/><line x1="1" y1="49.35" x2="49.6" y2="49.95" stroke="#9a9a9a" stroke-width="0.5"/><line x1="0.5" y1="61.5" x2="49.6" y2="62.1" stroke="#2b2a29" stroke-width="2.5"/><line x1="49.6" y1="62.1" x2="130.2" y2="62.7" stroke="#2b2a29" stroke-width="3.0"/><line x1="1" y1="59.6" x2="49.6" y2="60.2" stroke="#9a9a9a" stroke-width="0.5"/><line x1="0.5" y1="71.75" x2="49.6" y2="72.35" stroke="#2b2a29" stroke-width="2.5"/><line x1="49.6" y1="72.35" x2="130.2" y2="72.95" stroke="#2b2a29" stroke-width="3.0"/><line x1="1" y1="69.85" x2="49.6" y2="70.45" stroke="#9a9a9a" stroke-width="0.5"/><line x1="49.6" y1="0" x2="49.6" y2="82.0" stroke="#444" stroke-width="1.6"/><line x1="98.6" y1="0" x2="98.6" y2="82.0" stroke="#444" stroke-width="1.4"/><line x1="1.6" y1="1" x2="1.6" y2="81.0" stroke="#444" stroke-width="0.8"/><rect x="0" y="0" width="130.7" height="82.0" rx="1.8" fill="none" stroke="#2b2a29" stroke-width="2.6"/></g></g>
<linearGradient id="p4bg" x1="0" y1="0" x2="1" y2="0">
 <stop offset="0" stop-color="#e4e4e4"/><stop offset="0.12" stop-color="#f8f8f8"/><stop offset="1" stop-color="#fff"/>
</linearGradient>

<linearGradient id="p6grad" gradientUnits="userSpaceOnUse" x1="972" y1="1468" x2="1001" y2="1512">
 <stop offset="0" stop-color="#e4e4e4"/><stop offset="0.45" stop-color="#9a9a9a"/><stop offset="1" stop-color="#303030"/>
</linearGradient>

</defs>
<rect width="1240" height="1754" fill="#fff"/>
<clipPath id="clipA"><rect x="119" y="76" width="517" height="696"/></clipPath>
<g clip-path="url(#clipA)">
<use href="#frontunit"/>
<path d="M338.3,352 L345,348 L470,333 L495,333 L573.5,361 L573.5,722 L565,728 L437,745 L408,743 L338.3,712.6 Z" fill="#fff" stroke="#fff" stroke-width="30" stroke-linejoin="round"/>
<circle cx="357" cy="731" r="23" fill="#fff"/><circle cx="437" cy="754" r="24" fill="#fff"/><circle cx="550" cy="740" r="22" fill="#fff"/>
<use href="#backunit"/>
</g>
<text x="160.5" y="117.3" font-size="18" text-anchor="start" fill="#2b2a29" style="font-family:'Liberation Sans',sans-serif;font-weight:bold" >21</text>
<line x1="179.8" y1="119.7" x2="223.4" y2="133.4" stroke="#fff" stroke-width="2.7" /><line x1="179.8" y1="119.7" x2="223.4" y2="133.4" stroke="#2b2a29" stroke-width="0.9" /><circle cx="223.4" cy="133.4" r="2.4" fill="#2b2a29"/>
<text x="133" y="171.3" font-size="18" text-anchor="start" fill="#2b2a29" style="font-family:'Liberation Sans',sans-serif;font-weight:bold" >29</text>
<line x1="155.6" y1="162.9" x2="253.2" y2="146.3" stroke="#fff" stroke-width="2.7" /><line x1="155.6" y1="162.9" x2="253.2" y2="146.3" stroke="#2b2a29" stroke-width="0.9" /><circle cx="253.2" cy="146.3" r="2.4" fill="#2b2a29"/>
<text x="132.5" y="250.6" font-size="18" text-anchor="start" fill="#2b2a29" style="font-family:'Liberation Sans',sans-serif;font-weight:bold" >22</text>
<line x1="153.3" y1="239.8" x2="215.2" y2="214.9" stroke="#fff" stroke-width="2.7" /><line x1="153.3" y1="239.8" x2="215.2" y2="214.9" stroke="#2b2a29" stroke-width="0.9" /><circle cx="215.2" cy="214.9" r="2.4" fill="#2b2a29"/>
<text x="429.7" y="199.1" font-size="18" text-anchor="start" fill="#2b2a29" style="font-family:'Liberation Sans',sans-serif;font-weight:bold" >27</text>
<line x1="426.1" y1="187.8" x2="389.1" y2="177.4" stroke="#fff" stroke-width="2.7" /><line x1="426.1" y1="187.8" x2="389.1" y2="177.4" stroke="#2b2a29" stroke-width="0.9" /><circle cx="389.1" cy="177.4" r="2.4" fill="#2b2a29"/>
<text x="432.9" y="310.7" font-size="18" text-anchor="start" fill="#2b2a29" style="font-family:'Liberation Sans',sans-serif;font-weight:bold" >27</text>
<line x1="432.9" y1="315.2" x2="378.7" y2="401.9" stroke="#fff" stroke-width="2.7" /><line x1="432.9" y1="315.2" x2="378.7" y2="401.9" stroke="#2b2a29" stroke-width="0.9" /><circle cx="378.7" cy="401.9" r="2.4" fill="#2b2a29"/>
<text x="596" y="385.2" font-size="18" text-anchor="start" fill="#2b2a29" style="font-family:'Liberation Sans',sans-serif;font-weight:bold" >23a</text>
<line x1="592.3" y1="383" x2="540.4" y2="414.6" stroke="#fff" stroke-width="2.7" /><line x1="592.3" y1="383" x2="540.4" y2="414.6" stroke="#2b2a29" stroke-width="0.9" /><circle cx="540.4" cy="414.6" r="2.4" fill="#2b2a29"/>
<text x="600" y="529.3" font-size="18" text-anchor="start" fill="#2b2a29" style="font-family:'Liberation Sans',sans-serif;font-weight:bold" >28</text>
<line x1="594.6" y1="526.2" x2="541.7" y2="536.6" stroke="#fff" stroke-width="2.7" /><line x1="594.6" y1="526.2" x2="541.7" y2="536.6" stroke="#2b2a29" stroke-width="0.9" /><circle cx="541.7" cy="536.6" r="2.4" fill="#2b2a29"/>
<text x="600" y="606.1" font-size="18" text-anchor="start" fill="#2b2a29" style="font-family:'Liberation Sans',sans-serif;font-weight:bold" >25</text>
<line x1="594.6" y1="603" x2="539" y2="610.6" stroke="#fff" stroke-width="2.7" /><line x1="594.6" y1="603" x2="539" y2="610.6" stroke="#2b2a29" stroke-width="0.9" /><circle cx="539" cy="610.6" r="2.4" fill="#2b2a29"/>
<text x="597.7" y="654.9" font-size="18" text-anchor="start" fill="#2b2a29" style="font-family:'Liberation Sans',sans-serif;font-weight:bold" >23b</text>
<line x1="594.6" y1="650.4" x2="539" y2="658.5" stroke="#fff" stroke-width="2.7" /><line x1="594.6" y1="650.4" x2="539" y2="658.5" stroke="#2b2a29" stroke-width="0.9" /><circle cx="539" cy="658.5" r="2.4" fill="#2b2a29"/>
<text x="305.5" y="625.5" font-size="18" text-anchor="start" fill="#2b2a29" style="font-family:'Liberation Sans',sans-serif;font-weight:bold" >26</text>
<line x1="329.4" y1="612" x2="474" y2="563.2" stroke="#fff" stroke-width="2.7" /><line x1="329.4" y1="612" x2="474" y2="563.2" stroke="#2b2a29" stroke-width="0.9" /><circle cx="474" cy="563.2" r="2.4" fill="#2b2a29"/>
<text x="576.5" y="758.8" font-size="18" text-anchor="start" fill="#2b2a29" style="font-family:'Liberation Sans',sans-serif;font-weight:bold" >24</text>
<line x1="572.1" y1="750.3" x2="510.6" y2="745.4" stroke="#fff" stroke-width="2.7" /><line x1="572.1" y1="750.3" x2="510.6" y2="745.4" stroke="#2b2a29" stroke-width="0.9" />
<clipPath id="clip1"><rect x="638" y="76" width="524" height="397"/></clipPath>
<g clip-path="url(#clip1)">
<line x1="841.3" y1="88" x2="841.3" y2="224" stroke="#333" stroke-width="1.0" />
<line x1="862.6" y1="87" x2="862.6" y2="158.4" stroke="#333" stroke-width="1.0" />
<line x1="869.7" y1="87" x2="869.7" y2="153.5" stroke="#333" stroke-width="1.0" />
<line x1="925.5" y1="88" x2="925.5" y2="168.1" stroke="#333" stroke-width="1.0" />
<line x1="930.7" y1="88" x2="930.7" y2="163.2" stroke="#333" stroke-width="1.0" />
<line x1="979.7" y1="85" x2="979.7" y2="164.2" stroke="#333" stroke-width="1.0" />
<line x1="1031.5" y1="88" x2="1031.5" y2="196.1" stroke="#333" stroke-width="1.0" />
<line x1="1037.7" y1="88" x2="1037.7" y2="205.4" stroke="#333" stroke-width="1.0" />
<line x1="862.6" y1="158.4" x2="958" y2="184.2" stroke="#333" stroke-width="1.0" />
<line x1="1004" y1="196.4" x2="1037.7" y2="205.4" stroke="#333" stroke-width="1.0" />
<line x1="869.7" y1="153.5" x2="925.5" y2="168.1" stroke="#333" stroke-width="1.0" />
<line x1="930.7" y1="163.2" x2="969" y2="171.9" stroke="#333" stroke-width="1.0" />
<line x1="930.7" y1="166.1" x2="963.2" y2="174.8" stroke="#333" stroke-width="1.0" />
<line x1="1014" y1="191.5" x2="1031.5" y2="196.1" stroke="#333" stroke-width="1.0" />
<line x1="1031.5" y1="196.1" x2="1037.7" y2="205.4" stroke="#333" stroke-width="1.0" />
<line x1="862.6" y1="158.4" x2="869.7" y2="153.5" stroke="#333" stroke-width="1.0" />
<line x1="651.5" y1="379" x2="836" y2="270" stroke="#333" stroke-width="1.0" />
<line x1="664.1" y1="374.8" x2="704" y2="351.7" stroke="#333" stroke-width="1.0" />
<line x1="710.2" y1="347.5" x2="744.8" y2="327.2" stroke="#333" stroke-width="1.0" />
<line x1="751.1" y1="322.8" x2="772.1" y2="310.8" stroke="#333" stroke-width="1.0" />
<line x1="780.5" y1="304.9" x2="801.5" y2="292.8" stroke="#333" stroke-width="1.0" />
<line x1="808.8" y1="287.6" x2="836" y2="273" stroke="#333" stroke-width="1.0" />
<line x1="658.9" y1="395.1" x2="816.5" y2="303.5" stroke="#333" stroke-width="1.0" />
<line x1="823.8" y1="298.5" x2="831.2" y2="294.2" stroke="#333" stroke-width="1.0" />
<line x1="968.5" y1="297" x2="1149.6" y2="358" stroke="#333" stroke-width="1.0" />
<line x1="970.3" y1="300.3" x2="980" y2="303.7" stroke="#333" stroke-width="1.0" />
<line x1="984" y1="305" x2="1013.3" y2="315" stroke="#333" stroke-width="1.0" />
<line x1="1018.6" y1="316.7" x2="1059.4" y2="330.7" stroke="#333" stroke-width="1.0" />
<line x1="1074.1" y1="336" x2="1116.1" y2="350.2" stroke="#333" stroke-width="1.0" />
<line x1="1128.6" y1="354.2" x2="1148.6" y2="361.1" stroke="#333" stroke-width="1.0" />
<line x1="970.5" y1="313.7" x2="1145.4" y2="373.3" stroke="#333" stroke-width="1.0" />
<line x1="806.7" y1="315.6" x2="834" y2="326.5" stroke="#333" stroke-width="1.0" />
<line x1="806.7" y1="381" x2="831.9" y2="366.4" stroke="#333" stroke-width="1.0" />
<line x1="806.7" y1="457.6" x2="834" y2="441.2" stroke="#333" stroke-width="1.0" />
<line x1="653.6" y1="425.7" x2="700.8" y2="441.9" stroke="#333" stroke-width="1.0" />
<line x1="708.1" y1="445" x2="746.9" y2="458.6" stroke="#333" stroke-width="1.0" />
<line x1="690.3" y1="451.3" x2="700.8" y2="445" stroke="#333" stroke-width="1.0" />
<line x1="708.1" y1="440.8" x2="752.2" y2="414.6" stroke="#333" stroke-width="1.0" />
<line x1="969.3" y1="362.2" x2="1009.7" y2="337" stroke="#333" stroke-width="1.0" />
<line x1="969.3" y1="373.7" x2="987.5" y2="379.6" stroke="#333" stroke-width="1.0" />
<line x1="1049" y1="396.8" x2="1095.7" y2="369.5" stroke="#333" stroke-width="1.0" />
<line x1="1049" y1="400.6" x2="1115" y2="423.6" stroke="#333" stroke-width="1.0" />
<line x1="1122.3" y1="421.9" x2="1151.7" y2="405.6" stroke="#333" stroke-width="1.0" />
<line x1="1122.3" y1="426.1" x2="1152.3" y2="435.6" stroke="#333" stroke-width="1.0" />
<line x1="1068.9" y1="455.1" x2="1116.1" y2="427.2" stroke="#333" stroke-width="1.0" />
<line x1="964" y1="447.1" x2="1041.6" y2="401.4" stroke="#333" stroke-width="1.0" />
<line x1="946.2" y1="445" x2="955.6" y2="448.2" stroke="#333" stroke-width="1.0" />
<line x1="951.5" y1="454.4" x2="957.7" y2="451.3" stroke="#333" stroke-width="1.0" />
<line x1="964" y1="450.9" x2="975.6" y2="454.9" stroke="#333" stroke-width="1.0" />
<path d="M936.1,213.2 C947,189 972,174 1001.5,161.6 C1013,157.5 1021.5,168 1019.5,181 C1018,191 1013,197 1007,197.2 C996,203 982,209 968.8,219 Z" fill="#fff" stroke="none"/>
<path d="M936.1,213.2 C947,189 972,174 1001.5,161.6" fill="none" stroke="#2b2a29" stroke-width="1.5" />
<path d="M968.8,219 C982,209 996,203 1007,197.2" fill="none" stroke="#2b2a29" stroke-width="1.5" />
<path d="M1001.5,161.6 C1013,157.5 1021.5,168 1019.5,181 C1018,191 1013,197 1007,197.2" fill="none" stroke="#2b2a29" stroke-width="1.0" />
<path d="M938.37,208.66 Q944.32,206.75 949.26,206.12" fill="none" stroke="#2b2a29" stroke-width="0.9" />
<path d="M940.97,204.33 Q947.76,202.63 953.2,202.43" fill="none" stroke="#2b2a29" stroke-width="0.9" />
<path d="M943.88,200.21 Q951.48,198.79 957.35,199.11" fill="none" stroke="#2b2a29" stroke-width="0.9" />
<path d="M947.1,196.29 Q955.47,195.22 961.67,196.13" fill="none" stroke="#2b2a29" stroke-width="0.9" />
<path d="M950.61,192.55 Q959.67,191.91 966.1,193.46" fill="none" stroke="#2b2a29" stroke-width="0.9" />
<path d="M981.61,210.49 Q981.11,206.09 979.32,202.76" fill="none" stroke="#2b2a29" stroke-width="0.9" />
<path d="M954.39,188.98 Q964.07,188.84 970.61,191.09" fill="none" stroke="#2b2a29" stroke-width="0.9" />
<path d="M984.17,209.02 Q983.83,203.2 981.27,199.07" fill="none" stroke="#2b2a29" stroke-width="0.9" />
<path d="M958.42,185.58 Q968.63,185.99 975.15,188.98" fill="none" stroke="#2b2a29" stroke-width="0.9" />
<path d="M986.71,207.61 Q986.69,200.32 983.24,195.43" fill="none" stroke="#2b2a29" stroke-width="0.9" />
<path d="M962.7,182.34 Q990.32,184.93 989.23,206.26" fill="none" stroke="#2b2a29" stroke-width="0.9" />
<path d="M967.2,179.23 Q994.03,183.22 991.72,204.96" fill="none" stroke="#2b2a29" stroke-width="0.9" />
<path d="M971.91,176.26 Q997.76,181.57 994.17,203.7" fill="none" stroke="#2b2a29" stroke-width="0.9" />
<path d="M976.82,173.42 Q1001.55,179.94 996.58,202.48" fill="none" stroke="#2b2a29" stroke-width="0.9" />
<path d="M981.91,170.68 Q1005.4,178.31 998.95,201.29" fill="none" stroke="#2b2a29" stroke-width="0.9" />
<path d="M987.17,168.05 Q1009.32,176.69 1001.27,200.13" fill="none" stroke="#2b2a29" stroke-width="0.9" />
<path d="M992.58,165.5 Q1013.35,175.04 1003.52,199" fill="none" stroke="#2b2a29" stroke-width="0.9" />
<path d="M998.12,163.04 Q1017.48,173.35 1005.72,197.87" fill="none" stroke="#2b2a29" stroke-width="0.9" />
<use href="#frontunits" transform="translate(835.4,230) scale(0.5585) translate(-178.5,-136.3)"/>
<line x1="711.5" y1="364.8" x2="834.6" y2="415.5" stroke="#2b2a29" stroke-width="1.0" /><path d="M834.6,415.5 L825.06,415.03 L827.5,409.11 Z" fill="#2b2a29"/><path d="M711.5,364.8 L721.04,365.27 L718.6,371.19 Z" fill="#2b2a29"/>
<line x1="967.2" y1="411.6" x2="1071.4" y2="350.2" stroke="#2b2a29" stroke-width="1.0" /><path d="M1071.4,350.2 L1065.27,357.53 L1062.02,352.01 Z" fill="#2b2a29"/><path d="M967.2,411.6 L973.33,404.27 L976.58,409.79 Z" fill="#2b2a29"/>
<g transform="translate(752.2,376.4) skewY(21)"><text x="0" y="0" font-size="20" text-anchor="start" fill="#2b2a29" style="font-family:'Liberation Sans',sans-serif;font-weight:bold" >min.</text></g>
<g transform="translate(748.1,398.1) skewY(21)"><text x="0" y="0" font-size="20" text-anchor="start" fill="#2b2a29" style="font-family:'Liberation Sans',sans-serif;font-weight:bold" >50cm</text></g>
<g transform="matrix(1,-0.6,0.32,0.9,1000.7,388.4)"><text x="0" y="0" font-size="20.5" text-anchor="start" fill="#2b2a29" style="font-family:'Liberation Sans',sans-serif;font-weight:bold" >min.</text></g>
<g transform="matrix(1,-0.6,0.32,0.9,995.9,416.7)"><text x="0" y="0" font-size="20.5" text-anchor="start" fill="#2b2a29" style="font-family:'Liberation Sans',sans-serif;font-weight:bold" >50cm</text></g>
</g>
<clipPath id="clip2"><rect x="638" y="475" width="524" height="401"/></clipPath>
<g clip-path="url(#clip2)">
<g transform="translate(1.3,400.8)">
<line x1="841.3" y1="88" x2="841.3" y2="224" stroke="#333" stroke-width="1.0" />
<line x1="862.6" y1="87" x2="862.6" y2="158.4" stroke="#333" stroke-width="1.0" />
<line x1="869.7" y1="87" x2="869.7" y2="153.5" stroke="#333" stroke-width="1.0" />
<line x1="925.5" y1="88" x2="925.5" y2="168.1" stroke="#333" stroke-width="1.0" />
<line x1="930.7" y1="88" x2="930.7" y2="163.2" stroke="#333" stroke-width="1.0" />
<line x1="979.7" y1="85" x2="979.7" y2="164.2" stroke="#333" stroke-width="1.0" />
<line x1="1031.5" y1="88" x2="1031.5" y2="196.1" stroke="#333" stroke-width="1.0" />
<line x1="1037.7" y1="88" x2="1037.7" y2="205.4" stroke="#333" stroke-width="1.0" />
<line x1="862.6" y1="158.4" x2="958" y2="184.2" stroke="#333" stroke-width="1.0" />
<line x1="1004" y1="196.4" x2="1037.7" y2="205.4" stroke="#333" stroke-width="1.0" />
<line x1="869.7" y1="153.5" x2="925.5" y2="168.1" stroke="#333" stroke-width="1.0" />
<line x1="930.7" y1="163.2" x2="969" y2="171.9" stroke="#333" stroke-width="1.0" />
<line x1="930.7" y1="166.1" x2="963.2" y2="174.8" stroke="#333" stroke-width="1.0" />
<line x1="1014" y1="191.5" x2="1031.5" y2="196.1" stroke="#333" stroke-width="1.0" />
<line x1="1031.5" y1="196.1" x2="1037.7" y2="205.4" stroke="#333" stroke-width="1.0" />
<line x1="862.6" y1="158.4" x2="869.7" y2="153.5" stroke="#333" stroke-width="1.0" />
<line x1="651.5" y1="379" x2="836" y2="270" stroke="#333" stroke-width="1.0" />
<line x1="664.1" y1="374.8" x2="704" y2="351.7" stroke="#333" stroke-width="1.0" />
<line x1="710.2" y1="347.5" x2="744.8" y2="327.2" stroke="#333" stroke-width="1.0" />
<line x1="751.1" y1="322.8" x2="772.1" y2="310.8" stroke="#333" stroke-width="1.0" />
<line x1="780.5" y1="304.9" x2="801.5" y2="292.8" stroke="#333" stroke-width="1.0" />
<line x1="808.8" y1="287.6" x2="836" y2="273" stroke="#333" stroke-width="1.0" />
<line x1="658.9" y1="395.1" x2="816.5" y2="303.5" stroke="#333" stroke-width="1.0" />
<line x1="823.8" y1="298.5" x2="831.2" y2="294.2" stroke="#333" stroke-width="1.0" />
<line x1="968.5" y1="297" x2="1149.6" y2="358" stroke="#333" stroke-width="1.0" />
<line x1="970.3" y1="300.3" x2="980" y2="303.7" stroke="#333" stroke-width="1.0" />
<line x1="984" y1="305" x2="1013.3" y2="315" stroke="#333" stroke-width="1.0" />
<line x1="1018.6" y1="316.7" x2="1059.4" y2="330.7" stroke="#333" stroke-width="1.0" />
<line x1="1074.1" y1="336" x2="1116.1" y2="350.2" stroke="#333" stroke-width="1.0" />
<line x1="1128.6" y1="354.2" x2="1148.6" y2="361.1" stroke="#333" stroke-width="1.0" />
<line x1="970.5" y1="313.7" x2="1145.4" y2="373.3" stroke="#333" stroke-width="1.0" />
<line x1="808.8" y1="315.9" x2="835" y2="326.4" stroke="#333" stroke-width="1.0" />
<line x1="712.3" y1="369.1" x2="781.5" y2="393.5" stroke="#333" stroke-width="1.0" />
<line x1="789.9" y1="396" x2="835" y2="413.8" stroke="#333" stroke-width="1.0" />
<line x1="790.6" y1="392.2" x2="834" y2="366.6" stroke="#333" stroke-width="1.0" />
<line x1="710.2" y1="440.4" x2="782.6" y2="397" stroke="#333" stroke-width="1.0" />
<line x1="656.4" y1="425.3" x2="702.9" y2="441.7" stroke="#333" stroke-width="1.0" />
<line x1="710.2" y1="444.6" x2="749" y2="457.8" stroke="#333" stroke-width="1.0" />
<line x1="692.4" y1="450.9" x2="702.9" y2="445.2" stroke="#333" stroke-width="1.0" />
<line x1="807.8" y1="457.2" x2="836" y2="441.1" stroke="#333" stroke-width="1.0" />
<line x1="969.3" y1="362.4" x2="1010.2" y2="336.9" stroke="#333" stroke-width="1.0" />
<line x1="970.4" y1="374" x2="1041.6" y2="398.1" stroke="#333" stroke-width="1.0" />
<line x1="1049" y1="396.4" x2="1096.1" y2="369.1" stroke="#333" stroke-width="1.0" />
<line x1="1049" y1="400.6" x2="1115" y2="423.2" stroke="#333" stroke-width="1.0" />
<line x1="1122.3" y1="421.6" x2="1151.7" y2="405" stroke="#333" stroke-width="1.0" />
<line x1="1122.3" y1="425.8" x2="1152.3" y2="435.2" stroke="#333" stroke-width="1.0" />
<line x1="1068.9" y1="454.7" x2="1116.1" y2="426.8" stroke="#333" stroke-width="1.0" />
<line x1="964.1" y1="446.3" x2="1041.6" y2="401.2" stroke="#333" stroke-width="1.0" />
<line x1="946.5" y1="445" x2="955.6" y2="448.2" stroke="#333" stroke-width="1.0" />
<line x1="951.8" y1="454.4" x2="957.7" y2="451.1" stroke="#333" stroke-width="1.0" />
<line x1="964" y1="450.5" x2="975.8" y2="454.5" stroke="#333" stroke-width="1.0" />
<path d="M936.1,213.2 C947,189 972,174 1001.5,161.6 C1013,157.5 1021.5,168 1019.5,181 C1018,191 1013,197 1007,197.2 C996,203 982,209 968.8,219 Z" fill="#fff" stroke="none"/>
<path d="M936.1,213.2 C947,189 972,174 1001.5,161.6" fill="none" stroke="#2b2a29" stroke-width="1.5" />
<path d="M968.8,219 C982,209 996,203 1007,197.2" fill="none" stroke="#2b2a29" stroke-width="1.5" />
<path d="M1001.5,161.6 C1013,157.5 1021.5,168 1019.5,181 C1018,191 1013,197 1007,197.2" fill="none" stroke="#2b2a29" stroke-width="1.0" />
<path d="M938.37,208.66 Q944.32,206.75 949.26,206.12" fill="none" stroke="#2b2a29" stroke-width="0.9" />
<path d="M940.97,204.33 Q947.76,202.63 953.2,202.43" fill="none" stroke="#2b2a29" stroke-width="0.9" />
<path d="M943.88,200.21 Q951.48,198.79 957.35,199.11" fill="none" stroke="#2b2a29" stroke-width="0.9" />
<path d="M947.1,196.29 Q955.47,195.22 961.67,196.13" fill="none" stroke="#2b2a29" stroke-width="0.9" />
<path d="M950.61,192.55 Q959.67,191.91 966.1,193.46" fill="none" stroke="#2b2a29" stroke-width="0.9" />
<path d="M981.61,210.49 Q981.11,206.09 979.32,202.76" fill="none" stroke="#2b2a29" stroke-width="0.9" />
<path d="M954.39,188.98 Q964.07,188.84 970.61,191.09" fill="none" stroke="#2b2a29" stroke-width="0.9" />
<path d="M984.17,209.02 Q983.83,203.2 981.27,199.07" fill="none" stroke="#2b2a29" stroke-width="0.9" />
<path d="M958.42,185.58 Q968.63,185.99 975.15,188.98" fill="none" stroke="#2b2a29" stroke-width="0.9" />
<path d="M986.71,207.61 Q986.69,200.32 983.24,195.43" fill="none" stroke="#2b2a29" stroke-width="0.9" />
<path d="M962.7,182.34 Q990.32,184.93 989.23,206.26" fill="none" stroke="#2b2a29" stroke-width="0.9" />
<path d="M967.2,179.23 Q994.03,183.22 991.72,204.96" fill="none" stroke="#2b2a29" stroke-width="0.9" />
<path d="M971.91,176.26 Q997.76,181.57 994.17,203.7" fill="none" stroke="#2b2a29" stroke-width="0.9" />
<path d="M976.82,173.42 Q1001.55,179.94 996.58,202.48" fill="none" stroke="#2b2a29" stroke-width="0.9" />
<path d="M981.91,170.68 Q1005.4,178.31 998.95,201.29" fill="none" stroke="#2b2a29" stroke-width="0.9" />
<path d="M987.17,168.05 Q1009.32,176.69 1001.27,200.13" fill="none" stroke="#2b2a29" stroke-width="0.9" />
<path d="M992.58,165.5 Q1013.35,175.04 1003.52,199" fill="none" stroke="#2b2a29" stroke-width="0.9" />
<path d="M998.12,163.04 Q1017.48,173.35 1005.72,197.87" fill="none" stroke="#2b2a29" stroke-width="0.9" />
<use href="#frontunits" transform="translate(835.4,230) scale(0.5585) translate(-178.5,-136.3)"/>
</g>
<path d="M942,707.7 L955.6,704.1 L955.6,725.5 L942,729.3 Z" fill="#a9a9a9"/>
<line x1="1047.9" y1="671.6" x2="956.5" y2="714.5" stroke="#fff" stroke-width="4" />
<line x1="968" y1="709.1" x2="956.5" y2="714.5" stroke="#fff" stroke-width="5" stroke-linecap="round"/>
<line x1="1047.9" y1="671.6" x2="954.6" y2="715.4" stroke="#2b2a29" stroke-width="1.0" /><path d="M954.6,715.4 L963.11,707.65 L966,713.8 Z" fill="#2b2a29"/>
<text x="1052.7" y="671" font-size="18" text-anchor="start" fill="#2b2a29" style="font-family:'Liberation Sans',sans-serif;font-weight:bold" >20</text>
<line x1="776.3" y1="664.3" x2="836" y2="712.5" stroke="#2b2a29" stroke-width="1.0" /><path d="M836,712.5 L825.31,708.24 L829.58,702.94 Z" fill="#2b2a29"/>
<text x="754.9" y="662.6" font-size="18" text-anchor="start" fill="#2b2a29" style="font-family:'Liberation Sans',sans-serif;font-weight:bold" >20</text>
</g>
<clipPath id="clip3"><rect x="119.5" y="774" width="516.5" height="512"/></clipPath>
<g clip-path="url(#clip3)">
<line x1="175.4" y1="1251.5" x2="575.5" y2="835.4" stroke="#333" stroke-width="0.9" />
<path d="M244.31,877.53 L313.98,842.7 L313.98,980.95 L248.01,1014.7 L244.31,1003.81 Z" fill="#a9a9a9" stroke="#2b2a29" stroke-width="1.0" />
<path d="M140.68,976.6 L244.75,1003.38 L248.01,1004.9 L248.01,1014.7 L140.68,987.05 Z" fill="#5e5e5e" stroke="#333" stroke-width="0.8" />
<path d="M136.97,851.41 L244.31,877.53 L244.31,1003.81 L137.63,976.6 Z" fill="#f3f3f3" stroke="#2b2a29" stroke-width="1.3" />
<path d="M142.42,872.5 Q142.42,871 143.87,871.36 L236.76,894.59 Q238.22,894.95 238.22,896.45 L238.22,994.69 Q238.22,996.19 236.77,995.8 L143.86,970.46 Q142.42,970.06 142.42,968.56 Z" fill="#6e6e6e" stroke="#333" stroke-width="0.9" />
<path d="M147.86,891.24 Q147.86,886.24 152.7,887.5 L226.84,906.76 Q231.68,908.01 231.68,913.01 L231.68,977.04 Q231.68,982.04 226.83,980.84 L152.72,962.55 Q147.86,961.36 147.86,956.36 Z" fill="#e7e7e7" stroke="#555" stroke-width="0.8" />
<path d="M153.3,876.01 Q190.32,893.86 225.59,897.13 L224.06,899.74 Q190.32,897.13 155.48,880.8 Z" fill="#dcdcdc" stroke="#333" stroke-width="0.9" />
<ellipse cx="153.96" cy="865.99" rx="3.8" ry="4.4" fill="#a5a5a5" stroke="#444" stroke-width="0.7"/>
<ellipse cx="153.96" cy="865.99" rx="2.2" ry="2.8" fill="none" stroke="#999" stroke-width="0.6"/>
<ellipse cx="171.81" cy="870.35" rx="3.8" ry="4.4" fill="#555" stroke="#444" stroke-width="0.7"/>
<ellipse cx="171.81" cy="870.35" rx="2.2" ry="2.8" fill="none" stroke="#999" stroke-width="0.6"/>
<ellipse cx="189.88" cy="874.7" rx="3.8" ry="4.4" fill="#555" stroke="#444" stroke-width="0.7"/>
<ellipse cx="189.88" cy="874.7" rx="2.2" ry="2.8" fill="none" stroke="#999" stroke-width="0.6"/>
<ellipse cx="208.17" cy="879.71" rx="3.8" ry="4.4" fill="#555" stroke="#444" stroke-width="0.7"/>
<ellipse cx="208.17" cy="879.71" rx="2.2" ry="2.8" fill="none" stroke="#999" stroke-width="0.6"/>
<ellipse cx="225.59" cy="884.72" rx="3.8" ry="4.4" fill="#555" stroke="#444" stroke-width="0.7"/>
<ellipse cx="225.59" cy="884.72" rx="2.2" ry="2.8" fill="none" stroke="#999" stroke-width="0.6"/>
<line x1="137.63" y1="855.11" x2="244.31" y2="881.23" stroke="#555" stroke-width="0.7" />
<path d="M136.97,851.41 L244.31,877.53 L313.98,842.7 L204.47,813.3 Z" fill="#fafafa" stroke="#2b2a29" stroke-width="1.2" />
<path d="M203.82,813.74 L206.65,794.14 L313.98,820.92 L313.98,842.7 L311.15,841.17 Z" fill="#fdfdfd" stroke="#2b2a29" stroke-width="1.1" />
<path d="M206.65,793.27 L313.98,820.27 L313.98,823.32 L207.08,796.32 Z" fill="#9a9a9a" stroke="#333" stroke-width="0.7" />
<path d="M198.71,818.93 Q203.06,816.47 207.89,817.76 L242.04,826.93 Q246.87,828.23 242.52,830.68 L226.25,839.87 Q221.9,842.32 217.07,841.03 L182.92,831.86 Q178.09,830.57 182.45,828.11 Z" fill="none" stroke="#2b2a29" stroke-width="2.7" />
<line x1="193.07" y1="822.11" x2="189.24" y2="821.08" stroke="#2b2a29" stroke-width="2.2" />
<line x1="231.89" y1="836.68" x2="235.72" y2="837.71" stroke="#2b2a29" stroke-width="2.2" />
<ellipse cx="212.48" cy="829.4" rx="10.3" ry="5.3" fill="#6b6b6b" stroke="#444" stroke-width="0.6"/>
<path d="M213.32,830.75 L222.25,834.83 L215.92,839.31" fill="none" stroke="#2b2a29" stroke-width="2.0" />
<path d="M247.55,832.04 Q251.91,829.58 256.74,830.87 L290.88,840.04 Q295.71,841.33 291.36,843.79 L275.09,852.97 Q270.74,855.43 265.91,854.14 L231.76,844.97 Q226.93,843.68 231.29,841.22 Z" fill="none" stroke="#2b2a29" stroke-width="2.7" />
<line x1="241.92" y1="835.22" x2="238.09" y2="834.19" stroke="#2b2a29" stroke-width="2.2" />
<line x1="280.73" y1="849.79" x2="284.56" y2="850.82" stroke="#2b2a29" stroke-width="2.2" />
<ellipse cx="261.32" cy="842.5" rx="10.3" ry="5.3" fill="#6b6b6b" stroke="#444" stroke-width="0.6"/>
<path d="M262.16,843.85 L271.09,847.94 L264.76,852.42" fill="none" stroke="#2b2a29" stroke-width="2.0" />
<path d="M167.66,836.45 Q172.02,834 176.85,835.29 L210.99,844.46 Q215.82,845.75 211.47,848.21 L195.2,857.39 Q190.85,859.85 186.02,858.55 L151.87,849.39 Q147.04,848.09 151.4,845.63 Z" fill="none" stroke="#2b2a29" stroke-width="2.7" />
<line x1="162.03" y1="839.63" x2="158.19" y2="838.61" stroke="#2b2a29" stroke-width="2.2" />
<line x1="200.84" y1="854.21" x2="204.67" y2="855.24" stroke="#2b2a29" stroke-width="2.2" />
<ellipse cx="181.43" cy="846.92" rx="10.3" ry="5.3" fill="#6b6b6b" stroke="#444" stroke-width="0.6"/>
<path d="M182.27,848.27 L191.2,852.35 L184.87,856.84" fill="none" stroke="#2b2a29" stroke-width="2.0" />
<path d="M216.51,849.56 Q220.86,847.1 225.69,848.4 L259.84,857.57 Q264.67,858.86 260.31,861.32 L244.05,870.5 Q239.69,872.96 234.86,871.66 L200.72,862.5 Q195.89,861.2 200.24,858.74 Z" fill="none" stroke="#2b2a29" stroke-width="2.7" />
<line x1="210.87" y1="852.74" x2="207.04" y2="851.71" stroke="#2b2a29" stroke-width="2.2" />
<line x1="249.68" y1="867.32" x2="253.52" y2="868.35" stroke="#2b2a29" stroke-width="2.2" />
<ellipse cx="230.28" cy="860.03" rx="10.3" ry="5.3" fill="#6b6b6b" stroke="#444" stroke-width="0.6"/>
<path d="M231.12,861.38 L240.04,865.46 L233.71,869.95" fill="none" stroke="#2b2a29" stroke-width="2.0" />
<clipPath id="clip3h"><rect x="300" y="790" width="110.5" height="100"/></clipPath><g clip-path="url(#clip3h)"><path d="M352.3,854.4 C358,832 382,815 412.3,806.5 L407.5,827.5 C392,838 379,848 374,858.7 Z" fill="#fff" stroke="none"/>
<path d="M352.3,854.4 C358,832 382,815 412.3,806.5" fill="none" stroke="#2b2a29" stroke-width="1.2" />
<path d="M374,858.7 C379,848 392,838 407.5,827.5" fill="none" stroke="#2b2a29" stroke-width="1.2" />
<path d="M353.85,849.55 Q357.52,847.54 360.63,846.79" fill="none" stroke="#2b2a29" stroke-width="0.8" />
<path d="M375.23,856.35 Q373.64,851.53 371.01,849.03" fill="none" stroke="#2b2a29" stroke-width="0.8" />
<path d="M355.96,844.88 Q359.97,843.2 363.24,842.8" fill="none" stroke="#2b2a29" stroke-width="0.8" />
<path d="M376.71,854.02 Q375.58,848.88 373.11,846.06" fill="none" stroke="#2b2a29" stroke-width="0.8" />
<path d="M358.61,840.4 Q362.89,839.08 366.25,839.04" fill="none" stroke="#2b2a29" stroke-width="0.8" />
<path d="M378.42,851.71 Q377.77,846.29 375.49,843.19" fill="none" stroke="#2b2a29" stroke-width="0.8" />
<path d="M361.77,836.12 Q366.24,835.17 369.63,835.49" fill="none" stroke="#2b2a29" stroke-width="0.8" />
<path d="M380.35,849.41 Q380.19,843.76 378.12,840.39" fill="none" stroke="#2b2a29" stroke-width="0.8" />
<path d="M365.41,832.04 Q369.99,831.47 373.34,832.16" fill="none" stroke="#2b2a29" stroke-width="0.8" />
<path d="M382.49,847.12 Q382.83,841.29 381,837.67" fill="none" stroke="#2b2a29" stroke-width="0.8" />
<path d="M369.5,828.17 Q374.11,827.98 377.37,829.01" fill="none" stroke="#2b2a29" stroke-width="0.8" />
<path d="M384.82,844.84 Q385.66,838.85 384.11,835.01" fill="none" stroke="#2b2a29" stroke-width="0.8" />
<path d="M374.01,824.53 Q378.59,824.7 381.67,826.06" fill="none" stroke="#2b2a29" stroke-width="0.8" />
<path d="M387.33,842.57 Q388.69,836.46 387.45,832.41" fill="none" stroke="#2b2a29" stroke-width="0.8" />
<path d="M378.91,821.11 Q383.39,821.62 386.25,823.29" fill="none" stroke="#2b2a29" stroke-width="0.8" />
<path d="M390.01,840.3 Q391.91,834.09 391.02,829.87" fill="none" stroke="#2b2a29" stroke-width="0.8" />
<path d="M384.18,817.92 Q388.49,818.75 391.06,820.69" fill="none" stroke="#2b2a29" stroke-width="0.8" />
<path d="M392.84,838.03 Q395.31,831.76 394.81,827.38" fill="none" stroke="#2b2a29" stroke-width="0.8" />
<path d="M389.79,814.98 Q393.86,816.09 396.1,818.27" fill="none" stroke="#2b2a29" stroke-width="0.8" />
<path d="M395.82,835.76 Q398.89,829.45 398.82,824.95" fill="none" stroke="#2b2a29" stroke-width="0.8" />
<path d="M395.7,812.29 Q399.5,813.63 401.35,816.01" fill="none" stroke="#2b2a29" stroke-width="0.8" />
<path d="M398.92,833.48 Q402.64,827.16 403.06,822.58" fill="none" stroke="#2b2a29" stroke-width="0.8" />
<path d="M401.89,809.85 Q405.38,811.38 406.81,813.91" fill="none" stroke="#2b2a29" stroke-width="0.8" />
<path d="M402.14,831.19 Q406.57,824.9 407.53,820.27" fill="none" stroke="#2b2a29" stroke-width="0.8" />
<path d="M408.33,807.67 Q411.49,809.34 412.45,811.98" fill="none" stroke="#2b2a29" stroke-width="0.8" />
<path d="M405.46,828.89 Q410.68,822.65 412.22,818.03" fill="none" stroke="#2b2a29" stroke-width="0.8" /></g>
<use href="#frontunitg" transform="translate(284.6,866.3) scale(0.42) translate(-178.5,-136.3)"/>
<path d="M382.26,1096.78 L459.2,1053.71 L481.46,1058.07 L481.5,1200.81 L403,1241 L384.68,1227.75 L382.26,1225.33 Z" fill="#fff" stroke="none" stroke-width="1.2" />
<path d="M382.26,1096.78 L384.68,1097.74 L384.68,1225.33 L382.26,1225.33 Z" fill="#b4b4b4" stroke="#2b2a29" stroke-width="0.9" />
<path d="M382.26,1225.33 L384.19,1228.71 L390,1225.33 L389.52,1219.52" fill="none" stroke="#2b2a29" stroke-width="1.0" />
<line x1="387.1" y1="1121.45" x2="387.1" y2="1217.58" stroke="#333" stroke-width="1.0" />
<line x1="389.52" y1="1120.85" x2="389.52" y2="1218.19" stroke="#333" stroke-width="1.0" />
<line x1="392.9" y1="1120" x2="392.9" y2="1219.04" stroke="#333" stroke-width="1.0" />
<line x1="395.81" y1="1119.28" x2="395.81" y2="1219.76" stroke="#333" stroke-width="1.0" />
<line x1="398.71" y1="1118.55" x2="398.71" y2="1220.49" stroke="#333" stroke-width="1.0" />
<line x1="400.65" y1="1118.07" x2="400.65" y2="1220.97" stroke="#333" stroke-width="1.0" />
<line x1="388.26" y1="1121.94" x2="388.26" y2="1217.1" stroke="#b4b4b4" stroke-width="1.4" />
<line x1="394.36" y1="1121.94" x2="394.36" y2="1217.1" stroke="#b4b4b4" stroke-width="1.4" />
<line x1="399.68" y1="1121.94" x2="399.68" y2="1217.1" stroke="#b4b4b4" stroke-width="1.4" />
<path d="M387.39,1120.49 C387.9,1120 387.71,1117.91 390.48,1117.58 C393.26,1117.26 401.29,1118.95 404.03,1118.55 C406.78,1118.15 406.45,1115.73 406.94,1115.16" fill="none" stroke="#2b2a29" stroke-width="1.0" />
<rect x="402.6" y="1112" width="3.1" height="127.4" fill="#b4b4b4"/>
<line x1="402.6" y1="1112" x2="402.6" y2="1239.4" stroke="#2b2a29" stroke-width="1.2" />
<line x1="405.7" y1="1110.5" x2="405.7" y2="1237.4" stroke="#2b2a29" stroke-width="0.9" />
<rect x="415.2" y="1115.2" width="3.1" height="125.72" fill="#b4b4b4"/>
<line x1="415.2" y1="1115.2" x2="415.2" y2="1240.92" stroke="#2b2a29" stroke-width="1.2" />
<line x1="418.3" y1="1113.7" x2="418.3" y2="1238.92" stroke="#2b2a29" stroke-width="0.9" />
<rect x="428.2" y="1107.53" width="3.1" height="125.53" fill="#b4b4b4"/>
<line x1="428.2" y1="1107.53" x2="428.2" y2="1233.06" stroke="#2b2a29" stroke-width="1.2" />
<line x1="431.3" y1="1106.03" x2="431.3" y2="1231.06" stroke="#2b2a29" stroke-width="0.9" />
<rect x="441.3" y="1099.8" width="3.1" height="125.33" fill="#b4b4b4"/>
<line x1="441.3" y1="1099.8" x2="441.3" y2="1225.13" stroke="#2b2a29" stroke-width="1.2" />
<line x1="444.4" y1="1098.3" x2="444.4" y2="1223.13" stroke="#2b2a29" stroke-width="0.9" />
<rect x="454.4" y="1092.07" width="3.1" height="125.14" fill="#b4b4b4"/>
<line x1="454.4" y1="1092.07" x2="454.4" y2="1217.21" stroke="#2b2a29" stroke-width="1.2" />
<line x1="457.5" y1="1090.57" x2="457.5" y2="1215.21" stroke="#2b2a29" stroke-width="0.9" />
<rect x="467.4" y="1084.4" width="3.1" height="124.94" fill="#b4b4b4"/>
<line x1="467.4" y1="1084.4" x2="467.4" y2="1209.34" stroke="#2b2a29" stroke-width="1.2" />
<line x1="470.5" y1="1082.9" x2="470.5" y2="1207.34" stroke="#2b2a29" stroke-width="0.9" />
<rect x="476.4" y="1079.09" width="2.0" height="124.81" fill="#b4b4b4"/>
<line x1="476.4" y1="1079.09" x2="476.4" y2="1203.9" stroke="#2b2a29" stroke-width="1.2" />
<line x1="478.4" y1="1077.59" x2="478.4" y2="1201.9" stroke="#2b2a29" stroke-width="0.9" />
<line x1="418.3" y1="1236.55" x2="428.2" y2="1233.56" stroke="#2b2a29" stroke-width="1.1" />
<line x1="431.3" y1="1228.68" x2="441.3" y2="1225.63" stroke="#2b2a29" stroke-width="1.1" />
<line x1="444.4" y1="1220.76" x2="454.4" y2="1217.71" stroke="#2b2a29" stroke-width="1.1" />
<line x1="457.5" y1="1212.83" x2="467.4" y2="1209.84" stroke="#2b2a29" stroke-width="1.1" />
<line x1="470.5" y1="1204.97" x2="476.4" y2="1204.4" stroke="#2b2a29" stroke-width="1.1" />
<path d="M404.5,1103.6 L415.9,1096.6 L415.9,1110.6 L411.9,1113.6 L411.9,1116.6 L405.9,1119.6 L404.5,1117.6 Z" fill="#fff" stroke="#2b2a29" stroke-width="1.0" />
<path d="M415.9,1096.6 L421.9,1093.6 L421.9,1106.6 L415.9,1110.6 Z" fill="#fff" stroke="#2b2a29" stroke-width="1.0" />
<path d="M389.5,1098.2 L409.4,1092.4 L416.1,1096.3 L404.5,1103.6 Z" fill="#fff" stroke="#2b2a29" stroke-width="1.1" />
<path d="M389.5,1098.2 L404.5,1103.6 L416.1,1096.3 L416.1,1098.5 L404.5,1105.8 L389.5,1100.2 Z" fill="#eee" stroke="#2b2a29" stroke-width="0.9" />
<path d="M431.13,1088.6 L441.73,1081.6 L441.73,1094.69 L438.01,1097.48 L438.01,1100.27 L432.43,1103.06 L431.13,1101.2 Z" fill="#fff" stroke="#2b2a29" stroke-width="1.0" />
<path d="M441.73,1081.6 L447.31,1078.6 L447.31,1090.97 L441.73,1094.69 Z" fill="#fff" stroke="#2b2a29" stroke-width="1.0" />
<path d="M417.18,1083.2 L435.69,1077.76 L441.92,1081.39 L431.13,1088.18 Z" fill="#fff" stroke="#2b2a29" stroke-width="1.1" />
<path d="M417.18,1083.2 L431.13,1088.18 L441.92,1081.39 L441.92,1083.5 L431.13,1090.23 L417.18,1085.2 Z" fill="#eee" stroke="#2b2a29" stroke-width="0.9" />
<path d="M456.16,1073.1 L465.96,1066.1 L465.96,1078.28 L462.52,1080.86 L462.52,1083.44 L457.36,1086.02 L456.16,1084.3 Z" fill="#fff" stroke="#2b2a29" stroke-width="1.0" />
<path d="M465.96,1066.1 L471.12,1063.1 L471.12,1074.84 L465.96,1078.28 Z" fill="#fff" stroke="#2b2a29" stroke-width="1.0" />
<path d="M443.26,1067.7 L460.37,1062.63 L466.13,1065.98 L456.16,1072.26 Z" fill="#fff" stroke="#2b2a29" stroke-width="1.1" />
<path d="M443.26,1067.7 L456.16,1072.26 L466.13,1065.98 L466.13,1068 L456.16,1074.15 L443.26,1069.7 Z" fill="#eee" stroke="#2b2a29" stroke-width="0.9" />
<path d="M474.18,1063.2 L483.19,1056.2 L483.19,1067.47 L480.03,1069.84 L480.03,1072.21 L475.29,1074.58 L474.18,1073 Z" fill="#fff" stroke="#2b2a29" stroke-width="1.0" />
<path d="M483.19,1056.2 L487.93,1053.2 L487.93,1064.31 L483.19,1067.47 Z" fill="#fff" stroke="#2b2a29" stroke-width="1.0" />
<path d="M462.33,1057.8 L478.06,1053.09 L483.35,1056.17 L474.18,1061.94 Z" fill="#fff" stroke="#2b2a29" stroke-width="1.1" />
<path d="M462.33,1057.8 L474.18,1061.94 L483.35,1056.17 L483.35,1058.1 L474.18,1063.68 L462.33,1059.8 Z" fill="#eee" stroke="#2b2a29" stroke-width="0.9" />
<path d="M392.42,1102.1 L408.87,1104.52 L408.87,1115.16 L403.07,1117.58 L387.58,1117.58 Z" fill="#fff" stroke="#2b2a29" stroke-width="1.0" />
<line x1="382.26" y1="1096.78" x2="405.97" y2="1085.36" stroke="#2b2a29" stroke-width="2.6" />
<line x1="383.76" y1="1099.38" x2="403.97" y2="1087.36" stroke="#2b2a29" stroke-width="0.8" />
<line x1="418.55" y1="1077.13" x2="434.03" y2="1068.71" stroke="#2b2a29" stroke-width="2.6" />
<line x1="420.05" y1="1079.73" x2="432.03" y2="1070.71" stroke="#2b2a29" stroke-width="0.8" />
<line x1="443.91" y1="1061.94" x2="459.39" y2="1053.71" stroke="#2b2a29" stroke-width="2.6" />
<line x1="445.41" y1="1064.54" x2="457.39" y2="1055.71" stroke="#2b2a29" stroke-width="0.8" />
<circle cx="395.81" cy="1110.33" r="5.7" fill="#cfcfcf" stroke="#2b2a29" stroke-width="1.2"/>
<circle cx="395.81" cy="1110.33" r="3.7" fill="#eee" stroke="#2b2a29" stroke-width="1.0"/>
<circle cx="395.81" cy="1110.33" r="1.8" fill="#888" stroke="#2b2a29" stroke-width="0.8"/>
<circle cx="394.84" cy="1231.13" r="5.7" fill="#cfcfcf" stroke="#2b2a29" stroke-width="1.2"/>
<circle cx="394.84" cy="1231.13" r="3.7" fill="#eee" stroke="#2b2a29" stroke-width="1.0"/>
<circle cx="394.84" cy="1231.13" r="1.8" fill="#888" stroke="#2b2a29" stroke-width="0.8"/>
<path d="M408.39,1039.19 C400.39,1056.6 410.39,1070.84 410.32,1091.94 C418.89,1071.89 407.89,1056.6 408.39,1039.19 Z" fill="#a0a0a0"/>
<path d="M434.23,1023.03 C426.23,1040.98 436.23,1055.67 435.78,1077.42 C444.73,1056.75 433.73,1040.98 434.23,1023.03 Z" fill="#a0a0a0"/>
<path d="M459.97,1009.39 C451.97,1027.21 461.97,1041.79 461.33,1063.39 C470.47,1042.87 459.47,1027.21 459.97,1009.39 Z" fill="#a0a0a0"/>
<clipPath id="clip3h2"><rect x="500" y="1000" width="108" height="100"/></clipPath><g clip-path="url(#clip3h2)"><path d="M546,1079 C552,1052 575,1033 610,1029 L610,1051 C592,1058 577,1068 567,1083 Z" fill="#fff" stroke="none"/>
<path d="M546,1079 C552,1052 575,1033 610,1029" fill="none" stroke="#2b2a29" stroke-width="1.2" />
<path d="M567,1083 C577,1068 592,1058 610,1051" fill="none" stroke="#2b2a29" stroke-width="1.2" />
<path d="M547.6,1073.18 Q551.39,1071.14 554.57,1070.37" fill="none" stroke="#2b2a29" stroke-width="0.8" />
<path d="M569.29,1079.77 Q567.76,1074.99 565.12,1072.52" fill="none" stroke="#2b2a29" stroke-width="0.8" />
<path d="M549.73,1067.63 Q553.98,1065.82 557.45,1065.34" fill="none" stroke="#2b2a29" stroke-width="0.8" />
<path d="M571.73,1076.7 Q570.54,1071.4 567.92,1068.53" fill="none" stroke="#2b2a29" stroke-width="0.8" />
<path d="M552.4,1062.38 Q557.08,1060.83 560.77,1060.69" fill="none" stroke="#2b2a29" stroke-width="0.8" />
<path d="M574.33,1073.78 Q573.54,1068.04 570.99,1064.81" fill="none" stroke="#2b2a29" stroke-width="0.8" />
<path d="M555.58,1057.43 Q560.64,1056.22 564.51,1056.43" fill="none" stroke="#2b2a29" stroke-width="0.8" />
<path d="M577.07,1071.01 Q576.75,1064.92 574.31,1061.37" fill="none" stroke="#2b2a29" stroke-width="0.8" />
<path d="M559.26,1052.81 Q564.64,1051.98 568.62,1052.56" fill="none" stroke="#2b2a29" stroke-width="0.8" />
<path d="M579.96,1068.38 Q580.14,1062.03 577.85,1058.19" fill="none" stroke="#2b2a29" stroke-width="0.8" />
<path d="M563.44,1048.54 Q569.05,1048.12 573.07,1049.09" fill="none" stroke="#2b2a29" stroke-width="0.8" />
<path d="M582.98,1065.89 Q583.7,1059.37 581.6,1055.28" fill="none" stroke="#2b2a29" stroke-width="0.8" />
<path d="M568.09,1044.62 Q573.85,1044.65 577.82,1046.01" fill="none" stroke="#2b2a29" stroke-width="0.8" />
<path d="M586.14,1063.54 Q587.4,1056.93 585.54,1052.63" fill="none" stroke="#2b2a29" stroke-width="0.8" />
<path d="M573.22,1041.08 Q579.02,1041.57 582.86,1043.3" fill="none" stroke="#2b2a29" stroke-width="0.8" />
<path d="M589.43,1061.31 Q591.24,1054.7 589.66,1050.23" fill="none" stroke="#2b2a29" stroke-width="0.8" />
<path d="M578.8,1037.94 Q584.53,1038.89 588.15,1040.97" fill="none" stroke="#2b2a29" stroke-width="0.8" />
<path d="M592.84,1059.21 Q595.2,1052.66 593.95,1048.06" fill="none" stroke="#2b2a29" stroke-width="0.8" />
<path d="M584.82,1035.2 Q590.36,1036.59 593.68,1038.99" fill="none" stroke="#2b2a29" stroke-width="0.8" />
<path d="M596.37,1057.23 Q599.29,1050.81 598.42,1046.12" fill="none" stroke="#2b2a29" stroke-width="0.8" />
<path d="M591.28,1032.89 Q596.52,1034.69 599.44,1037.36" fill="none" stroke="#2b2a29" stroke-width="0.8" />
<path d="M600.02,1055.36 Q603.51,1049.14 603.07,1044.4" fill="none" stroke="#2b2a29" stroke-width="0.8" />
<path d="M598.15,1031.02 Q602.99,1033.18 605.43,1036.06" fill="none" stroke="#2b2a29" stroke-width="0.8" />
<path d="M603.77,1053.6 Q607.86,1047.62 607.93,1042.89" fill="none" stroke="#2b2a29" stroke-width="0.8" />
<path d="M605.44,1029.62 Q609.78,1032.06 611.67,1035.1" fill="none" stroke="#2b2a29" stroke-width="0.8" />
<path d="M607.64,1051.94 Q612.37,1046.27 613.02,1041.59" fill="none" stroke="#2b2a29" stroke-width="0.8" /></g>
<use href="#frontunitg" transform="translate(476.5,1092.3) scale(0.42) translate(-178.5,-136.3)"/>
<line x1="153.2" y1="806.6" x2="381.7" y2="1017.3" stroke="#fff" stroke-width="10.0" /><line x1="381.7" y1="806.6" x2="153.2" y2="1017.3" stroke="#fff" stroke-width="10.0" /><line x1="153.2" y1="806.6" x2="381.7" y2="1017.3" stroke="#8c8c8c" stroke-width="7.0" /><line x1="381.7" y1="806.6" x2="153.2" y2="1017.3" stroke="#8c8c8c" stroke-width="7.0" />
<line x1="383" y1="1053.3" x2="612.3" y2="1265" stroke="#fff" stroke-width="10.0" /><line x1="612.3" y1="1053.3" x2="383" y2="1265" stroke="#fff" stroke-width="10.0" /><line x1="383" y1="1053.3" x2="612.3" y2="1265" stroke="#8c8c8c" stroke-width="7.0" /><line x1="612.3" y1="1053.3" x2="383" y2="1265" stroke="#8c8c8c" stroke-width="7.0" />
</g>
<clipPath id="clip4a"><rect x="120" y="1288" width="262" height="370.5"/></clipPath>
<g clip-path="url(#clip4a)"><use href="#backunit" transform="translate(-160.2,1006.9) scale(0.8844)"/></g>
<clipPath id="clip4b"><rect x="393" y="1294.4" width="156.8" height="167.4"/></clipPath>
<g clip-path="url(#clip4b)"><rect x="393" y="1290" width="157" height="175" fill="url(#p4bg)"/><use href="#backunito" transform="translate(-5.2,954.3) scale(0.966)"/>
</g>
<path d="M449.93,1324.53 Q450.87,1320.65 454.86,1320.26 L573.12,1308.87 Q577.11,1308.49 576.07,1312.35 L551.3,1404.85 Q550.27,1408.72 546.29,1409.11 L430.53,1420.49 Q426.55,1420.88 427.49,1416.99 Z" fill="#fff" stroke="#2b2a29" stroke-width="1.3" />
<path d="M451.61,1326.7 Q452.34,1323.79 455.33,1323.51 L573.07,1312.54 Q576.06,1312.26 575.22,1315.14 L549.64,1402.69 Q548.8,1405.57 545.81,1405.88 L431.63,1417.84 Q428.65,1418.15 429.38,1415.24 Z" fill="#fdfdfd" stroke="#2b2a29" stroke-width="1.5" />
<path d="M458,1328.62 L569.77,1318.55 L546.07,1402.43 L434.94,1413.33 Z" fill="#fff" stroke="#2b2a29" stroke-width="1.4" />
<line x1="458" y1="1328.62" x2="569.77" y2="1318.55" stroke="#2b2a29" stroke-width="3.8" />
<line x1="458" y1="1328.62" x2="463" y2="1328.12" stroke="#2b2a29" stroke-width="4.2" />
<line x1="456.08" y1="1335.67" x2="567.79" y2="1325.54" stroke="#2b2a29" stroke-width="3.8" />
<line x1="456.08" y1="1335.67" x2="461.08" y2="1335.17" stroke="#2b2a29" stroke-width="4.2" />
<line x1="454.16" y1="1342.73" x2="565.82" y2="1332.53" stroke="#2b2a29" stroke-width="3.8" />
<line x1="454.16" y1="1342.73" x2="459.16" y2="1342.23" stroke="#2b2a29" stroke-width="4.2" />
<line x1="452.24" y1="1349.79" x2="563.84" y2="1339.52" stroke="#2b2a29" stroke-width="3.8" />
<line x1="452.24" y1="1349.79" x2="457.24" y2="1349.29" stroke="#2b2a29" stroke-width="4.2" />
<line x1="450.32" y1="1356.85" x2="561.87" y2="1346.51" stroke="#2b2a29" stroke-width="3.8" />
<line x1="450.32" y1="1356.85" x2="455.32" y2="1356.35" stroke="#2b2a29" stroke-width="4.2" />
<line x1="448.39" y1="1363.91" x2="559.89" y2="1353.5" stroke="#2b2a29" stroke-width="3.8" />
<line x1="448.39" y1="1363.91" x2="453.39" y2="1363.41" stroke="#2b2a29" stroke-width="4.2" />
<line x1="446.47" y1="1370.97" x2="557.92" y2="1360.49" stroke="#2b2a29" stroke-width="3.8" />
<line x1="446.47" y1="1370.97" x2="451.47" y2="1370.47" stroke="#2b2a29" stroke-width="4.2" />
<line x1="444.55" y1="1378.03" x2="555.95" y2="1367.48" stroke="#2b2a29" stroke-width="3.8" />
<line x1="444.55" y1="1378.03" x2="449.55" y2="1377.53" stroke="#2b2a29" stroke-width="4.2" />
<line x1="442.63" y1="1385.09" x2="553.97" y2="1374.47" stroke="#2b2a29" stroke-width="3.8" />
<line x1="442.63" y1="1385.09" x2="447.63" y2="1384.59" stroke="#2b2a29" stroke-width="4.2" />
<line x1="440.7" y1="1392.15" x2="552" y2="1381.46" stroke="#2b2a29" stroke-width="3.8" />
<line x1="440.7" y1="1392.15" x2="445.7" y2="1391.65" stroke="#2b2a29" stroke-width="4.2" />
<line x1="438.78" y1="1399.21" x2="550.02" y2="1388.45" stroke="#2b2a29" stroke-width="3.8" />
<line x1="438.78" y1="1399.21" x2="443.78" y2="1398.71" stroke="#2b2a29" stroke-width="4.2" />
<line x1="436.86" y1="1406.27" x2="548.05" y2="1395.44" stroke="#2b2a29" stroke-width="3.8" />
<line x1="436.86" y1="1406.27" x2="441.86" y2="1405.77" stroke="#2b2a29" stroke-width="4.2" />
<line x1="434.94" y1="1413.33" x2="546.07" y2="1402.43" stroke="#2b2a29" stroke-width="3.8" />
<line x1="434.94" y1="1413.33" x2="439.94" y2="1412.83" stroke="#2b2a29" stroke-width="4.2" />
<line x1="494.89" y1="1325.29" x2="474.95" y2="1409.4" stroke="#2b2a29" stroke-width="2.6" />
<line x1="531.21" y1="1322.02" x2="501.62" y2="1406.79" stroke="#2b2a29" stroke-width="3.0" />
<line x1="539.59" y1="1321.27" x2="518.29" y2="1405.15" stroke="#2b2a29" stroke-width="1.8" />
<line x1="547.41" y1="1320.56" x2="526.07" y2="1404.39" stroke="#2b2a29" stroke-width="1.2" />
<line x1="535.12" y1="1321.67" x2="513.84" y2="1405.59" stroke="#2b2a29" stroke-width="1.4" />
<path d="M456.54,1363.63 L489.04,1360.49 L485.89,1394.04 L453.39,1397.18 Z" fill="none" stroke="#2b2a29" stroke-width="1.3" />
<path d="M493.23,1360.49 L524.68,1357.34 L519.44,1390.89 L490.09,1394.04 Z" fill="none" stroke="#2b2a29" stroke-width="1.3" />
<path d="M565.57,1318.55 L571.86,1316.45 L547.75,1404.52 L542.51,1405.57 Z" fill="none" stroke="#2b2a29" stroke-width="1.6" />
<path d="M463.88,1320.65 L470.17,1319.81 L473.31,1323.16 L467.02,1324 Z" fill="#fff" stroke="#2b2a29" stroke-width="1.1" />
<path d="M550.9,1310.58 L557.19,1309.74 L560.33,1312.89 L554.04,1313.73 Z" fill="#fff" stroke="#2b2a29" stroke-width="1.1" />
<path d="M570.34,1372.88 L601.01,1383.53 L603.8,1375.5 L621.1,1395.8 L594.94,1401.01 L597.73,1392.98 L567.06,1382.32 Z" fill="#2b2a29"/>
<text x="597" y="1344.8" font-size="18" text-anchor="start" fill="#2b2a29" style="font-family:'Liberation Sans',sans-serif;font-weight:bold" >23a</text>
<line x1="596" y1="1333.2" x2="569.8" y2="1324.8" stroke="#fff" stroke-width="2.7" /><line x1="596" y1="1333.2" x2="569.8" y2="1324.8" stroke="#2b2a29" stroke-width="0.9" />
<clipPath id="clip4c"><rect x="393" y="1483" width="157.3" height="173.2"/></clipPath>
<g clip-path="url(#clip4c)"><rect x="393" y="1480" width="158" height="180" fill="url(#p4bg)"/><use href="#backunit" transform="translate(-5.2,937.2) scale(0.966)"/>
<path d="M393,1605.25 L411.45,1614.68 L425.08,1624.12 L432.42,1631.04 L430.95,1635.23 L425.08,1635.65 L427.39,1640.9 L421.94,1647.19 L411.45,1651.38 L393,1648.23 Z" fill="#fff" stroke="#2b2a29" stroke-width="1" stroke-linejoin="round"/>
<path d="M399.92,1624.12 C401.49,1623.67 406.21,1620.59 409.36,1621.39 C412.5,1622.2 416.77,1626.22 418.79,1628.94 C420.82,1631.67 422.39,1635.72 421.52,1637.75 C420.64,1639.78 416.63,1640.83 413.55,1641.11 C410.47,1641.38 405.34,1642.26 403.07,1639.43 C400.79,1636.6 400.44,1626.67 399.92,1624.12" fill="none" stroke="#2b2a29" stroke-width="0.8" />
<path d="M405.16,1627.27 C405.69,1628.14 406.91,1631.88 408.31,1632.51 C409.71,1633.14 412.68,1631.28 413.55,1631.04" fill="none" stroke="#2b2a29" stroke-width="0.8" />
<path d="M402.02,1635.65 C402.89,1635.3 405.76,1633.21 407.26,1633.56 C408.76,1633.91 410.4,1637.05 411.03,1637.75" fill="none" stroke="#2b2a29" stroke-width="0.8" />
<path d="M411.45,1628.31 L413.13,1633.56" fill="none" stroke="#2b2a29" stroke-width="0.8" />
<path d="M393,1641.94 C395.03,1642.99 402.09,1646.66 405.16,1648.23 C408.24,1649.81 410.4,1650.86 411.45,1651.38" fill="none" stroke="#2b2a29" stroke-width="0.8" />
<path d="M393,1616.78 C394.68,1617.48 399.99,1619.58 403.07,1620.98 C406.14,1622.37 410.06,1624.47 411.45,1625.17" fill="none" stroke="#2b2a29" stroke-width="0.7" />
</g>
<path d="M569.77,1565.41 C568.89,1567.5 568.19,1573.62 564.53,1577.99 C560.86,1582.36 552.99,1586.9 547.75,1591.62 C542.51,1596.34 536.74,1602.45 533.07,1606.3 C529.4,1610.14 527.13,1612.24 525.73,1614.68 C524.33,1617.13 523.99,1619.72 524.68,1620.98 C525.38,1622.23 528.18,1621.32 529.93,1622.23 C531.67,1623.14 532.2,1624.89 535.17,1626.43 C538.14,1627.96 543.56,1630.97 547.75,1631.46 C551.94,1631.95 555.79,1631.81 560.33,1629.36 C564.87,1626.92 570.99,1622.37 575.01,1616.78 C579.03,1611.19 582,1603.15 584.45,1595.81 C586.89,1588.47 588.81,1576.59 589.69,1572.75" fill="#fff" stroke="#2b2a29" stroke-width="1" stroke-linejoin="round"/>
<path d="M539.36,1610.91 C541.04,1609.86 546.63,1604.34 549.43,1604.62 C552.22,1604.9 555.09,1609.58 556.14,1612.59 C557.19,1615.59 557.47,1620.7 555.72,1622.65 C553.97,1624.61 548.66,1624.68 545.65,1624.33 C542.65,1623.98 538.73,1622.79 537.69,1620.56 C536.64,1618.32 539.08,1612.52 539.36,1610.91" fill="none" stroke="#2b2a29" stroke-width="0.8" />
<path d="M543.56,1614.68 C544.26,1615.31 546.28,1618.32 547.75,1618.46 C549.22,1618.6 551.59,1616.01 552.36,1615.52" fill="none" stroke="#2b2a29" stroke-width="0.8" />
<path d="M546.7,1621.39 C547.4,1621.04 549.67,1619.51 550.9,1619.3 C552.12,1619.09 553.52,1620 554.04,1620.14" fill="none" stroke="#2b2a29" stroke-width="0.8" />
<path d="M566.62,1579.04 C566.27,1580.44 565.75,1584.28 564.53,1587.43 C563.3,1590.57 560.16,1596.16 559.28,1597.91" fill="none" stroke="#2b2a29" stroke-width="0.8" />
<path d="M576.06,1587.43 C575.71,1589.17 575.18,1594.41 573.96,1597.91 C572.74,1601.4 569.59,1606.65 568.72,1608.39" fill="none" stroke="#2b2a29" stroke-width="0.8" />
<path d="M580.25,1600.01 C579.73,1601.4 578.33,1605.95 577.11,1608.39 C575.88,1610.84 573.61,1613.64 572.91,1614.68" fill="none" stroke="#2b2a29" stroke-width="0.8" />
<path d="M524.68,1617.2 C525.03,1616.57 525.66,1613.85 526.78,1613.43 C527.9,1613.01 530.84,1613.6 531.39,1614.68 C531.95,1615.77 530.35,1619.05 530.14,1619.93" fill="#fff" stroke="#2b2a29" stroke-width="0.9" />
<path d="M554.15,1536.28 L582.79,1539.27 L583.7,1530.57 L608.1,1547.2 L580.78,1558.42 L581.69,1549.72 L553.05,1546.72 Z" fill="#2b2a29"/>
<text x="578.8" y="1503.5" font-size="18" text-anchor="start" fill="#2b2a29" style="font-family:'Liberation Sans',sans-serif;font-weight:bold" >23b</text>
<line x1="571.9" y1="1504.2" x2="538.9" y2="1513" stroke="#fff" stroke-width="2.7" /><line x1="571.9" y1="1504.2" x2="538.9" y2="1513" stroke="#2b2a29" stroke-width="0.9" /><circle cx="538.9" cy="1513" r="2.4" fill="#2b2a29"/>
<use href="#backunit" transform="translate(364.9,649.2) scale(0.895,0.9012)"/>
<path d="M937.1,1100.97 C939.25,1100.56 945.97,1099.22 950,1098.55 C954.03,1097.88 956.45,1096.8 961.29,1096.94 C966.13,1097.07 976.08,1098.95 979.03,1099.35" fill="none" stroke="#2b2a29" stroke-width="0.8" />
<path d="M918.55,1107.42 C918.28,1107.96 916.26,1109.78 916.94,1110.65 C917.61,1111.51 920.56,1112.72 922.58,1112.58 C924.6,1112.45 927.96,1110.3 929.03,1109.84" fill="none" stroke="#2b2a29" stroke-width="0.8" />
<path d="M951.61,1105.81 C952.82,1106.61 956.99,1109.44 958.87,1110.65 C960.75,1111.85 962.23,1112.66 962.9,1113.06" fill="none" stroke="#2b2a29" stroke-width="0.8" />
<path d="M970.97,1116.29 C971.64,1116.1 973.92,1115.51 975,1115.16 C976.08,1114.81 977.02,1114.35 977.42,1114.19" fill="none" stroke="#2b2a29" stroke-width="0.8" />
<path d="M953.23,1121.94 C953.76,1123.01 955.38,1126.51 956.45,1128.39 C957.53,1130.27 955.11,1134.03 959.68,1133.23 C964.25,1132.42 979.84,1125.16 983.87,1123.55" fill="none" stroke="#2b2a29" stroke-width="0.8" />
<path d="M941.94,1160.97 L960.48,1159.52 L963.71,1181.61 L945.97,1183.55 Z" fill="#fff" stroke="none" stroke-width="1.2" />
<line x1="941.94" y1="1161.97" x2="960.48" y2="1160.52" stroke="#444" stroke-width="0.75" />
<line x1="942.3" y1="1164.02" x2="960.78" y2="1162.52" stroke="#444" stroke-width="0.75" />
<line x1="942.67" y1="1166.07" x2="961.07" y2="1164.53" stroke="#444" stroke-width="0.75" />
<line x1="943.04" y1="1168.13" x2="961.36" y2="1166.54" stroke="#444" stroke-width="0.75" />
<line x1="943.4" y1="1170.18" x2="961.66" y2="1168.55" stroke="#444" stroke-width="0.75" />
<line x1="943.77" y1="1172.23" x2="961.95" y2="1170.56" stroke="#444" stroke-width="0.75" />
<line x1="944.13" y1="1174.28" x2="962.24" y2="1172.57" stroke="#444" stroke-width="0.75" />
<line x1="944.5" y1="1176.34" x2="962.54" y2="1174.58" stroke="#444" stroke-width="0.75" />
<line x1="944.87" y1="1178.39" x2="962.83" y2="1176.59" stroke="#444" stroke-width="0.75" />
<line x1="945.23" y1="1180.44" x2="963.12" y2="1178.6" stroke="#444" stroke-width="0.75" />
<line x1="945.6" y1="1182.5" x2="963.42" y2="1180.6" stroke="#444" stroke-width="0.75" />
<line x1="945.97" y1="1184.55" x2="963.71" y2="1182.61" stroke="#444" stroke-width="0.75" />
<path d="M894.35,1077.58 C898.25,1079.06 910.62,1082.82 917.74,1086.45 C924.87,1090.08 931.72,1093.71 937.1,1099.35 C942.47,1105 946.18,1113.06 950,1120.32 C953.82,1127.58 958.33,1139.14 960,1142.9 L939.68,1143.71 C938.98,1141.42 937.53,1134.7 935.48,1130 C933.44,1125.3 931.18,1120.59 927.42,1115.48 C923.66,1110.38 918.82,1103.66 912.9,1099.35 C906.99,1095.05 895.43,1091.29 891.94,1089.68 Z" fill="#fff" stroke="#2b2a29" stroke-width="1.2" />
<path d="M893.63,1081.21 C897.41,1082.73 909.53,1086.49 916.29,1090.32 C923.05,1094.15 929.3,1098.71 934.19,1104.19 C939.09,1109.68 942.36,1116.73 945.65,1123.23 C948.93,1129.72 952.53,1139.83 953.9,1143.15" fill="none" stroke="#2b2a29" stroke-width="0.8" />
<path d="M893.15,1083.63 C896.84,1085.17 908.8,1088.94 915.32,1092.9 C921.84,1096.87 927.69,1102.04 932.26,1107.42 C936.83,1112.8 939.81,1119.18 942.74,1125.16 C945.67,1131.14 948.66,1140.28 949.84,1143.31" fill="none" stroke="#2b2a29" stroke-width="0.8" />
<path d="M892.66,1086.05 C896.28,1087.62 908.08,1091.38 914.35,1095.48 C920.63,1099.58 926.08,1105.38 930.32,1110.65 C934.57,1115.91 937.26,1121.63 939.84,1127.1 C942.41,1132.57 944.78,1140.74 945.77,1143.47" fill="none" stroke="#2b2a29" stroke-width="0.8" />
<path d="M917.93,1087.62 Q917.74,1086.13 919.07,1086.83 L935.77,1095.75 Q937.1,1096.45 936.88,1097.94 L936.5,1100.61 Q936.29,1102.1 934.97,1101.39 L919.87,1093.29 Q918.55,1092.58 918.36,1091.09 Z" fill="#fff" stroke="#2b2a29" stroke-width="1.1" />
<path d="M938.71,1101.77 C939.78,1101.64 942.47,1101.37 945.16,1100.97 C947.85,1100.56 952.55,1099.22 954.84,1099.35 C957.12,1099.49 958.87,1100.3 958.87,1101.77 C958.87,1103.25 957.12,1106.21 954.84,1108.23 C952.55,1110.24 948.12,1113.33 945.16,1113.87 C942.2,1114.41 938.98,1112.26 937.1,1111.45 C935.22,1110.65 933.6,1109.76 933.87,1109.03 C934.14,1108.31 936.83,1107.63 938.71,1107.1 C940.59,1106.56 944.09,1106.02 945.16,1105.81" fill="#fff" stroke="#2b2a29" stroke-width="0.9" />
<ellipse cx="931.45" cy="1122.74" rx="3.6" ry="3.1" fill="#fff" stroke="#2b2a29" stroke-width="0.9"/>
<ellipse cx="932.05" cy="1122.74" rx="1.7" ry="1.4" fill="none" stroke="#2b2a29" stroke-width="0.7"/>
<ellipse cx="934.68" cy="1130" rx="3.6" ry="3.1" fill="#fff" stroke="#2b2a29" stroke-width="0.9"/>
<ellipse cx="935.28" cy="1130" rx="1.7" ry="1.4" fill="none" stroke="#2b2a29" stroke-width="0.7"/>
<ellipse cx="937.9" cy="1136.45" rx="3.6" ry="3.1" fill="#fff" stroke="#2b2a29" stroke-width="0.9"/>
<ellipse cx="938.5" cy="1136.45" rx="1.7" ry="1.4" fill="none" stroke="#2b2a29" stroke-width="0.7"/>
<path d="M939.21,1144.9 Q939.03,1142.9 941.03,1142.87 L958.48,1142.61 Q960.48,1142.58 960.62,1144.58 L961.48,1157.04 Q961.61,1159.03 959.62,1159.22 L942.64,1160.78 Q940.65,1160.97 940.47,1158.98 Z" fill="#fff" stroke="#2b2a29" stroke-width="1.2" />
<path d="M939.19,1144.84 C940.99,1145.27 946.48,1147.47 950,1147.42 C953.52,1147.37 958.6,1145 960.32,1144.52" fill="none" stroke="#2b2a29" stroke-width="0.8" />
<path d="M816.73,1053.28 Q816.94,1051.29 818.83,1051.93 L893.41,1076.94 Q894.35,1077.26 894.17,1078.24 L892.12,1089.02 Q891.94,1090 890.99,1089.68 L823,1066.76 Q820.16,1065.81 818.63,1063.23 L817.66,1061.61 Q816.13,1059.03 816.44,1056.05 Z" fill="#fff" stroke="#2b2a29" stroke-width="1.3" />
<path d="M817.74,1052.58 C822.85,1054.6 839.92,1061.4 848.39,1064.68 C856.85,1067.96 864.65,1070.24 868.55,1072.26 C872.45,1074.27 871.77,1075.43 871.77,1076.77 C871.77,1078.12 869.09,1079.73 868.55,1080.32" fill="none" stroke="#2b2a29" stroke-width="0.9" />
<line x1="894.84" y1="1077.74" x2="892.26" y2="1089.68" stroke="#2b2a29" stroke-width="1.6" />
<path d="M987.17,1228.95 C988.3,1227.54 991.12,1223.02 993.95,1220.48 C996.77,1217.94 999.87,1215.83 1004.11,1213.71 C1008.34,1211.59 1016.81,1208.77 1019.35,1207.78" fill="none" stroke="#2b2a29" stroke-width="0.8" />
<path d="M1005.8,1226.41 C1006.93,1226.69 1010.03,1228.24 1012.57,1228.1 C1015.11,1227.96 1018.78,1226.69 1021.04,1225.56 C1023.3,1224.43 1025.28,1222.03 1026.12,1221.33" fill="none" stroke="#2b2a29" stroke-width="0.8" />
<path d="M1032.05,1227.26 L1037.13,1225.56" fill="none" stroke="#2b2a29" stroke-width="0.8" />
<path d="M1036.28,1225.9 C1034.87,1227.82 1030.5,1234.09 1027.82,1237.42 C1025.13,1240.75 1023.02,1245.6 1020.19,1245.88 C1017.37,1246.17 1012.43,1240.24 1010.88,1239.11" fill="none" stroke="#2b2a29" stroke-width="0.8" />
<path d="M971.08,1243.34 C971.22,1244.19 971.08,1247.72 971.93,1248.43 C972.78,1249.13 975.04,1248.28 976.16,1247.58 C977.29,1246.87 978.28,1244.76 978.7,1244.19" fill="none" stroke="#2b2a29" stroke-width="0.8" />
<path d="M1019.35,1280.6 L1035.44,1269.59 L1048.48,1286.87 L1034.93,1297.03 Z" fill="#fff" stroke="none" stroke-width="1.2" />
<line x1="1019.35" y1="1280.6" x2="1035.44" y2="1269.59" stroke="#444" stroke-width="0.75" />
<line x1="1020.76" y1="1282.09" x2="1036.62" y2="1271.16" stroke="#444" stroke-width="0.75" />
<line x1="1022.18" y1="1283.59" x2="1037.81" y2="1272.73" stroke="#444" stroke-width="0.75" />
<line x1="1023.6" y1="1285.08" x2="1038.99" y2="1274.3" stroke="#444" stroke-width="0.75" />
<line x1="1025.01" y1="1286.57" x2="1040.18" y2="1275.87" stroke="#444" stroke-width="0.75" />
<line x1="1026.43" y1="1288.07" x2="1041.36" y2="1277.45" stroke="#444" stroke-width="0.75" />
<line x1="1027.85" y1="1289.56" x2="1042.55" y2="1279.02" stroke="#444" stroke-width="0.75" />
<line x1="1029.26" y1="1291.05" x2="1043.73" y2="1280.59" stroke="#444" stroke-width="0.75" />
<line x1="1030.68" y1="1292.55" x2="1044.92" y2="1282.16" stroke="#444" stroke-width="0.75" />
<line x1="1032.1" y1="1294.04" x2="1046.1" y2="1283.73" stroke="#444" stroke-width="0.75" />
<line x1="1033.51" y1="1295.53" x2="1047.29" y2="1285.3" stroke="#444" stroke-width="0.75" />
<line x1="1034.93" y1="1297.03" x2="1048.48" y2="1286.87" stroke="#444" stroke-width="0.75" />
<path d="M934.67,1230.64 C938.91,1229.94 952.17,1226.83 960.08,1226.41 C967.98,1225.99 975.04,1225.99 982.09,1228.1 C989.15,1230.22 995.36,1234.59 1002.41,1239.11 C1009.47,1243.63 1020.76,1252.52 1024.43,1255.2 L1007.83,1264.85 C1005.8,1263.38 1000.49,1259.49 995.64,1256.05 C990.78,1252.6 984.35,1246.87 978.7,1244.19 C973.06,1241.51 968.54,1240.24 961.77,1239.96 C955,1239.68 942.01,1242.07 938.06,1242.5 Z" fill="#fff" stroke="#2b2a29" stroke-width="1.2" />
<path d="M935.69,1234.2 C939.84,1233.58 953.02,1230.69 960.58,1230.47 C968.15,1230.26 974.44,1230.64 981.08,1232.93 C987.71,1235.22 993.99,1240 1000.38,1244.19 C1006.78,1248.39 1016.27,1255.78 1019.45,1258.09" fill="none" stroke="#2b2a29" stroke-width="0.8" />
<path d="M936.37,1236.57 C940.46,1236.01 953.58,1233.25 960.92,1233.18 C968.26,1233.11 974.05,1233.75 980.4,1236.15 C986.75,1238.55 993.07,1243.6 999.03,1247.58 C1004.98,1251.56 1013.28,1257.95 1016.13,1260.03" fill="none" stroke="#2b2a29" stroke-width="0.8" />
<path d="M937.04,1238.94 C941.08,1238.43 954.15,1235.82 961.26,1235.89 C968.37,1235.96 973.65,1236.85 979.72,1239.36 C985.79,1241.88 992.16,1247.2 997.67,1250.97 C1003.19,1254.73 1010.29,1260.12 1012.81,1261.96" fill="none" stroke="#2b2a29" stroke-width="0.8" />
<path d="M961.35,1226.74 Q959.74,1225.56 961.74,1225.59 L979.24,1225.87 Q981.24,1225.9 981.91,1227.79 L982.61,1229.77 Q983.28,1231.66 981.28,1231.71 L970.54,1231.95 Q968.54,1232 966.93,1230.82 Z" fill="#fff" stroke="#2b2a29" stroke-width="1.1" />
<path d="M993.1,1222.18 C993.8,1221.61 995.36,1218.65 997.33,1218.79 C999.31,1218.93 1004.67,1220.48 1004.95,1223.02 C1005.24,1225.56 1001.14,1231.07 999.03,1234.03 C996.91,1236.99 994.51,1239.96 992.25,1240.8 C989.99,1241.65 986.18,1240.18 985.48,1239.11 C984.77,1238.04 986.61,1235.78 988.02,1234.37 C989.43,1232.96 992.96,1231.26 993.95,1230.64" fill="#fff" stroke="#2b2a29" stroke-width="0.9" />
<ellipse cx="989.71" cy="1251.81" rx="3.7" ry="3.2" fill="#fff" stroke="#2b2a29" stroke-width="0.9"/>
<ellipse cx="990.21" cy="1251.81" rx="1.7" ry="1.4" fill="none" stroke="#2b2a29" stroke-width="0.7"/>
<ellipse cx="995.64" cy="1256.05" rx="3.7" ry="3.2" fill="#fff" stroke="#2b2a29" stroke-width="0.9"/>
<ellipse cx="996.14" cy="1256.05" rx="1.7" ry="1.4" fill="none" stroke="#2b2a29" stroke-width="0.7"/>
<ellipse cx="1002.41" cy="1260.28" rx="3.7" ry="3.2" fill="#fff" stroke="#2b2a29" stroke-width="0.9"/>
<ellipse cx="1002.91" cy="1260.28" rx="1.7" ry="1.4" fill="none" stroke="#2b2a29" stroke-width="0.7"/>
<path d="M1008.29,1266.16 Q1007.15,1264.51 1008.9,1263.54 L1022.68,1255.84 Q1024.43,1254.86 1025.67,1256.43 L1034.36,1267.35 Q1035.61,1268.92 1033.92,1270 L1019.67,1279.18 Q1017.99,1280.26 1016.86,1278.61 Z" fill="#fff" stroke="#2b2a29" stroke-width="1.2" />
<path d="M1008.34,1266.55 C1009.89,1266.21 1014.8,1266.09 1017.65,1264.51 C1020.51,1262.93 1024.15,1258.3 1025.44,1257.06" fill="none" stroke="#2b2a29" stroke-width="0.8" />
<path d="M855.33,1249.22 Q855.08,1247.24 857.04,1246.82 L933.7,1230.51 Q934.67,1230.3 934.93,1231.27 L937.8,1241.87 Q938.06,1242.84 937.08,1243.03 L865.64,1257.48 Q862.7,1258.08 860.53,1256.01 L857.76,1253.37 Q855.59,1251.3 855.33,1249.27 Z" fill="#fff" stroke="#2b2a29" stroke-width="1.3" />
<path d="M857.62,1246.73 C862,1245.88 874.84,1242.86 883.87,1241.65 C892.9,1240.44 906.39,1239.36 911.81,1239.45 C917.23,1239.53 916.1,1241.2 916.38,1242.16 C916.67,1243.12 913.99,1244.7 913.51,1245.21" fill="none" stroke="#2b2a29" stroke-width="0.9" />
<line x1="935.18" y1="1230.64" x2="938.4" y2="1242.5" stroke="#2b2a29" stroke-width="1.6" />
<path d="M899.14,894.15 L899.14,942.05 L1016.28,1106.43 L1145.82,1106.43" fill="none" stroke="#333" stroke-width="0.9" />
<path d="M1031.52,933.34 C1032.97,934.97 1038.41,940.6 1040.23,943.14 C1042.04,945.68 1042.04,947.68 1042.41,948.58" fill="none" stroke="#2b2a29" stroke-width="0.8" />
<path d="M1042.41,935.52 C1043.31,936.79 1046.22,941.51 1047.85,943.14 C1049.48,944.77 1051.48,944.95 1052.2,945.32" fill="none" stroke="#2b2a29" stroke-width="0.8" />
<path d="M1052.2,922.46 C1053.84,924.45 1058.19,931.16 1062,934.43 C1065.81,937.7 1072.52,939.69 1075.06,942.05 C1077.6,944.41 1076.88,947.49 1077.24,948.58" fill="none" stroke="#2b2a29" stroke-width="0.8" />
<path d="M1058.74,937.04 C1060.01,938.42 1064.18,943.76 1066.36,945.32 C1068.53,946.88 1071.44,946.95 1071.8,946.41 C1072.16,945.86 1069.08,942.78 1068.53,942.05" fill="none" stroke="#2b2a29" stroke-width="0.8" />
<path d="M1038.58,947.91 Q1042.41,942.05 1049.11,944.05 L1136.11,969.96 Q1144.74,972.53 1140.54,980.5 L1081.87,1091.94 Q1077.68,1099.9 1070.11,1095.03 L986.24,1040.99 Q980.35,1037.2 984.18,1031.33 Z" fill="#fff" stroke="#2b2a29" stroke-width="1.6" />
<path d="M1040.16,949.89 Q1043.44,944.86 1049.19,946.58 L1133.58,971.71 Q1141.25,974 1137.52,981.08 L1080.5,1089.38 Q1076.77,1096.46 1070.05,1092.13 L988.73,1039.74 Q983.68,1036.49 986.96,1031.46 Z" fill="#fff" stroke="#2b2a29" stroke-width="0.9" />
<path d="M1043.91,953.52 Q1045.02,951.85 1046.94,952.41 L1134.54,977.85 Q1136.46,978.41 1135.49,980.16 L1076.47,1086.18 Q1075.5,1087.93 1073.77,1086.92 L990.14,1038.2 Q988.41,1037.2 989.52,1035.53 Z" fill="#cbcbcb" stroke="#2b2a29" stroke-width="1.1" />
<line x1="1046.57" y1="956.11" x2="1130.55" y2="981.37" stroke="#333" stroke-width="0.8" />
<line x1="1044.47" y1="959.3" x2="1128.3" y2="985.39" stroke="#333" stroke-width="0.8" />
<line x1="1042.37" y1="962.5" x2="1126.05" y2="989.41" stroke="#333" stroke-width="0.8" />
<line x1="1040.26" y1="965.7" x2="1123.8" y2="993.43" stroke="#333" stroke-width="0.8" />
<line x1="1038.16" y1="968.9" x2="1121.55" y2="997.45" stroke="#333" stroke-width="0.8" />
<line x1="1036.06" y1="972.09" x2="1119.3" y2="1001.47" stroke="#333" stroke-width="0.8" />
<line x1="1033.95" y1="975.29" x2="1117.04" y2="1005.49" stroke="#333" stroke-width="0.8" />
<line x1="1031.85" y1="978.49" x2="1114.79" y2="1009.51" stroke="#333" stroke-width="0.8" />
<line x1="1029.75" y1="981.68" x2="1112.54" y2="1013.53" stroke="#333" stroke-width="0.8" />
<line x1="1027.65" y1="984.88" x2="1110.29" y2="1017.55" stroke="#333" stroke-width="0.8" />
<line x1="1025.54" y1="988.08" x2="1108.04" y2="1021.57" stroke="#333" stroke-width="0.8" />
<line x1="1023.44" y1="991.27" x2="1105.79" y2="1025.59" stroke="#333" stroke-width="0.8" />
<line x1="1021.34" y1="994.47" x2="1103.54" y2="1029.61" stroke="#333" stroke-width="0.8" />
<line x1="1019.23" y1="997.67" x2="1101.28" y2="1033.63" stroke="#333" stroke-width="0.8" />
<line x1="1017.13" y1="1000.86" x2="1099.03" y2="1037.65" stroke="#333" stroke-width="0.8" />
<line x1="1015.03" y1="1004.06" x2="1096.78" y2="1041.67" stroke="#333" stroke-width="0.8" />
<line x1="1012.92" y1="1007.26" x2="1094.53" y2="1045.69" stroke="#333" stroke-width="0.8" />
<line x1="1010.82" y1="1010.45" x2="1092.28" y2="1049.71" stroke="#333" stroke-width="0.8" />
<line x1="1008.72" y1="1013.65" x2="1090.03" y2="1053.73" stroke="#333" stroke-width="0.8" />
<line x1="1006.62" y1="1016.85" x2="1087.78" y2="1057.75" stroke="#333" stroke-width="0.8" />
<line x1="1004.51" y1="1020.04" x2="1085.52" y2="1061.77" stroke="#333" stroke-width="0.8" />
<line x1="1002.41" y1="1023.24" x2="1083.27" y2="1065.79" stroke="#333" stroke-width="0.8" />
<line x1="1000.31" y1="1026.44" x2="1081.02" y2="1069.81" stroke="#333" stroke-width="0.8" />
<line x1="998.2" y1="1029.63" x2="1078.77" y2="1073.84" stroke="#333" stroke-width="0.8" />
<line x1="996.1" y1="1032.83" x2="1076.52" y2="1077.86" stroke="#333" stroke-width="0.8" />
<line x1="994" y1="1036.03" x2="1074.27" y2="1081.88" stroke="#333" stroke-width="0.8" />
<line x1="1016.71" y1="994.52" x2="1105.98" y2="1033.17" stroke="#fff" stroke-width="3.2" />
<line x1="1016.71" y1="992.92" x2="1105.98" y2="1031.57" stroke="#444" stroke-width="0.6" />
<line x1="1016.71" y1="996.12" x2="1105.98" y2="1034.77" stroke="#444" stroke-width="0.6" />
<line x1="1073.37" y1="960.08" x2="1015.41" y2="1052.92" stroke="#fff" stroke-width="3.4" />
<line x1="1071.67" y1="960.08" x2="1013.71" y2="1052.92" stroke="#444" stroke-width="0.6" />
<line x1="1075.07" y1="960.08" x2="1017.11" y2="1052.92" stroke="#444" stroke-width="0.6" />
<line x1="1105.37" y1="969.38" x2="1045.89" y2="1070.68" stroke="#fff" stroke-width="3.4" />
<line x1="1103.67" y1="969.38" x2="1044.19" y2="1070.68" stroke="#444" stroke-width="0.6" />
<line x1="1107.07" y1="969.38" x2="1047.59" y2="1070.68" stroke="#444" stroke-width="0.6" />
<rect x="1028.23" y="958.39" width="4.4" height="5.2" fill="#fff" stroke="#2b2a29" stroke-width="0.9" transform="rotate(28 1030.43 960.99)"/>
<rect x="986.86" y="1021.1" width="4.4" height="5.2" fill="#fff" stroke="#2b2a29" stroke-width="0.9" transform="rotate(28 989.06 1023.7)"/>
<rect x="993.4" y="1048.31" width="4.4" height="5.2" fill="#fff" stroke="#2b2a29" stroke-width="0.9" transform="rotate(28 995.6 1050.91)"/>
<rect x="1050" y="1078.79" width="4.4" height="5.2" fill="#fff" stroke="#2b2a29" stroke-width="0.9" transform="rotate(28 1052.2 1081.39)"/>
<rect x="1084.84" y="1075.09" width="4.4" height="5.2" fill="#fff" stroke="#2b2a29" stroke-width="0.9" transform="rotate(28 1087.04 1077.69)"/>
<rect x="1129.47" y="992.79" width="4.4" height="5.2" fill="#fff" stroke="#2b2a29" stroke-width="0.9" transform="rotate(28 1131.67 995.39)"/>
<path d="M907.42,894.15 C909.6,894.33 916.49,894.62 920.48,895.24 C924.47,895.86 929.01,896.76 931.37,897.85 C933.73,898.94 934.09,901.12 934.63,901.77" fill="none" stroke="#2b2a29" stroke-width="0.8" />
<path d="M908.51,900.68 C909.41,900.87 911.95,900.32 913.95,901.77 C915.95,903.22 917.76,907.03 920.48,909.39 C923.2,911.75 927.38,913.57 930.28,915.92 C933.18,918.28 935.54,921.73 937.9,923.54 C940.26,925.36 944.61,926.16 944.43,926.81 C944.25,927.46 938.08,927.35 936.81,927.46" fill="none" stroke="#2b2a29" stroke-width="0.8" />
<path d="M907.42,926.81 C908.87,926.27 913.22,923.73 916.13,923.54 C919.03,923.36 921.93,925.54 924.84,925.72 C927.74,925.9 932.09,924.81 933.54,924.63" fill="none" stroke="#2b2a29" stroke-width="0.8" />
<path d="M908.51,920.28 C910.14,920.46 915.04,921.55 918.3,921.37 C921.57,921.19 926.47,919.55 928.1,919.19" fill="none" stroke="#2b2a29" stroke-width="0.8" />
<path d="M913.95,902.86 L924.84,901.77 L936.81,901.77 L955.32,930.51 L924.84,910.48 Z" fill="#fff" stroke="#2b2a29" stroke-width="0.9" />
<path d="M938.43,904.29 Q936.81,901.77 939.31,903.44 L951.48,911.55 Q953.14,912.66 954.76,913.83 L971.11,925.64 Q972.73,926.81 974.32,928.03 L1041.61,979.98 Q1042.41,980.59 1041.62,981.21 L1033.39,987.8 Q1032.61,988.43 1031.81,987.83 L966.72,939.54 Q965.11,938.35 963.55,937.1 L956.88,931.76 Q955.32,930.51 954.23,928.83 Z" fill="#fff" stroke="#2b2a29" stroke-width="1.2" />
<line x1="973.17" y1="926.81" x2="964.68" y2="938.35" stroke="#2b2a29" stroke-width="1.0" />
<path d="M932,905.85 Q931.37,903.95 933.22,903.21 L934.95,902.52 Q936.81,901.77 938.55,902.76 L950.31,909.49 Q952.05,910.48 950.71,911.96 L949.04,913.79 Q947.7,915.27 945.8,914.63 L935.44,911.12 Q933.54,910.48 932.91,908.58 Z" fill="#fff" stroke="#2b2a29" stroke-width="1.0" />
<path d="M985.8,950.76 Q986.89,948.58 989.61,948.91 L989.61,948.91 Q992.33,949.24 994.75,951.01 L1037.81,982.73 Q1040.23,984.51 1037.38,985.46 L1036.54,985.74 Q1033.7,986.68 1031.23,984.98 L987.18,954.64 Q984.71,952.94 985.8,950.76 Z" fill="#fff" stroke="#2b2a29" stroke-width="0.9" />
<line x1="935.72" y1="904.38" x2="934.32" y2="906.98" stroke="#2b2a29" stroke-width="0.7" />
<line x1="937.9" y1="905.69" x2="936.5" y2="908.29" stroke="#2b2a29" stroke-width="0.7" />
<line x1="940.08" y1="907" x2="938.68" y2="909.6" stroke="#2b2a29" stroke-width="0.7" />
<line x1="942.25" y1="908.3" x2="940.85" y2="910.9" stroke="#2b2a29" stroke-width="0.7" />
<line x1="944.43" y1="909.61" x2="943.03" y2="912.21" stroke="#2b2a29" stroke-width="0.7" />
<path d="M925.92,908.3 C926.65,907.03 929.19,902.32 930.28,900.68 C931.37,899.05 932.09,898.87 932.46,898.51" fill="none" stroke="#2b2a29" stroke-width="1.3" />
<text x="1113.8" y="907.2" font-size="18" text-anchor="start" fill="#2b2a29" style="font-family:'Liberation Sans',sans-serif;font-weight:bold" >23a</text>
<text x="1113.2" y="930.5" font-size="18" text-anchor="start" fill="#2b2a29" style="font-family:'Liberation Sans',sans-serif;font-weight:bold" >23b</text>
<line x1="1118.2" y1="938.8" x2="1106" y2="998" stroke="#fff" stroke-width="2.7" /><line x1="1118.2" y1="938.8" x2="1106" y2="998" stroke="#2b2a29" stroke-width="0.9" /><circle cx="1106" cy="998" r="2.4" fill="#2b2a29"/>
<clipPath id="clip6"><rect x="640" y="1368.5" width="245" height="300"/></clipPath>
<g clip-path="url(#clip6)"><use href="#backunit" transform="translate(356.5,960.7) scale(0.908)"/></g>
<path d="M814.3,1628.1 L912,1473.9 L927.3,1481.1 Z" fill="#fff"/>
<line x1="814.3" y1="1628.1" x2="912" y2="1473.9" stroke="#2b2a29" stroke-width="0.9" />
<line x1="814.8" y1="1629" x2="927.3" y2="1481.1" stroke="#2b2a29" stroke-width="1.9" />
<ellipse cx="805.2" cy="1631.4" rx="26.4" ry="19.2" fill="none" stroke="#2b2a29" stroke-width="0.9"/>
<ellipse cx="1054.8" cy="1528.5" rx="66.5" ry="53.2" fill="#fff" stroke="#2b2a29" stroke-width="0.9"/>
<path d="M1039.84,1628.55 C1041.59,1629.01 1047.55,1628.47 1050.32,1631.29 C1053.09,1634.11 1054.78,1641.91 1056.45,1645.48 C1058.12,1649.06 1065.65,1651.53 1060.32,1652.74 C1055,1653.95 1030,1654.17 1024.52,1652.74 C1019.03,1651.32 1025.86,1647.07 1027.42,1644.19 C1028.98,1641.32 1031.8,1638.09 1033.87,1635.48 C1035.94,1632.88 1038.84,1629.7 1039.84,1628.55" fill="#b7b7b7"/>
<line x1="1004.35" y1="1615.65" x2="1022.9" y2="1611.61" stroke="#333" stroke-width="0.9" />
<line x1="1043.87" y1="1606.77" x2="1097.1" y2="1595.16" stroke="#333" stroke-width="0.9" />
<line x1="1003.55" y1="1627.74" x2="1029.35" y2="1622.1" stroke="#333" stroke-width="0.9" />
<line x1="1050.32" y1="1617.26" x2="1111.61" y2="1603.55" stroke="#333" stroke-width="0.9" />
<line x1="1005.16" y1="1640.65" x2="1124.52" y2="1614.84" stroke="#333" stroke-width="0.9" />
<line x1="1019.68" y1="1651.94" x2="1135.81" y2="1625.32" stroke="#333" stroke-width="0.9" />
<line x1="1071.29" y1="1652.74" x2="1147.1" y2="1633.87" stroke="#333" stroke-width="0.9" />
<line x1="1002.74" y1="1642.26" x2="1009.19" y2="1652.26" stroke="#333" stroke-width="0.9" />
<line x1="1003.23" y1="1624.84" x2="1026.45" y2="1651.94" stroke="#333" stroke-width="0.9" />
<line x1="1022.1" y1="1615.65" x2="1053.55" y2="1651.94" stroke="#333" stroke-width="0.9" />
<line x1="1045.48" y1="1614.84" x2="1079.35" y2="1645.48" stroke="#333" stroke-width="0.9" />
<line x1="1064.84" y1="1604.35" x2="1103.55" y2="1640.65" stroke="#333" stroke-width="0.9" />
<line x1="1086.61" y1="1598.71" x2="1125.32" y2="1635" stroke="#333" stroke-width="0.9" />
<line x1="1110.81" y1="1600.32" x2="1147.9" y2="1633.87" stroke="#333" stroke-width="0.9" />
<path d="M1020.48,1529.68 C1020.75,1527.2 1020.35,1519.41 1022.1,1514.84 C1023.84,1510.27 1026.8,1505.32 1030.97,1502.26 C1035.13,1499.19 1042.26,1496.77 1047.1,1496.45 C1051.94,1496.13 1056.24,1497.8 1060,1500.32 C1063.76,1502.85 1067.8,1507.8 1069.68,1511.61 C1071.56,1515.43 1071.02,1521.29 1071.29,1523.23" fill="none" stroke="#2b2a29" stroke-width="1.9" />
<path d="M996.29,1543.06 C997.37,1542.8 1000.99,1542.77 1002.74,1541.45 C1004.49,1540.13 1004.76,1536.64 1006.77,1535.16 C1008.79,1533.68 1011.48,1533.49 1014.84,1532.58 C1018.2,1531.67 1024.92,1530.16 1026.94,1529.68" fill="none" stroke="#2b2a29" stroke-width="1.6" />
<path d="M1051.94,1520 L1056.77,1517.42 L1066.45,1514.84 L1071.29,1523.71 L1067.26,1524.19 L1058.39,1518.39" fill="none" stroke="#2b2a29" stroke-width="1.4" />
<line x1="1055.16" y1="1525.48" x2="1071.29" y2="1523.87" stroke="#2b2a29" stroke-width="1.6" />
<line x1="1071.29" y1="1524.52" x2="1114.84" y2="1513.23" stroke="#2b2a29" stroke-width="1.9" />
<line x1="1048.71" y1="1529.35" x2="1061.61" y2="1536.13" stroke="#2b2a29" stroke-width="0.9" />
<g transform="translate(1026.94,1515.65) rotate(32.56)"><path d="M0,-7.359999999999999 L24.88,-5.44 L24.88,5.44 L0,7.359999999999999 Z" fill="#fff" stroke="#2b2a29" stroke-width="1.2"/><ellipse cx="0" cy="0" rx="2.688" ry="7.359999999999999" fill="#ddd" stroke="#2b2a29" stroke-width="1.1"/><path d="M0.8,-7.168000000000001 Q4,0 0.8,7.168000000000001" fill="none" stroke="#2b2a29" stroke-width="1.35"/><path d="M2.85,-7.168000000000001 Q6.05,0 2.85,7.168000000000001" fill="none" stroke="#2b2a29" stroke-width="1.35"/><path d="M4.9,-7.168000000000001 Q8.1,0 4.9,7.168000000000001" fill="none" stroke="#2b2a29" stroke-width="1.35"/><path d="M6.96,-7.168000000000001 Q10.16,0 6.96,7.168000000000001" fill="none" stroke="#2b2a29" stroke-width="1.35"/><path d="M9.01,-7.168000000000001 Q12.21,0 9.01,7.168000000000001" fill="none" stroke="#2b2a29" stroke-width="1.35"/><path d="M11.06,-7.168000000000001 Q14.26,0 11.06,7.168000000000001" fill="none" stroke="#2b2a29" stroke-width="1.35"/><path d="M13.11,-7.168000000000001 Q16.31,0 13.11,7.168000000000001" fill="none" stroke="#2b2a29" stroke-width="1.35"/><path d="M15.17,-7.168000000000001 Q18.37,0 15.17,7.168000000000001" fill="none" stroke="#2b2a29" stroke-width="1.35"/><ellipse cx="24.88" cy="0" rx="3.5200000000000005" ry="6.08" fill="#fff" stroke="#2b2a29" stroke-width="1.5"/><ellipse cx="25.28" cy="0" rx="1.7920000000000003" ry="3.2" fill="#fff" stroke="#2b2a29" stroke-width="0.9"/></g>
<path d="M1051.87,1563.43 L1035.13,1552.68 L1032.13,1557.34 L1024.52,1541.45 L1042.14,1541.78 L1039.13,1546.45 L1055.87,1557.21 Z" fill="#2b2a29"/>
<path d="M1061.94,1536.13 C1063.76,1537.69 1069.52,1541.56 1072.9,1545.48 C1076.29,1549.41 1081.67,1555.38 1082.26,1559.68 C1082.85,1563.98 1080.16,1567.96 1076.45,1571.29 C1072.74,1574.62 1065.97,1576.45 1060,1579.68 C1054.03,1582.9 1045.43,1586.94 1040.65,1590.65 C1035.86,1594.35 1032.58,1597.9 1031.29,1601.94 C1030,1605.97 1031.02,1611.29 1032.9,1614.84 C1034.78,1618.39 1040.97,1621.83 1042.58,1623.23" fill="none" stroke="#2b2a29" stroke-width="9.6" stroke-linecap="round"/>
<path d="M1061.94,1536.13 C1063.76,1537.69 1069.52,1541.56 1072.9,1545.48 C1076.29,1549.41 1081.67,1555.38 1082.26,1559.68 C1082.85,1563.98 1080.16,1567.96 1076.45,1571.29 C1072.74,1574.62 1065.97,1576.45 1060,1579.68 C1054.03,1582.9 1045.43,1586.94 1040.65,1590.65 C1035.86,1594.35 1032.58,1597.9 1031.29,1601.94 C1030,1605.97 1031.02,1611.29 1032.9,1614.84 C1034.78,1618.39 1040.97,1621.83 1042.58,1623.23" fill="none" stroke="#bcbcbc" stroke-width="6.6" stroke-linecap="round"/>
<path d="M1073.71,1548.39 C1074.7,1550.11 1079.22,1555.7 1079.68,1558.71 C1080.13,1561.72 1076.99,1565.16 1076.45,1566.45" fill="none" stroke="#666" stroke-width="0.7" />
<path d="M1040.32,1593.87 C1039.57,1595.22 1036.4,1599.25 1035.81,1601.94 C1035.22,1604.62 1036.61,1608.66 1036.77,1610" fill="none" stroke="#666" stroke-width="0.7" />
<ellipse cx="1043.06" cy="1623.71" rx="4.2" ry="3.6" fill="#fff" stroke="#2b2a29" stroke-width="1.6"/>
<path d="M1055.16,1575.32 C1055.51,1576.13 1056.24,1578.55 1057.26,1580.16 C1058.28,1581.77 1060.62,1584.19 1061.29,1585" fill="none" stroke="#fff" stroke-width="2.6" />
<path d="M1054.19,1575.32 C1054.54,1576.21 1055.27,1578.9 1056.29,1580.65 C1057.31,1582.39 1059.65,1584.95 1060.32,1585.81" fill="none" stroke="#2b2a29" stroke-width="0.8" />
<path d="M1056.29,1574.84 C1056.64,1575.65 1057.34,1578.06 1058.39,1579.68 C1059.44,1581.29 1061.88,1583.71 1062.58,1584.52" fill="none" stroke="#2b2a29" stroke-width="0.8" />
<line x1="989" y1="1587.4" x2="1026.5" y2="1598.2" stroke="#fff" stroke-width="2.7" /><line x1="989" y1="1587.4" x2="1026.5" y2="1598.2" stroke="#2b2a29" stroke-width="0.9" /><circle cx="1026.5" cy="1598.2" r="2.4" fill="#2b2a29"/>
<text x="974.5" y="1586.6" font-size="18" text-anchor="start" fill="#2b2a29" style="font-family:'Liberation Sans',sans-serif;font-weight:bold" >8</text>
<ellipse cx="956.3" cy="1422.5" rx="75.8" ry="53.6" fill="#fff" stroke="#2b2a29" stroke-width="0.9"/>
<path d="M911.13,1413.23 C911.48,1410.54 910.81,1402.34 913.23,1397.1 C915.65,1391.85 920.75,1384.87 925.65,1381.77 C930.54,1378.68 937.34,1377.88 942.58,1378.55 C947.82,1379.22 953.74,1382.58 957.1,1385.81 C960.46,1389.03 961.75,1394.35 962.74,1397.9 C963.74,1401.45 963.01,1405.56 963.06,1407.1" fill="none" stroke="#2b2a29" stroke-width="1.9" />
<path d="M882.9,1426.13 C884.78,1425.46 891.72,1423.49 894.19,1422.1 C896.67,1420.7 895.32,1419.09 897.74,1417.74 C900.16,1416.4 905.27,1415 908.71,1414.03 C912.15,1413.06 916.77,1412.28 918.39,1411.94" fill="none" stroke="#2b2a29" stroke-width="1.6" />
<path d="M942.26,1402.26 L949.03,1400.32 L959.03,1396.45 L963.06,1407.1 L958.39,1407.74 L949.03,1400.32" fill="none" stroke="#2b2a29" stroke-width="1.4" />
<line x1="945.81" y1="1408.39" x2="960.32" y2="1405.16" stroke="#2b2a29" stroke-width="1.6" />
<line x1="974.84" y1="1405.16" x2="1016.77" y2="1393.06" stroke="#2b2a29" stroke-width="1.9" />
<line x1="939.35" y1="1411.94" x2="976.45" y2="1435" stroke="#2b2a29" stroke-width="0.9" />
<g transform="translate(918.39,1400.32) rotate(28.98)"><path d="M0,-7.359999999999999 L23.97,-5.44 L23.97,5.44 L0,7.359999999999999 Z" fill="#fff" stroke="#2b2a29" stroke-width="1.2"/><ellipse cx="0" cy="0" rx="2.688" ry="7.359999999999999" fill="#ddd" stroke="#2b2a29" stroke-width="1.1"/><path d="M0.8,-7.168000000000001 Q4,0 0.8,7.168000000000001" fill="none" stroke="#2b2a29" stroke-width="1.35"/><path d="M2.78,-7.168000000000001 Q5.98,0 2.78,7.168000000000001" fill="none" stroke="#2b2a29" stroke-width="1.35"/><path d="M4.75,-7.168000000000001 Q7.95,0 4.75,7.168000000000001" fill="none" stroke="#2b2a29" stroke-width="1.35"/><path d="M6.73,-7.168000000000001 Q9.93,0 6.73,7.168000000000001" fill="none" stroke="#2b2a29" stroke-width="1.35"/><path d="M8.71,-7.168000000000001 Q11.91,0 8.71,7.168000000000001" fill="none" stroke="#2b2a29" stroke-width="1.35"/><path d="M10.69,-7.168000000000001 Q13.89,0 10.69,7.168000000000001" fill="none" stroke="#2b2a29" stroke-width="1.35"/><path d="M12.66,-7.168000000000001 Q15.86,0 12.66,7.168000000000001" fill="none" stroke="#2b2a29" stroke-width="1.35"/><path d="M14.64,-7.168000000000001 Q17.84,0 14.64,7.168000000000001" fill="none" stroke="#2b2a29" stroke-width="1.35"/><ellipse cx="23.97" cy="0" rx="3.5200000000000005" ry="6.08" fill="#fff" stroke="#2b2a29" stroke-width="1.5"/><ellipse cx="24.37" cy="0" rx="1.7920000000000003" ry="3.2" fill="#fff" stroke="#2b2a29" stroke-width="0.9"/></g>
<ellipse cx="950.32" cy="1419.35" rx="3.4" ry="4.6" fill="#fff" stroke="#2b2a29" stroke-width="1.2" transform="rotate(-25 950.32 1419.35)"/>
<ellipse cx="953.87" cy="1421.77" rx="3.6" ry="5.0" fill="#fff" stroke="#2b2a29" stroke-width="1.2" transform="rotate(-25 953.87 1421.77)"/>
<ellipse cx="959.52" cy="1424.19" rx="5.6" ry="7.4" fill="#fff" stroke="#2b2a29" stroke-width="1.3" transform="rotate(-25 959.52 1424.19)"/>
<ellipse cx="965.48" cy="1427.74" rx="5.6" ry="7.4" fill="#fff" stroke="#2b2a29" stroke-width="1.5" transform="rotate(-25 965.48 1427.74)"/>
<path d="M920.36,1419.31 L932.67,1426.58 L934.42,1423.61 L939.68,1433.39 L928.57,1433.51 L930.33,1430.54 L918.02,1423.27 Z" fill="#2b2a29"/>
<path d="M978.93,1406.74 L991.61,1414.41 L993.39,1411.45 L998.55,1421.29 L987.44,1421.3 L989.23,1418.34 L976.55,1410.68 Z" fill="#2b2a29"/>
<g transform="translate(982.9,1440.65) rotate(31.87)"><path d="M0,-13.5 L35.13,-10.5 L35.13,10.5 L0,13.5 Z" fill="#2b2a29"/><ellipse cx="0" cy="0" rx="6.5" ry="13.5" fill="#2b2a29"/><path d="M3,-14.6 L13.35,-13.2 M3,14.6 L13.35,13" stroke="#2b2a29" stroke-width="2.2"/><ellipse cx="35.13" cy="0" rx="7.2" ry="10.6" fill="#2b2a29" stroke="#fff" stroke-width="1.4"/><ellipse cx="35.13" cy="0" rx="8.6" ry="12" fill="none" stroke="#2b2a29" stroke-width="1.3"/><path d="M12.65,-10.5 L12.65,-3 L27.4,-3 M12.65,1.5 L12.65,8 L28.11,6.5 M12.65,1.5 L26.35,1" fill="none" stroke="#fff" stroke-width="1.1"/><path d="M17.57,-12 L17.57,-7.5 L25.3,-7.5 L25.3,-11.5" fill="none" stroke="#fff" stroke-width="1.0"/></g>
<line x1="999.9" y1="1373" x2="958.7" y2="1415.8" stroke="#fff" stroke-width="2.7" /><line x1="999.9" y1="1373" x2="958.7" y2="1415.8" stroke="#2b2a29" stroke-width="0.9" /><circle cx="958.7" cy="1415.8" r="2.4" fill="#2b2a29"/>
<text x="1001" y="1371.8" font-size="18" text-anchor="start" fill="#2b2a29" style="font-family:'Liberation Sans',sans-serif;font-weight:bold" >24a</text>
<line x1="1056.5" y1="1434.7" x2="1010.2" y2="1443.3" stroke="#fff" stroke-width="2.7" /><line x1="1056.5" y1="1434.7" x2="1010.2" y2="1443.3" stroke="#2b2a29" stroke-width="0.9" /><circle cx="1010.2" cy="1443.3" r="2.4" fill="#2b2a29"/>
<text x="1058.4" y="1435.9" font-size="18" text-anchor="start" fill="#2b2a29" style="font-family:'Liberation Sans',sans-serif;font-weight:bold" >24</text>
<path d="M967.74,1472.58 L980.65,1465.16 L993.06,1490.32 L1000.65,1486.29 L1002.9,1515.16 L976.61,1502.26 L984.19,1498.06 Z" fill="url(#p6grad)"/>
<path d="M118.9,95.3 L118.9,1656.4 Q118.9,1674.4 136.9,1674.4 L1145.2,1674.4 Q1163.2,1674.4 1163.2,1656.4 L1163.2,93.3 Q1163.2,75.3 1145.2,75.3 L138.9,75.3" fill="none" stroke="#2b2a29" stroke-width="1.3" />
<line x1="636.9" y1="75.3" x2="636.9" y2="1674.4" stroke="#2b2a29" stroke-width="1.3" />
<line x1="118.9" y1="773.2" x2="636.9" y2="773.2" stroke="#2b2a29" stroke-width="1.3" />
<line x1="118.9" y1="1286.9" x2="636.9" y2="1286.9" stroke="#2b2a29" stroke-width="1.3" />
<line x1="636.9" y1="474.2" x2="1163.2" y2="474.2" stroke="#2b2a29" stroke-width="1.3" />
<line x1="636.9" y1="877.1" x2="1163.2" y2="877.1" stroke="#2b2a29" stroke-width="1.3" />
<line x1="636.9" y1="1349.8" x2="1163.2" y2="1349.8" stroke="#2b2a29" stroke-width="1.3" />
<line x1="383.2" y1="1295" x2="383.2" y2="1659" stroke="#444" stroke-width="1.0" />
<line x1="383.2" y1="1471.5" x2="626" y2="1471.5" stroke="#444" stroke-width="1.0" />
<circle cx="138.3" cy="94.8" r="19.8" fill="#2b2a29"/>
<text x="138.5" y="102.6" font-size="23.5" text-anchor="middle" fill="#fff" style="font-family:'Liberation Sans',sans-serif;font-weight:bold">A</text>
<rect x="636.3" y="75.3" width="39.5" height="40" fill="#2b2a29"/><text x="657.05" y="102.5" font-size="23.5" text-anchor="middle" fill="#fff" style="font-family:'Liberation Sans',sans-serif;font-weight:bold">1</text>
<rect x="636.3" y="474.2" width="39.5" height="40" fill="#2b2a29"/><text x="657.05" y="501.4" font-size="23.5" text-anchor="middle" fill="#fff" style="font-family:'Liberation Sans',sans-serif;font-weight:bold">2</text>
<rect x="636.3" y="877.1" width="39.5" height="40" fill="#2b2a29"/><text x="657.05" y="904.3" font-size="23.5" text-anchor="middle" fill="#fff" style="font-family:'Liberation Sans',sans-serif;font-weight:bold">5</text>
<rect x="636.3" y="1349.8" width="39.5" height="40" fill="#2b2a29"/><text x="657.05" y="1377" font-size="23.5" text-anchor="middle" fill="#fff" style="font-family:'Liberation Sans',sans-serif;font-weight:bold">6</text>
<rect x="118.3" y="773.2" width="39.5" height="40" fill="#2b2a29"/><text x="139.05" y="800.4" font-size="23.5" text-anchor="middle" fill="#fff" style="font-family:'Liberation Sans',sans-serif;font-weight:bold">3</text>
<rect x="118.3" y="1286.9" width="39.5" height="40" fill="#2b2a29"/><text x="139.05" y="1314.1" font-size="23.5" text-anchor="middle" fill="#fff" style="font-family:'Liberation Sans',sans-serif;font-weight:bold">4</text>
</svg>
</body></html>
